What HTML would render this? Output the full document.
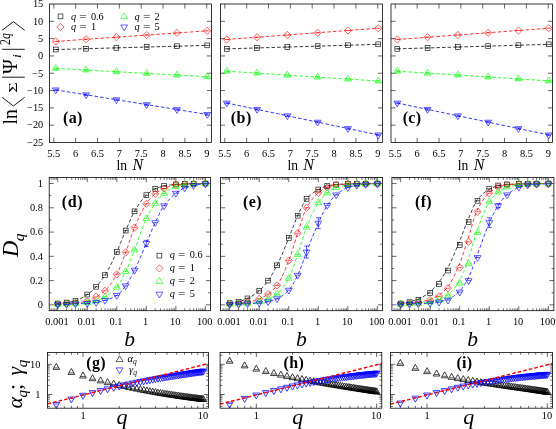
<!DOCTYPE html>
<html><head><meta charset="utf-8"><title>figure</title>
<style>html,body{margin:0;padding:0;background:#fff;}svg{display:block;}text{font-family:"Liberation Serif",serif;}</style></head>
<body>
<svg width="556" height="429" viewBox="0 0 556 429" font-family='"Liberation Serif", serif' fill="#000">
<rect width="556" height="429" fill="#fff"/>
<path d="M53.8 142.5L53.8 137.9M53.8 4L53.8 8.6M75.65 142.5L75.65 137.9M75.65 4L75.65 8.6M97.5 142.5L97.5 137.9M97.5 4L97.5 8.6M119.35 142.5L119.35 137.9M119.35 4L119.35 8.6M141.2 142.5L141.2 137.9M141.2 4L141.2 8.6M163.05 142.5L163.05 137.9M163.05 4L163.05 8.6M184.9 142.5L184.9 137.9M184.9 4L184.9 8.6M206.75 142.5L206.75 137.9M206.75 4L206.75 8.6M49.5 125.19L54.1 125.19M211.45 125.19L206.85 125.19M49.5 107.88L54.1 107.88M211.45 107.88L206.85 107.88M49.5 90.56L54.1 90.56M211.45 90.56L206.85 90.56M49.5 73.25L54.1 73.25M211.45 73.25L206.85 73.25M49.5 55.94L54.1 55.94M211.45 55.94L206.85 55.94M49.5 38.62L54.1 38.62M211.45 38.62L206.85 38.62M49.5 21.31L54.1 21.31M211.45 21.31L206.85 21.31" stroke="#000" stroke-width="0.6" fill="none"/>
<path d="M55.77 49.53L207.23 45.38" stroke="#000000" stroke-width="0.78" stroke-dasharray="3.5 2.1" fill="none"/>
<path d="M53.47 49.53H58.07" stroke="#000000" stroke-width="0.62" fill="none"/>
<rect x="53.37" y="47.13" width="4.8" height="4.8" fill="none" stroke="#000000" stroke-width="0.62"/>
<path d="M83.76 48.7H88.36" stroke="#000000" stroke-width="0.62" fill="none"/>
<rect x="83.66" y="46.3" width="4.8" height="4.8" fill="none" stroke="#000000" stroke-width="0.62"/>
<path d="M114.06 47.87H118.66" stroke="#000000" stroke-width="0.62" fill="none"/>
<rect x="113.96" y="45.47" width="4.8" height="4.8" fill="none" stroke="#000000" stroke-width="0.62"/>
<path d="M144.35 47.04H148.95" stroke="#000000" stroke-width="0.62" fill="none"/>
<rect x="144.25" y="44.64" width="4.8" height="4.8" fill="none" stroke="#000000" stroke-width="0.62"/>
<path d="M174.64 46.21H179.24" stroke="#000000" stroke-width="0.62" fill="none"/>
<rect x="174.54" y="43.81" width="4.8" height="4.8" fill="none" stroke="#000000" stroke-width="0.62"/>
<path d="M204.93 45.38H209.53" stroke="#000000" stroke-width="0.62" fill="none"/>
<rect x="204.83" y="42.98" width="4.8" height="4.8" fill="none" stroke="#000000" stroke-width="0.62"/>
<path d="M55.77 41.4L207.23 30.83" stroke="#ff0000" stroke-width="0.78" stroke-dasharray="3.5 2.1" fill="none"/>
<path d="M53.47 41.4H58.07" stroke="#ff0000" stroke-width="0.62" fill="none"/>
<path d="M55.77 37.8L59.37 41.4L55.77 45L52.17 41.4Z" fill="none" stroke="#ff0000" stroke-width="0.62"/>
<path d="M83.76 39.28H88.36" stroke="#ff0000" stroke-width="0.62" fill="none"/>
<path d="M86.06 35.68L89.66 39.28L86.06 42.88L82.46 39.28Z" fill="none" stroke="#ff0000" stroke-width="0.62"/>
<path d="M114.06 37.17H118.66" stroke="#ff0000" stroke-width="0.62" fill="none"/>
<path d="M116.36 33.57L119.96 37.17L116.36 40.77L112.76 37.17Z" fill="none" stroke="#ff0000" stroke-width="0.62"/>
<path d="M144.35 35.06H148.95" stroke="#ff0000" stroke-width="0.62" fill="none"/>
<path d="M146.65 31.46L150.25 35.06L146.65 38.66L143.05 35.06Z" fill="none" stroke="#ff0000" stroke-width="0.62"/>
<path d="M174.64 32.95H179.24" stroke="#ff0000" stroke-width="0.62" fill="none"/>
<path d="M176.94 29.35L180.54 32.95L176.94 36.55L173.34 32.95Z" fill="none" stroke="#ff0000" stroke-width="0.62"/>
<path d="M204.93 30.83H209.53" stroke="#ff0000" stroke-width="0.62" fill="none"/>
<path d="M207.23 27.23L210.83 30.83L207.23 34.43L203.63 30.83Z" fill="none" stroke="#ff0000" stroke-width="0.62"/>
<path d="M55.77 68.4L207.23 76.71" stroke="#00ff00" stroke-width="0.78" stroke-dasharray="3.5 2.1" fill="none"/>
<path d="M55.77 67.95V69.45" stroke="#00ff00" stroke-width="0.62" fill="none"/><path d="M53.47 67.95H58.07 M53.47 69.45H58.07" stroke="#00ff00" stroke-width="0.62" fill="none"/>
<path d="M55.77 64.53L59.22 70.33L52.32 70.33Z" fill="none" stroke="#00ff00" stroke-width="0.62"/>
<path d="M86.06 69.61V71.11" stroke="#00ff00" stroke-width="0.62" fill="none"/><path d="M83.76 69.61H88.36 M83.76 71.11H88.36" stroke="#00ff00" stroke-width="0.62" fill="none"/>
<path d="M86.06 66.2L89.51 72L82.61 72Z" fill="none" stroke="#00ff00" stroke-width="0.62"/>
<path d="M116.36 71.28V72.78" stroke="#00ff00" stroke-width="0.62" fill="none"/><path d="M114.06 71.28H118.66 M114.06 72.78H118.66" stroke="#00ff00" stroke-width="0.62" fill="none"/>
<path d="M116.36 67.86L119.81 73.66L112.91 73.66Z" fill="none" stroke="#00ff00" stroke-width="0.62"/>
<path d="M146.65 72.94V74.44" stroke="#00ff00" stroke-width="0.62" fill="none"/><path d="M144.35 72.94H148.95 M144.35 74.44H148.95" stroke="#00ff00" stroke-width="0.62" fill="none"/>
<path d="M146.65 69.52L150.1 75.32L143.2 75.32Z" fill="none" stroke="#00ff00" stroke-width="0.62"/>
<path d="M176.94 74.6V76.1" stroke="#00ff00" stroke-width="0.62" fill="none"/><path d="M174.64 74.6H179.24 M174.64 76.1H179.24" stroke="#00ff00" stroke-width="0.62" fill="none"/>
<path d="M176.94 71.18L180.39 76.98L173.49 76.98Z" fill="none" stroke="#00ff00" stroke-width="0.62"/>
<path d="M207.23 76.26V77.76" stroke="#00ff00" stroke-width="0.62" fill="none"/><path d="M204.93 76.26H209.53 M204.93 77.76H209.53" stroke="#00ff00" stroke-width="0.62" fill="none"/>
<path d="M207.23 72.84L210.68 78.64L203.78 78.64Z" fill="none" stroke="#00ff00" stroke-width="0.62"/>
<path d="M55.77 89.87L207.23 114.45" stroke="#0000ff" stroke-width="0.78" stroke-dasharray="3.5 2.1" fill="none"/>
<path d="M55.77 89.12V90.62" stroke="#0000ff" stroke-width="0.62" fill="none"/><path d="M53.47 89.12H58.07 M53.47 90.62H58.07" stroke="#0000ff" stroke-width="0.62" fill="none"/>
<path d="M55.77 93.74L59.22 87.94L52.32 87.94Z" fill="none" stroke="#0000ff" stroke-width="0.62"/>
<path d="M86.06 94.04V95.54" stroke="#0000ff" stroke-width="0.62" fill="none"/><path d="M83.76 94.04H88.36 M83.76 95.54H88.36" stroke="#0000ff" stroke-width="0.62" fill="none"/>
<path d="M86.06 98.66L89.51 92.86L82.61 92.86Z" fill="none" stroke="#0000ff" stroke-width="0.62"/>
<path d="M116.36 98.95V100.45" stroke="#0000ff" stroke-width="0.62" fill="none"/><path d="M114.06 98.95H118.66 M114.06 100.45H118.66" stroke="#0000ff" stroke-width="0.62" fill="none"/>
<path d="M116.36 103.57L119.81 97.77L112.91 97.77Z" fill="none" stroke="#0000ff" stroke-width="0.62"/>
<path d="M146.65 103.87V105.37" stroke="#0000ff" stroke-width="0.62" fill="none"/><path d="M144.35 103.87H148.95 M144.35 105.37H148.95" stroke="#0000ff" stroke-width="0.62" fill="none"/>
<path d="M146.65 108.49L150.1 102.69L143.2 102.69Z" fill="none" stroke="#0000ff" stroke-width="0.62"/>
<path d="M176.94 108.79V110.29" stroke="#0000ff" stroke-width="0.62" fill="none"/><path d="M174.64 108.79H179.24 M174.64 110.29H179.24" stroke="#0000ff" stroke-width="0.62" fill="none"/>
<path d="M176.94 113.41L180.39 107.61L173.49 107.61Z" fill="none" stroke="#0000ff" stroke-width="0.62"/>
<path d="M207.23 113.7V115.2" stroke="#0000ff" stroke-width="0.62" fill="none"/><path d="M204.93 113.7H209.53 M204.93 115.2H209.53" stroke="#0000ff" stroke-width="0.62" fill="none"/>
<path d="M207.23 118.32L210.68 112.52L203.78 112.52Z" fill="none" stroke="#0000ff" stroke-width="0.62"/>
<rect x="49.5" y="4" width="161.95" height="138.5" fill="none" stroke="#000" stroke-width="0.78"/>
<path d="M224.8 142.5L224.8 137.9M224.8 4L224.8 8.6M246.65 142.5L246.65 137.9M246.65 4L246.65 8.6M268.5 142.5L268.5 137.9M268.5 4L268.5 8.6M290.35 142.5L290.35 137.9M290.35 4L290.35 8.6M312.2 142.5L312.2 137.9M312.2 4L312.2 8.6M334.05 142.5L334.05 137.9M334.05 4L334.05 8.6M355.9 142.5L355.9 137.9M355.9 4L355.9 8.6M377.75 142.5L377.75 137.9M377.75 4L377.75 8.6M220.5 125.19L225.1 125.19M382.4 125.19L377.8 125.19M220.5 107.88L225.1 107.88M382.4 107.88L377.8 107.88M220.5 90.56L225.1 90.56M382.4 90.56L377.8 90.56M220.5 73.25L225.1 73.25M382.4 73.25L377.8 73.25M220.5 55.94L225.1 55.94M382.4 55.94L377.8 55.94M220.5 38.62L225.1 38.62M382.4 38.62L377.8 38.62M220.5 21.31L225.1 21.31M382.4 21.31L377.8 21.31" stroke="#000" stroke-width="0.6" fill="none"/>
<path d="M226.77 48.84L378.23 44.34" stroke="#000000" stroke-width="0.78" stroke-dasharray="3.5 2.1" fill="none"/>
<path d="M224.47 48.84H229.07" stroke="#000000" stroke-width="0.62" fill="none"/>
<rect x="224.37" y="46.44" width="4.8" height="4.8" fill="none" stroke="#000000" stroke-width="0.62"/>
<path d="M254.76 47.94H259.36" stroke="#000000" stroke-width="0.62" fill="none"/>
<rect x="254.66" y="45.54" width="4.8" height="4.8" fill="none" stroke="#000000" stroke-width="0.62"/>
<path d="M285.06 47.04H289.66" stroke="#000000" stroke-width="0.62" fill="none"/>
<rect x="284.96" y="44.64" width="4.8" height="4.8" fill="none" stroke="#000000" stroke-width="0.62"/>
<path d="M315.35 46.14H319.95" stroke="#000000" stroke-width="0.62" fill="none"/>
<rect x="315.25" y="43.74" width="4.8" height="4.8" fill="none" stroke="#000000" stroke-width="0.62"/>
<path d="M345.64 45.24H350.24" stroke="#000000" stroke-width="0.62" fill="none"/>
<rect x="345.54" y="42.84" width="4.8" height="4.8" fill="none" stroke="#000000" stroke-width="0.62"/>
<path d="M375.93 44.34H380.53" stroke="#000000" stroke-width="0.62" fill="none"/>
<rect x="375.83" y="41.94" width="4.8" height="4.8" fill="none" stroke="#000000" stroke-width="0.62"/>
<path d="M226.77 39.49L378.23 28.24" stroke="#ff0000" stroke-width="0.78" stroke-dasharray="3.5 2.1" fill="none"/>
<path d="M224.47 39.49H229.07" stroke="#ff0000" stroke-width="0.62" fill="none"/>
<path d="M226.77 35.89L230.37 39.49L226.77 43.09L223.17 39.49Z" fill="none" stroke="#ff0000" stroke-width="0.62"/>
<path d="M254.76 37.24H259.36" stroke="#ff0000" stroke-width="0.62" fill="none"/>
<path d="M257.06 33.64L260.66 37.24L257.06 40.84L253.46 37.24Z" fill="none" stroke="#ff0000" stroke-width="0.62"/>
<path d="M285.06 34.99H289.66" stroke="#ff0000" stroke-width="0.62" fill="none"/>
<path d="M287.36 31.39L290.96 34.99L287.36 38.59L283.76 34.99Z" fill="none" stroke="#ff0000" stroke-width="0.62"/>
<path d="M315.35 32.74H319.95" stroke="#ff0000" stroke-width="0.62" fill="none"/>
<path d="M317.65 29.14L321.25 32.74L317.65 36.34L314.05 32.74Z" fill="none" stroke="#ff0000" stroke-width="0.62"/>
<path d="M345.64 30.49H350.24" stroke="#ff0000" stroke-width="0.62" fill="none"/>
<path d="M347.94 26.89L351.54 30.49L347.94 34.09L344.34 30.49Z" fill="none" stroke="#ff0000" stroke-width="0.62"/>
<path d="M375.93 28.24H380.53" stroke="#ff0000" stroke-width="0.62" fill="none"/>
<path d="M378.23 24.64L381.83 28.24L378.23 31.84L374.63 28.24Z" fill="none" stroke="#ff0000" stroke-width="0.62"/>
<path d="M226.77 71.17L378.23 81.04" stroke="#00ff00" stroke-width="0.78" stroke-dasharray="3.5 2.1" fill="none"/>
<path d="M226.77 70.72V72.22" stroke="#00ff00" stroke-width="0.62" fill="none"/><path d="M224.47 70.72H229.07 M224.47 72.22H229.07" stroke="#00ff00" stroke-width="0.62" fill="none"/>
<path d="M226.77 67.3L230.22 73.1L223.32 73.1Z" fill="none" stroke="#00ff00" stroke-width="0.62"/>
<path d="M257.06 72.7V74.2" stroke="#00ff00" stroke-width="0.62" fill="none"/><path d="M254.76 72.7H259.36 M254.76 74.2H259.36" stroke="#00ff00" stroke-width="0.62" fill="none"/>
<path d="M257.06 69.28L260.51 75.08L253.61 75.08Z" fill="none" stroke="#00ff00" stroke-width="0.62"/>
<path d="M287.36 74.67V76.17" stroke="#00ff00" stroke-width="0.62" fill="none"/><path d="M285.06 74.67H289.66 M285.06 76.17H289.66" stroke="#00ff00" stroke-width="0.62" fill="none"/>
<path d="M287.36 71.25L290.81 77.05L283.91 77.05Z" fill="none" stroke="#00ff00" stroke-width="0.62"/>
<path d="M317.65 76.64V78.14" stroke="#00ff00" stroke-width="0.62" fill="none"/><path d="M315.35 76.64H319.95 M315.35 78.14H319.95" stroke="#00ff00" stroke-width="0.62" fill="none"/>
<path d="M317.65 73.22L321.1 79.02L314.2 79.02Z" fill="none" stroke="#00ff00" stroke-width="0.62"/>
<path d="M347.94 78.62V80.12" stroke="#00ff00" stroke-width="0.62" fill="none"/><path d="M345.64 78.62H350.24 M345.64 80.12H350.24" stroke="#00ff00" stroke-width="0.62" fill="none"/>
<path d="M347.94 75.2L351.39 81L344.49 81Z" fill="none" stroke="#00ff00" stroke-width="0.62"/>
<path d="M378.23 80.59V82.09" stroke="#00ff00" stroke-width="0.62" fill="none"/><path d="M375.93 80.59H380.53 M375.93 82.09H380.53" stroke="#00ff00" stroke-width="0.62" fill="none"/>
<path d="M378.23 77.17L381.68 82.97L374.78 82.97Z" fill="none" stroke="#00ff00" stroke-width="0.62"/>
<path d="M226.77 103.03L378.23 134.88" stroke="#0000ff" stroke-width="0.78" stroke-dasharray="3.5 2.1" fill="none"/>
<path d="M226.77 102.28V103.78" stroke="#0000ff" stroke-width="0.62" fill="none"/><path d="M224.47 102.28H229.07 M224.47 103.78H229.07" stroke="#0000ff" stroke-width="0.62" fill="none"/>
<path d="M226.77 106.9L230.22 101.1L223.32 101.1Z" fill="none" stroke="#0000ff" stroke-width="0.62"/>
<path d="M257.06 108.65V110.15" stroke="#0000ff" stroke-width="0.62" fill="none"/><path d="M254.76 108.65H259.36 M254.76 110.15H259.36" stroke="#0000ff" stroke-width="0.62" fill="none"/>
<path d="M257.06 113.27L260.51 107.47L253.61 107.47Z" fill="none" stroke="#0000ff" stroke-width="0.62"/>
<path d="M287.36 115.02V116.52" stroke="#0000ff" stroke-width="0.62" fill="none"/><path d="M285.06 115.02H289.66 M285.06 116.52H289.66" stroke="#0000ff" stroke-width="0.62" fill="none"/>
<path d="M287.36 119.64L290.81 113.84L283.91 113.84Z" fill="none" stroke="#0000ff" stroke-width="0.62"/>
<path d="M317.65 121.39V122.89" stroke="#0000ff" stroke-width="0.62" fill="none"/><path d="M315.35 121.39H319.95 M315.35 122.89H319.95" stroke="#0000ff" stroke-width="0.62" fill="none"/>
<path d="M317.65 126.01L321.1 120.21L314.2 120.21Z" fill="none" stroke="#0000ff" stroke-width="0.62"/>
<path d="M347.94 127.76V129.26" stroke="#0000ff" stroke-width="0.62" fill="none"/><path d="M345.64 127.76H350.24 M345.64 129.26H350.24" stroke="#0000ff" stroke-width="0.62" fill="none"/>
<path d="M347.94 132.38L351.39 126.58L344.49 126.58Z" fill="none" stroke="#0000ff" stroke-width="0.62"/>
<path d="M378.23 134.13V135.63" stroke="#0000ff" stroke-width="0.62" fill="none"/><path d="M375.93 134.13H380.53 M375.93 135.63H380.53" stroke="#0000ff" stroke-width="0.62" fill="none"/>
<path d="M378.23 138.75L381.68 132.95L374.78 132.95Z" fill="none" stroke="#0000ff" stroke-width="0.62"/>
<rect x="220.5" y="4" width="161.9" height="138.5" fill="none" stroke="#000" stroke-width="0.78"/>
<path d="M395.3 142.5L395.3 137.9M395.3 4L395.3 8.6M417.15 142.5L417.15 137.9M417.15 4L417.15 8.6M439 142.5L439 137.9M439 4L439 8.6M460.85 142.5L460.85 137.9M460.85 4L460.85 8.6M482.7 142.5L482.7 137.9M482.7 4L482.7 8.6M504.55 142.5L504.55 137.9M504.55 4L504.55 8.6M526.4 142.5L526.4 137.9M526.4 4L526.4 8.6M548.25 142.5L548.25 137.9M548.25 4L548.25 8.6M391 125.19L395.6 125.19M552.55 125.19L547.95 125.19M391 107.88L395.6 107.88M552.55 107.88L547.95 107.88M391 90.56L395.6 90.56M552.55 90.56L547.95 90.56M391 73.25L395.6 73.25M552.55 73.25L547.95 73.25M391 55.94L395.6 55.94M552.55 55.94L547.95 55.94M391 38.62L395.6 38.62M552.55 38.62L547.95 38.62M391 21.31L395.6 21.31M552.55 21.31L547.95 21.31" stroke="#000" stroke-width="0.6" fill="none"/>
<path d="M397.27 48.84L548.73 44.34" stroke="#000000" stroke-width="0.78" stroke-dasharray="3.5 2.1" fill="none"/>
<path d="M394.97 48.84H399.57" stroke="#000000" stroke-width="0.62" fill="none"/>
<rect x="394.87" y="46.44" width="4.8" height="4.8" fill="none" stroke="#000000" stroke-width="0.62"/>
<path d="M425.26 47.94H429.86" stroke="#000000" stroke-width="0.62" fill="none"/>
<rect x="425.16" y="45.54" width="4.8" height="4.8" fill="none" stroke="#000000" stroke-width="0.62"/>
<path d="M455.56 47.04H460.16" stroke="#000000" stroke-width="0.62" fill="none"/>
<rect x="455.46" y="44.64" width="4.8" height="4.8" fill="none" stroke="#000000" stroke-width="0.62"/>
<path d="M485.85 46.14H490.45" stroke="#000000" stroke-width="0.62" fill="none"/>
<rect x="485.75" y="43.74" width="4.8" height="4.8" fill="none" stroke="#000000" stroke-width="0.62"/>
<path d="M516.14 45.24H520.74" stroke="#000000" stroke-width="0.62" fill="none"/>
<rect x="516.04" y="42.84" width="4.8" height="4.8" fill="none" stroke="#000000" stroke-width="0.62"/>
<path d="M546.43 44.34H551.03" stroke="#000000" stroke-width="0.62" fill="none"/>
<rect x="546.33" y="41.94" width="4.8" height="4.8" fill="none" stroke="#000000" stroke-width="0.62"/>
<path d="M397.27 39.49L548.73 28.24" stroke="#ff0000" stroke-width="0.78" stroke-dasharray="3.5 2.1" fill="none"/>
<path d="M394.97 39.49H399.57" stroke="#ff0000" stroke-width="0.62" fill="none"/>
<path d="M397.27 35.89L400.87 39.49L397.27 43.09L393.67 39.49Z" fill="none" stroke="#ff0000" stroke-width="0.62"/>
<path d="M425.26 37.24H429.86" stroke="#ff0000" stroke-width="0.62" fill="none"/>
<path d="M427.56 33.64L431.16 37.24L427.56 40.84L423.96 37.24Z" fill="none" stroke="#ff0000" stroke-width="0.62"/>
<path d="M455.56 34.99H460.16" stroke="#ff0000" stroke-width="0.62" fill="none"/>
<path d="M457.86 31.39L461.46 34.99L457.86 38.59L454.26 34.99Z" fill="none" stroke="#ff0000" stroke-width="0.62"/>
<path d="M485.85 32.74H490.45" stroke="#ff0000" stroke-width="0.62" fill="none"/>
<path d="M488.15 29.14L491.75 32.74L488.15 36.34L484.55 32.74Z" fill="none" stroke="#ff0000" stroke-width="0.62"/>
<path d="M516.14 30.49H520.74" stroke="#ff0000" stroke-width="0.62" fill="none"/>
<path d="M518.44 26.89L522.04 30.49L518.44 34.09L514.84 30.49Z" fill="none" stroke="#ff0000" stroke-width="0.62"/>
<path d="M546.43 28.24H551.03" stroke="#ff0000" stroke-width="0.62" fill="none"/>
<path d="M548.73 24.64L552.33 28.24L548.73 31.84L545.13 28.24Z" fill="none" stroke="#ff0000" stroke-width="0.62"/>
<path d="M397.27 71.17L548.73 80.87" stroke="#00ff00" stroke-width="0.78" stroke-dasharray="3.5 2.1" fill="none"/>
<path d="M397.27 70.72V72.22" stroke="#00ff00" stroke-width="0.62" fill="none"/><path d="M394.97 70.72H399.57 M394.97 72.22H399.57" stroke="#00ff00" stroke-width="0.62" fill="none"/>
<path d="M397.27 67.3L400.72 73.1L393.82 73.1Z" fill="none" stroke="#00ff00" stroke-width="0.62"/>
<path d="M427.56 72.66V74.16" stroke="#00ff00" stroke-width="0.62" fill="none"/><path d="M425.26 72.66H429.86 M425.26 74.16H429.86" stroke="#00ff00" stroke-width="0.62" fill="none"/>
<path d="M427.56 69.24L431.01 75.04L424.11 75.04Z" fill="none" stroke="#00ff00" stroke-width="0.62"/>
<path d="M457.86 74.6V76.1" stroke="#00ff00" stroke-width="0.62" fill="none"/><path d="M455.56 74.6H460.16 M455.56 76.1H460.16" stroke="#00ff00" stroke-width="0.62" fill="none"/>
<path d="M457.86 71.18L461.31 76.98L454.41 76.98Z" fill="none" stroke="#00ff00" stroke-width="0.62"/>
<path d="M488.15 76.54V78.04" stroke="#00ff00" stroke-width="0.62" fill="none"/><path d="M485.85 76.54H490.45 M485.85 78.04H490.45" stroke="#00ff00" stroke-width="0.62" fill="none"/>
<path d="M488.15 73.12L491.6 78.92L484.7 78.92Z" fill="none" stroke="#00ff00" stroke-width="0.62"/>
<path d="M518.44 78.48V79.98" stroke="#00ff00" stroke-width="0.62" fill="none"/><path d="M516.14 78.48H520.74 M516.14 79.98H520.74" stroke="#00ff00" stroke-width="0.62" fill="none"/>
<path d="M518.44 75.06L521.89 80.86L514.99 80.86Z" fill="none" stroke="#00ff00" stroke-width="0.62"/>
<path d="M548.73 80.42V81.92" stroke="#00ff00" stroke-width="0.62" fill="none"/><path d="M546.43 80.42H551.03 M546.43 81.92H551.03" stroke="#00ff00" stroke-width="0.62" fill="none"/>
<path d="M548.73 77L552.18 82.8L545.28 82.8Z" fill="none" stroke="#00ff00" stroke-width="0.62"/>
<path d="M397.27 103.03L548.73 134.88" stroke="#0000ff" stroke-width="0.78" stroke-dasharray="3.5 2.1" fill="none"/>
<path d="M397.27 102.28V103.78" stroke="#0000ff" stroke-width="0.62" fill="none"/><path d="M394.97 102.28H399.57 M394.97 103.78H399.57" stroke="#0000ff" stroke-width="0.62" fill="none"/>
<path d="M397.27 106.9L400.72 101.1L393.82 101.1Z" fill="none" stroke="#0000ff" stroke-width="0.62"/>
<path d="M427.56 108.65V110.15" stroke="#0000ff" stroke-width="0.62" fill="none"/><path d="M425.26 108.65H429.86 M425.26 110.15H429.86" stroke="#0000ff" stroke-width="0.62" fill="none"/>
<path d="M427.56 113.27L431.01 107.47L424.11 107.47Z" fill="none" stroke="#0000ff" stroke-width="0.62"/>
<path d="M457.86 115.02V116.52" stroke="#0000ff" stroke-width="0.62" fill="none"/><path d="M455.56 115.02H460.16 M455.56 116.52H460.16" stroke="#0000ff" stroke-width="0.62" fill="none"/>
<path d="M457.86 119.64L461.31 113.84L454.41 113.84Z" fill="none" stroke="#0000ff" stroke-width="0.62"/>
<path d="M488.15 121.39V122.89" stroke="#0000ff" stroke-width="0.62" fill="none"/><path d="M485.85 121.39H490.45 M485.85 122.89H490.45" stroke="#0000ff" stroke-width="0.62" fill="none"/>
<path d="M488.15 126.01L491.6 120.21L484.7 120.21Z" fill="none" stroke="#0000ff" stroke-width="0.62"/>
<path d="M518.44 127.76V129.26" stroke="#0000ff" stroke-width="0.62" fill="none"/><path d="M516.14 127.76H520.74 M516.14 129.26H520.74" stroke="#0000ff" stroke-width="0.62" fill="none"/>
<path d="M518.44 132.38L521.89 126.58L514.99 126.58Z" fill="none" stroke="#0000ff" stroke-width="0.62"/>
<path d="M548.73 134.13V135.63" stroke="#0000ff" stroke-width="0.62" fill="none"/><path d="M546.43 134.13H551.03 M546.43 135.63H551.03" stroke="#0000ff" stroke-width="0.62" fill="none"/>
<path d="M548.73 138.75L552.18 132.95L545.28 132.95Z" fill="none" stroke="#0000ff" stroke-width="0.62"/>
<rect x="391" y="4" width="161.55" height="138.5" fill="none" stroke="#000" stroke-width="0.78"/>
<rect x="58.1" y="14" width="4.8" height="4.8" fill="none" stroke="#000000" stroke-width="0.62"/>
<path d="M60.4 23.4L64 27L60.4 30.6L56.8 27Z" fill="none" stroke="#ff0000" stroke-width="0.62"/>
<path d="M124.2 12.83L127.65 18.63L120.75 18.63Z" fill="none" stroke="#00ff00" stroke-width="0.62"/>
<path d="M124.2 30.77L127.65 24.97L120.75 24.97Z" fill="none" stroke="#0000ff" stroke-width="0.62"/>
<path d="M51.15 310.7L51.15 308.4M51.15 177.5L51.15 179.8M53.12 310.7L53.12 308.4M53.12 177.5L53.12 179.8M54.84 310.7L54.84 308.4M54.84 177.5L54.84 179.8M56.35 310.7L56.35 308.4M56.35 177.5L56.35 179.8M57.7 310.7L57.7 306.1M57.7 177.5L57.7 182.1M66.59 310.7L66.59 308.4M66.59 177.5L66.59 179.8M71.79 310.7L71.79 308.4M71.79 177.5L71.79 179.8M75.48 310.7L75.48 308.4M75.48 177.5L75.48 179.8M78.35 310.7L78.35 308.4M78.35 177.5L78.35 179.8M80.69 310.7L80.69 308.4M80.69 177.5L80.69 179.8M82.66 310.7L82.66 308.4M82.66 177.5L82.66 179.8M84.38 310.7L84.38 308.4M84.38 177.5L84.38 179.8M85.89 310.7L85.89 308.4M85.89 177.5L85.89 179.8M87.24 310.7L87.24 306.1M87.24 177.5L87.24 182.1M96.13 310.7L96.13 308.4M96.13 177.5L96.13 179.8M101.33 310.7L101.33 308.4M101.33 177.5L101.33 179.8M105.02 310.7L105.02 308.4M105.02 177.5L105.02 179.8M107.89 310.7L107.89 308.4M107.89 177.5L107.89 179.8M110.23 310.7L110.23 308.4M110.23 177.5L110.23 179.8M112.2 310.7L112.2 308.4M112.2 177.5L112.2 179.8M113.92 310.7L113.92 308.4M113.92 177.5L113.92 179.8M115.43 310.7L115.43 308.4M115.43 177.5L115.43 179.8M116.78 310.7L116.78 306.1M116.78 177.5L116.78 182.1M125.67 310.7L125.67 308.4M125.67 177.5L125.67 179.8M130.87 310.7L130.87 308.4M130.87 177.5L130.87 179.8M134.56 310.7L134.56 308.4M134.56 177.5L134.56 179.8M137.43 310.7L137.43 308.4M137.43 177.5L137.43 179.8M139.77 310.7L139.77 308.4M139.77 177.5L139.77 179.8M141.74 310.7L141.74 308.4M141.74 177.5L141.74 179.8M143.46 310.7L143.46 308.4M143.46 177.5L143.46 179.8M144.97 310.7L144.97 308.4M144.97 177.5L144.97 179.8M146.32 310.7L146.32 306.1M146.32 177.5L146.32 182.1M155.21 310.7L155.21 308.4M155.21 177.5L155.21 179.8M160.41 310.7L160.41 308.4M160.41 177.5L160.41 179.8M164.1 310.7L164.1 308.4M164.1 177.5L164.1 179.8M166.97 310.7L166.97 308.4M166.97 177.5L166.97 179.8M169.31 310.7L169.31 308.4M169.31 177.5L169.31 179.8M171.28 310.7L171.28 308.4M171.28 177.5L171.28 179.8M173 310.7L173 308.4M173 177.5L173 179.8M174.51 310.7L174.51 308.4M174.51 177.5L174.51 179.8M175.86 310.7L175.86 306.1M175.86 177.5L175.86 182.1M184.75 310.7L184.75 308.4M184.75 177.5L184.75 179.8M189.95 310.7L189.95 308.4M189.95 177.5L189.95 179.8M193.64 310.7L193.64 308.4M193.64 177.5L193.64 179.8M196.51 310.7L196.51 308.4M196.51 177.5L196.51 179.8M198.85 310.7L198.85 308.4M198.85 177.5L198.85 179.8M200.82 310.7L200.82 308.4M200.82 177.5L200.82 179.8M202.54 310.7L202.54 308.4M202.54 177.5L202.54 179.8M204.05 310.7L204.05 308.4M204.05 177.5L204.05 179.8M205.4 310.7L205.4 306.1M205.4 177.5L205.4 182.1M49.2 304.85L53.8 304.85M210.5 304.85L205.9 304.85M49.2 292.72L51.5 292.72M210.5 292.72L208.2 292.72M49.2 280.59L53.8 280.59M210.5 280.59L205.9 280.59M49.2 268.46L51.5 268.46M210.5 268.46L208.2 268.46M49.2 256.33L53.8 256.33M210.5 256.33L205.9 256.33M49.2 244.2L51.5 244.2M210.5 244.2L208.2 244.2M49.2 232.07L53.8 232.07M210.5 232.07L205.9 232.07M49.2 219.94L51.5 219.94M210.5 219.94L208.2 219.94M49.2 207.81L53.8 207.81M210.5 207.81L205.9 207.81M49.2 195.68L51.5 195.68M210.5 195.68L208.2 195.68M49.2 183.55L53.8 183.55M210.5 183.55L205.9 183.55" stroke="#000" stroke-width="0.6" fill="none"/>
<path d="M57.7 303.52L58.93 303.43L60.16 303.32L61.39 303.2L62.62 303.07L63.85 302.92L65.09 302.75L66.32 302.58L67.55 302.41L68.78 302.21L70.01 302L71.24 301.76L72.47 301.5L73.7 301.2L74.93 300.88L76.16 300.52L77.39 300.08L78.62 299.56L79.86 298.98L81.09 298.34L82.32 297.64L83.55 296.91L84.78 296.14L86.01 295.35L87.24 294.54L88.47 293.68L89.7 292.75L90.93 291.74L92.16 290.66L93.39 289.52L94.63 288.32L95.86 287.06L97.09 285.75L98.32 284.34L99.55 282.84L100.78 281.26L102.01 279.59L103.24 277.83L104.47 275.99L105.7 274.05L106.93 271.97L108.16 269.76L109.4 267.44L110.63 265.01L111.86 262.5L113.09 259.92L114.32 257.3L115.55 254.64L116.78 251.96L118.01 249.2L119.24 246.28L120.47 243.27L121.7 240.22L122.93 237.16L124.17 234.15L125.4 231.25L126.63 228.42L127.86 225.55L129.09 222.68L130.32 219.87L131.55 217.17L132.78 214.63L134.01 212.3L135.24 210.18L136.47 208.15L137.7 206.19L138.94 204.31L140.17 202.51L141.4 200.81L142.63 199.22L143.86 197.75L145.09 196.4L146.32 195.19L147.55 194.09L148.78 193.05L150.01 192.07L151.24 191.18L152.47 190.36L153.71 189.64L154.94 189.01L156.17 188.47L157.4 187.97L158.63 187.5L159.86 187.08L161.09 186.71L162.32 186.37L163.55 186.09L164.78 185.85L166.01 185.62L167.24 185.42L168.48 185.23L169.71 185.05L170.94 184.89L172.17 184.75L173.4 184.62L174.63 184.5L175.86 184.4L177.09 184.31L178.32 184.23L179.55 184.15L180.78 184.09L182.01 184.03L183.25 183.97L184.48 183.92L185.71 183.88L186.94 183.84L188.17 183.8L189.4 183.76L190.63 183.73L191.86 183.7L193.09 183.68L194.32 183.66L195.55 183.64L196.78 183.62L198.02 183.61L199.25 183.59L200.48 183.58L201.71 183.57L202.94 183.56L204.17 183.55L205.4 183.55" stroke="#000000" stroke-width="0.78" stroke-dasharray="3.5 2.3" fill="none"/>
<path d="M57.7 304.12L58.93 304.07L60.16 304.01L61.39 303.95L62.62 303.88L63.85 303.81L65.09 303.73L66.32 303.66L67.55 303.57L68.78 303.49L70.01 303.4L71.24 303.3L72.47 303.2L73.7 303.08L74.93 302.97L76.16 302.84L77.39 302.71L78.62 302.58L79.86 302.44L81.09 302.28L82.32 302.11L83.55 301.92L84.78 301.71L86.01 301.48L87.24 301.21L88.47 300.86L89.7 300.38L90.93 299.8L92.16 299.15L93.39 298.45L94.63 297.72L95.86 297L97.09 296.3L98.32 295.58L99.55 294.84L100.78 294.05L102.01 293.2L103.24 292.28L104.47 291.27L105.7 290.14L106.93 288.88L108.16 287.47L109.4 285.93L110.63 284.26L111.86 282.47L113.09 280.57L114.32 278.57L115.55 276.47L116.78 274.28L118.01 271.86L119.24 269.12L120.47 266.13L121.7 262.95L122.93 259.66L124.17 256.34L125.4 253.05L126.63 249.76L127.86 246.28L129.09 242.7L130.32 239.08L131.55 235.53L132.78 232.11L134.01 228.92L135.24 225.99L136.47 223.11L137.7 220.29L138.94 217.55L140.17 214.9L141.4 212.36L142.63 209.96L143.86 207.72L145.09 205.66L146.32 203.81L147.55 202.1L148.78 200.5L150.01 198.99L151.24 197.59L152.47 196.3L153.71 195.13L154.94 194.08L156.17 193.13L157.4 192.25L158.63 191.43L159.86 190.66L161.09 189.97L162.32 189.33L163.55 188.76L164.78 188.24L166.01 187.74L167.24 187.26L168.48 186.8L169.71 186.37L170.94 185.98L172.17 185.63L173.4 185.32L174.63 185.07L175.86 184.88L177.09 184.74L178.32 184.61L179.55 184.5L180.78 184.4L182.01 184.32L183.25 184.24L184.48 184.17L185.71 184.11L186.94 184.04L188.17 183.99L189.4 183.94L190.63 183.89L191.86 183.85L193.09 183.81L194.32 183.77L195.55 183.74L196.78 183.71L198.02 183.68L199.25 183.65L200.48 183.62L201.71 183.6L202.94 183.58L204.17 183.56L205.4 183.55" stroke="#ff0000" stroke-width="0.78" stroke-dasharray="3.5 2.3" fill="none"/>
<path d="M57.7 304.36L58.93 304.32L60.16 304.28L61.39 304.23L62.62 304.18L63.85 304.12L65.09 304.07L66.32 304.01L67.55 303.96L68.78 303.89L70.01 303.83L71.24 303.76L72.47 303.69L73.7 303.62L74.93 303.55L76.16 303.47L77.39 303.4L78.62 303.33L79.86 303.25L81.09 303.17L82.32 303.09L83.55 303L84.78 302.9L86.01 302.79L87.24 302.67L88.47 302.53L89.7 302.36L90.93 302.18L92.16 301.96L93.39 301.72L94.63 301.46L95.86 301.16L97.09 300.81L98.32 300.37L99.55 299.84L100.78 299.24L102.01 298.59L103.24 297.89L104.47 297.17L105.7 296.44L106.93 295.67L108.16 294.85L109.4 293.99L110.63 293.06L111.86 292.07L113.09 291L114.32 289.85L115.55 288.6L116.78 287.26L118.01 285.71L119.24 283.87L120.47 281.81L121.7 279.55L122.93 277.17L124.17 274.69L125.4 272.18L126.63 269.6L127.86 266.83L129.09 263.91L130.32 260.87L131.55 257.75L132.78 254.59L134.01 251.43L135.24 248.27L136.47 244.94L137.7 241.49L138.94 237.96L140.17 234.42L141.4 230.92L142.63 227.54L143.86 224.31L145.09 221.32L146.32 218.61L147.55 216.11L148.78 213.74L150.01 211.48L151.24 209.34L152.47 207.33L153.71 205.45L154.94 203.7L156.17 202.06L157.4 200.48L158.63 198.98L159.86 197.56L161.09 196.25L162.32 195.04L163.55 193.95L164.78 192.97L166.01 192.02L167.24 191.1L168.48 190.22L169.71 189.39L170.94 188.63L172.17 187.94L173.4 187.35L174.63 186.85L175.86 186.46L177.09 186.15L178.32 185.88L179.55 185.63L180.78 185.42L182.01 185.23L183.25 185.06L184.48 184.92L185.71 184.78L186.94 184.66L188.17 184.54L189.4 184.44L190.63 184.35L191.86 184.26L193.09 184.19L194.32 184.12L195.55 184.05L196.78 183.99L198.02 183.93L199.25 183.87L200.48 183.82L201.71 183.77L202.94 183.73L204.17 183.7L205.4 183.67" stroke="#00ff00" stroke-width="0.78" stroke-dasharray="3.5 2.3" fill="none"/>
<path d="M57.7 304.49L58.93 304.46L60.16 304.43L61.39 304.4L62.62 304.37L63.85 304.33L65.09 304.29L66.32 304.25L67.55 304.21L68.78 304.16L70.01 304.11L71.24 304.06L72.47 304.01L73.7 303.96L74.93 303.9L76.16 303.85L77.39 303.81L78.62 303.76L79.86 303.72L81.09 303.68L82.32 303.63L83.55 303.58L84.78 303.53L86.01 303.46L87.24 303.39L88.47 303.31L89.7 303.21L90.93 303.09L92.16 302.95L93.39 302.8L94.63 302.64L95.86 302.46L97.09 302.27L98.32 302.05L99.55 301.79L100.78 301.51L102.01 301.2L103.24 300.87L104.47 300.52L105.7 300.16L106.93 299.78L108.16 299.37L109.4 298.93L110.63 298.46L111.86 297.95L113.09 297.39L114.32 296.79L115.55 296.12L116.78 295.39L118.01 294.52L119.24 293.45L120.47 292.22L121.7 290.85L122.93 289.36L124.17 287.8L125.4 286.18L126.63 284.47L127.86 282.57L129.09 280.52L130.32 278.33L131.55 276.03L132.78 273.66L134.01 271.25L135.24 268.8L136.47 266.22L137.7 263.53L138.94 260.75L140.17 257.89L141.4 254.99L142.63 252.06L143.86 249.13L145.09 246.22L146.32 243.35L147.55 240.47L148.78 237.52L150.01 234.55L151.24 231.6L152.47 228.69L153.71 225.88L154.94 223.19L156.17 220.6L157.4 218.01L158.63 215.46L159.86 212.99L161.09 210.65L162.32 208.49L163.55 206.54L164.78 204.83L166.01 203.22L167.24 201.69L168.48 200.24L169.71 198.88L170.94 197.6L172.17 196.4L173.4 195.27L174.63 194.22L175.86 193.25L177.09 192.34L178.32 191.46L179.55 190.64L180.78 189.87L182.01 189.17L183.25 188.55L184.48 188.02L185.71 187.57L186.94 187.16L188.17 186.78L189.4 186.44L190.63 186.13L191.86 185.85L193.09 185.59L194.32 185.37L195.55 185.15L196.78 184.94L198.02 184.74L199.25 184.55L200.48 184.38L201.71 184.23L202.94 184.1L204.17 184L205.4 183.91" stroke="#0000ff" stroke-width="0.78" stroke-dasharray="3.5 2.3" fill="none"/>
<path d="M55.2 303.52H60.2" stroke="#000000" stroke-width="0.62" fill="none"/>
<rect x="55.3" y="301.12" width="4.8" height="4.8" fill="none" stroke="#000000" stroke-width="0.62"/>
<path d="M64.09 302.55H69.09" stroke="#000000" stroke-width="0.62" fill="none"/>
<rect x="64.19" y="300.15" width="4.8" height="4.8" fill="none" stroke="#000000" stroke-width="0.62"/>
<path d="M72.98 300.73H77.98" stroke="#000000" stroke-width="0.62" fill="none"/>
<rect x="73.08" y="298.33" width="4.8" height="4.8" fill="none" stroke="#000000" stroke-width="0.62"/>
<path d="M84.74 294.54H89.74" stroke="#000000" stroke-width="0.62" fill="none"/>
<rect x="84.84" y="292.14" width="4.8" height="4.8" fill="none" stroke="#000000" stroke-width="0.62"/>
<path d="M93.63 286.78H98.63" stroke="#000000" stroke-width="0.62" fill="none"/>
<rect x="93.73" y="284.38" width="4.8" height="4.8" fill="none" stroke="#000000" stroke-width="0.62"/>
<path d="M102.52 275.13H107.52" stroke="#000000" stroke-width="0.62" fill="none"/>
<rect x="102.62" y="272.73" width="4.8" height="4.8" fill="none" stroke="#000000" stroke-width="0.62"/>
<path d="M114.28 251.96H119.28" stroke="#000000" stroke-width="0.62" fill="none"/>
<rect x="114.38" y="249.56" width="4.8" height="4.8" fill="none" stroke="#000000" stroke-width="0.62"/>
<path d="M123.17 230.61H128.17" stroke="#000000" stroke-width="0.62" fill="none"/>
<rect x="123.27" y="228.21" width="4.8" height="4.8" fill="none" stroke="#000000" stroke-width="0.62"/>
<path d="M132.06 211.33H137.06" stroke="#000000" stroke-width="0.62" fill="none"/>
<rect x="132.16" y="208.93" width="4.8" height="4.8" fill="none" stroke="#000000" stroke-width="0.62"/>
<path d="M143.82 195.19H148.82" stroke="#000000" stroke-width="0.62" fill="none"/>
<rect x="143.92" y="192.79" width="4.8" height="4.8" fill="none" stroke="#000000" stroke-width="0.62"/>
<path d="M152.71 188.89H157.71" stroke="#000000" stroke-width="0.62" fill="none"/>
<rect x="152.81" y="186.49" width="4.8" height="4.8" fill="none" stroke="#000000" stroke-width="0.62"/>
<path d="M161.6 185.98H166.6" stroke="#000000" stroke-width="0.62" fill="none"/>
<rect x="161.7" y="183.58" width="4.8" height="4.8" fill="none" stroke="#000000" stroke-width="0.62"/>
<path d="M173.36 184.4H178.36" stroke="#000000" stroke-width="0.62" fill="none"/>
<rect x="173.46" y="182" width="4.8" height="4.8" fill="none" stroke="#000000" stroke-width="0.62"/>
<path d="M182.25 183.91H187.25" stroke="#000000" stroke-width="0.62" fill="none"/>
<rect x="182.35" y="181.51" width="4.8" height="4.8" fill="none" stroke="#000000" stroke-width="0.62"/>
<path d="M191.14 183.67H196.14" stroke="#000000" stroke-width="0.62" fill="none"/>
<rect x="191.24" y="181.27" width="4.8" height="4.8" fill="none" stroke="#000000" stroke-width="0.62"/>
<path d="M202.9 183.55H207.9" stroke="#000000" stroke-width="0.62" fill="none"/>
<rect x="203" y="181.15" width="4.8" height="4.8" fill="none" stroke="#000000" stroke-width="0.62"/>
<path d="M55.2 304.12H60.2" stroke="#ff0000" stroke-width="0.62" fill="none"/>
<path d="M57.7 300.52L61.3 304.12L57.7 307.72L54.1 304.12Z" fill="none" stroke="#ff0000" stroke-width="0.62"/>
<path d="M64.09 303.64H69.09" stroke="#ff0000" stroke-width="0.62" fill="none"/>
<path d="M66.59 300.04L70.19 303.64L66.59 307.24L62.99 303.64Z" fill="none" stroke="#ff0000" stroke-width="0.62"/>
<path d="M72.98 302.91H77.98" stroke="#ff0000" stroke-width="0.62" fill="none"/>
<path d="M75.48 299.31L79.08 302.91L75.48 306.51L71.88 302.91Z" fill="none" stroke="#ff0000" stroke-width="0.62"/>
<path d="M84.74 301.21H89.74" stroke="#ff0000" stroke-width="0.62" fill="none"/>
<path d="M87.24 297.61L90.84 301.21L87.24 304.81L83.64 301.21Z" fill="none" stroke="#ff0000" stroke-width="0.62"/>
<path d="M93.63 296.84H98.63" stroke="#ff0000" stroke-width="0.62" fill="none"/>
<path d="M96.13 293.24L99.73 296.84L96.13 300.44L92.53 296.84Z" fill="none" stroke="#ff0000" stroke-width="0.62"/>
<path d="M102.52 290.78H107.52" stroke="#ff0000" stroke-width="0.62" fill="none"/>
<path d="M105.02 287.18L108.62 290.78L105.02 294.38L101.42 290.78Z" fill="none" stroke="#ff0000" stroke-width="0.62"/>
<path d="M114.28 274.28H119.28" stroke="#ff0000" stroke-width="0.62" fill="none"/>
<path d="M116.78 270.68L120.38 274.28L116.78 277.88L113.18 274.28Z" fill="none" stroke="#ff0000" stroke-width="0.62"/>
<path d="M123.17 252.33H128.17" stroke="#ff0000" stroke-width="0.62" fill="none"/>
<path d="M125.67 248.73L129.27 252.33L125.67 255.93L122.07 252.33Z" fill="none" stroke="#ff0000" stroke-width="0.62"/>
<path d="M132.06 227.58H137.06" stroke="#ff0000" stroke-width="0.62" fill="none"/>
<path d="M134.56 223.98L138.16 227.58L134.56 231.18L130.96 227.58Z" fill="none" stroke="#ff0000" stroke-width="0.62"/>
<path d="M143.82 203.81H148.82" stroke="#ff0000" stroke-width="0.62" fill="none"/>
<path d="M146.32 200.21L149.92 203.81L146.32 207.41L142.72 203.81Z" fill="none" stroke="#ff0000" stroke-width="0.62"/>
<path d="M152.71 193.86H157.71" stroke="#ff0000" stroke-width="0.62" fill="none"/>
<path d="M155.21 190.26L158.81 193.86L155.21 197.46L151.61 193.86Z" fill="none" stroke="#ff0000" stroke-width="0.62"/>
<path d="M161.6 188.52H166.6" stroke="#ff0000" stroke-width="0.62" fill="none"/>
<path d="M164.1 184.92L167.7 188.52L164.1 192.12L160.5 188.52Z" fill="none" stroke="#ff0000" stroke-width="0.62"/>
<path d="M173.36 184.88H178.36" stroke="#ff0000" stroke-width="0.62" fill="none"/>
<path d="M175.86 181.28L179.46 184.88L175.86 188.48L172.26 184.88Z" fill="none" stroke="#ff0000" stroke-width="0.62"/>
<path d="M182.25 184.16H187.25" stroke="#ff0000" stroke-width="0.62" fill="none"/>
<path d="M184.75 180.56L188.35 184.16L184.75 187.76L181.15 184.16Z" fill="none" stroke="#ff0000" stroke-width="0.62"/>
<path d="M191.14 183.79H196.14" stroke="#ff0000" stroke-width="0.62" fill="none"/>
<path d="M193.64 180.19L197.24 183.79L193.64 187.39L190.04 183.79Z" fill="none" stroke="#ff0000" stroke-width="0.62"/>
<path d="M202.9 183.55H207.9" stroke="#ff0000" stroke-width="0.62" fill="none"/>
<path d="M205.4 179.95L209 183.55L205.4 187.15L201.8 183.55Z" fill="none" stroke="#ff0000" stroke-width="0.62"/>
<path d="M55.2 304.36H60.2" stroke="#00ff00" stroke-width="0.62" fill="none"/>
<path d="M57.7 300.5L61.15 306.3L54.25 306.3Z" fill="none" stroke="#00ff00" stroke-width="0.62"/>
<path d="M64.09 304H69.09" stroke="#00ff00" stroke-width="0.62" fill="none"/>
<path d="M66.59 300.13L70.04 305.93L63.14 305.93Z" fill="none" stroke="#00ff00" stroke-width="0.62"/>
<path d="M72.98 303.52H77.98" stroke="#00ff00" stroke-width="0.62" fill="none"/>
<path d="M75.48 299.65L78.93 305.45L72.03 305.45Z" fill="none" stroke="#00ff00" stroke-width="0.62"/>
<path d="M84.74 302.67H89.74" stroke="#00ff00" stroke-width="0.62" fill="none"/>
<path d="M87.24 298.8L90.69 304.6L83.79 304.6Z" fill="none" stroke="#00ff00" stroke-width="0.62"/>
<path d="M93.63 301.09H98.63" stroke="#00ff00" stroke-width="0.62" fill="none"/>
<path d="M96.13 297.22L99.58 303.02L92.68 303.02Z" fill="none" stroke="#00ff00" stroke-width="0.62"/>
<path d="M102.52 296.84H107.52" stroke="#00ff00" stroke-width="0.62" fill="none"/>
<path d="M105.02 292.98L108.47 298.78L101.57 298.78Z" fill="none" stroke="#00ff00" stroke-width="0.62"/>
<path d="M114.28 287.26H119.28" stroke="#00ff00" stroke-width="0.62" fill="none"/>
<path d="M116.78 283.39L120.23 289.19L113.33 289.19Z" fill="none" stroke="#00ff00" stroke-width="0.62"/>
<path d="M123.17 271.61H128.17" stroke="#00ff00" stroke-width="0.62" fill="none"/>
<path d="M125.67 267.75L129.12 273.55L122.22 273.55Z" fill="none" stroke="#00ff00" stroke-width="0.62"/>
<path d="M132.06 250.02H137.06" stroke="#00ff00" stroke-width="0.62" fill="none"/>
<path d="M134.56 246.15L138.01 251.95L131.11 251.95Z" fill="none" stroke="#00ff00" stroke-width="0.62"/>
<path d="M143.82 218.61H148.82" stroke="#00ff00" stroke-width="0.62" fill="none"/>
<path d="M146.32 214.74L149.77 220.54L142.87 220.54Z" fill="none" stroke="#00ff00" stroke-width="0.62"/>
<path d="M152.71 203.32H157.71" stroke="#00ff00" stroke-width="0.62" fill="none"/>
<path d="M155.21 199.45L158.66 205.25L151.76 205.25Z" fill="none" stroke="#00ff00" stroke-width="0.62"/>
<path d="M161.6 193.5H166.6" stroke="#00ff00" stroke-width="0.62" fill="none"/>
<path d="M164.1 189.63L167.55 195.43L160.65 195.43Z" fill="none" stroke="#00ff00" stroke-width="0.62"/>
<path d="M173.36 186.46H178.36" stroke="#00ff00" stroke-width="0.62" fill="none"/>
<path d="M175.86 182.59L179.31 188.39L172.41 188.39Z" fill="none" stroke="#00ff00" stroke-width="0.62"/>
<path d="M182.25 184.88H187.25" stroke="#00ff00" stroke-width="0.62" fill="none"/>
<path d="M184.75 181.02L188.2 186.82L181.3 186.82Z" fill="none" stroke="#00ff00" stroke-width="0.62"/>
<path d="M191.14 184.16H196.14" stroke="#00ff00" stroke-width="0.62" fill="none"/>
<path d="M193.64 180.29L197.09 186.09L190.19 186.09Z" fill="none" stroke="#00ff00" stroke-width="0.62"/>
<path d="M202.9 183.67H207.9" stroke="#00ff00" stroke-width="0.62" fill="none"/>
<path d="M205.4 179.8L208.85 185.6L201.95 185.6Z" fill="none" stroke="#00ff00" stroke-width="0.62"/>
<path d="M55.2 304.49H60.2" stroke="#0000ff" stroke-width="0.62" fill="none"/>
<path d="M57.7 308.35L61.15 302.55L54.25 302.55Z" fill="none" stroke="#0000ff" stroke-width="0.62"/>
<path d="M64.09 304.24H69.09" stroke="#0000ff" stroke-width="0.62" fill="none"/>
<path d="M66.59 308.11L70.04 302.31L63.14 302.31Z" fill="none" stroke="#0000ff" stroke-width="0.62"/>
<path d="M72.98 303.88H77.98" stroke="#0000ff" stroke-width="0.62" fill="none"/>
<path d="M75.48 307.75L78.93 301.95L72.03 301.95Z" fill="none" stroke="#0000ff" stroke-width="0.62"/>
<path d="M84.74 303.39H89.74" stroke="#0000ff" stroke-width="0.62" fill="none"/>
<path d="M87.24 307.26L90.69 301.46L83.79 301.46Z" fill="none" stroke="#0000ff" stroke-width="0.62"/>
<path d="M93.63 302.42H98.63" stroke="#0000ff" stroke-width="0.62" fill="none"/>
<path d="M96.13 306.29L99.58 300.49L92.68 300.49Z" fill="none" stroke="#0000ff" stroke-width="0.62"/>
<path d="M102.52 300.36H107.52" stroke="#0000ff" stroke-width="0.62" fill="none"/>
<path d="M105.02 304.23L108.47 298.43L101.57 298.43Z" fill="none" stroke="#0000ff" stroke-width="0.62"/>
<path d="M114.28 295.39H119.28" stroke="#0000ff" stroke-width="0.62" fill="none"/>
<path d="M116.78 299.26L120.23 293.46L113.33 293.46Z" fill="none" stroke="#0000ff" stroke-width="0.62"/>
<path d="M123.17 285.81H128.17" stroke="#0000ff" stroke-width="0.62" fill="none"/>
<path d="M125.67 289.67L129.12 283.87L122.22 283.87Z" fill="none" stroke="#0000ff" stroke-width="0.62"/>
<path d="M132.06 270.16H137.06" stroke="#0000ff" stroke-width="0.62" fill="none"/>
<path d="M134.56 274.03L138.01 268.23L131.11 268.23Z" fill="none" stroke="#0000ff" stroke-width="0.62"/>
<path d="M146.32 240.32V246.38" stroke="#0000ff" stroke-width="0.62" fill="none"/><path d="M143.82 240.32H148.82 M143.82 246.38H148.82" stroke="#0000ff" stroke-width="0.62" fill="none"/>
<path d="M146.32 247.22L149.77 241.42L142.87 241.42Z" fill="none" stroke="#0000ff" stroke-width="0.62"/>
<path d="M152.71 222.61H157.71" stroke="#0000ff" stroke-width="0.62" fill="none"/>
<path d="M155.21 226.48L158.66 220.68L151.76 220.68Z" fill="none" stroke="#0000ff" stroke-width="0.62"/>
<path d="M161.6 205.75H166.6" stroke="#0000ff" stroke-width="0.62" fill="none"/>
<path d="M164.1 209.62L167.55 203.82L160.65 203.82Z" fill="none" stroke="#0000ff" stroke-width="0.62"/>
<path d="M173.36 193.25H178.36" stroke="#0000ff" stroke-width="0.62" fill="none"/>
<path d="M175.86 197.12L179.31 191.32L172.41 191.32Z" fill="none" stroke="#0000ff" stroke-width="0.62"/>
<path d="M182.25 187.92H187.25" stroke="#0000ff" stroke-width="0.62" fill="none"/>
<path d="M184.75 191.79L188.2 185.99L181.3 185.99Z" fill="none" stroke="#0000ff" stroke-width="0.62"/>
<path d="M191.14 185.49H196.14" stroke="#0000ff" stroke-width="0.62" fill="none"/>
<path d="M193.64 189.36L197.09 183.56L190.19 183.56Z" fill="none" stroke="#0000ff" stroke-width="0.62"/>
<path d="M202.9 183.91H207.9" stroke="#0000ff" stroke-width="0.62" fill="none"/>
<path d="M205.4 187.78L208.85 181.98L201.95 181.98Z" fill="none" stroke="#0000ff" stroke-width="0.62"/>
<rect x="49.2" y="177.5" width="161.3" height="133.2" fill="none" stroke="#000" stroke-width="0.78"/>
<path d="M223.15 310.7L223.15 308.4M223.15 177.5L223.15 179.8M225.12 310.7L225.12 308.4M225.12 177.5L225.12 179.8M226.84 310.7L226.84 308.4M226.84 177.5L226.84 179.8M228.35 310.7L228.35 308.4M228.35 177.5L228.35 179.8M229.7 310.7L229.7 306.1M229.7 177.5L229.7 182.1M238.59 310.7L238.59 308.4M238.59 177.5L238.59 179.8M243.79 310.7L243.79 308.4M243.79 177.5L243.79 179.8M247.48 310.7L247.48 308.4M247.48 177.5L247.48 179.8M250.35 310.7L250.35 308.4M250.35 177.5L250.35 179.8M252.69 310.7L252.69 308.4M252.69 177.5L252.69 179.8M254.66 310.7L254.66 308.4M254.66 177.5L254.66 179.8M256.38 310.7L256.38 308.4M256.38 177.5L256.38 179.8M257.89 310.7L257.89 308.4M257.89 177.5L257.89 179.8M259.24 310.7L259.24 306.1M259.24 177.5L259.24 182.1M268.13 310.7L268.13 308.4M268.13 177.5L268.13 179.8M273.33 310.7L273.33 308.4M273.33 177.5L273.33 179.8M277.02 310.7L277.02 308.4M277.02 177.5L277.02 179.8M279.89 310.7L279.89 308.4M279.89 177.5L279.89 179.8M282.23 310.7L282.23 308.4M282.23 177.5L282.23 179.8M284.2 310.7L284.2 308.4M284.2 177.5L284.2 179.8M285.92 310.7L285.92 308.4M285.92 177.5L285.92 179.8M287.43 310.7L287.43 308.4M287.43 177.5L287.43 179.8M288.78 310.7L288.78 306.1M288.78 177.5L288.78 182.1M297.67 310.7L297.67 308.4M297.67 177.5L297.67 179.8M302.87 310.7L302.87 308.4M302.87 177.5L302.87 179.8M306.56 310.7L306.56 308.4M306.56 177.5L306.56 179.8M309.43 310.7L309.43 308.4M309.43 177.5L309.43 179.8M311.77 310.7L311.77 308.4M311.77 177.5L311.77 179.8M313.74 310.7L313.74 308.4M313.74 177.5L313.74 179.8M315.46 310.7L315.46 308.4M315.46 177.5L315.46 179.8M316.97 310.7L316.97 308.4M316.97 177.5L316.97 179.8M318.32 310.7L318.32 306.1M318.32 177.5L318.32 182.1M327.21 310.7L327.21 308.4M327.21 177.5L327.21 179.8M332.41 310.7L332.41 308.4M332.41 177.5L332.41 179.8M336.1 310.7L336.1 308.4M336.1 177.5L336.1 179.8M338.97 310.7L338.97 308.4M338.97 177.5L338.97 179.8M341.31 310.7L341.31 308.4M341.31 177.5L341.31 179.8M343.28 310.7L343.28 308.4M343.28 177.5L343.28 179.8M345 310.7L345 308.4M345 177.5L345 179.8M346.51 310.7L346.51 308.4M346.51 177.5L346.51 179.8M347.86 310.7L347.86 306.1M347.86 177.5L347.86 182.1M356.75 310.7L356.75 308.4M356.75 177.5L356.75 179.8M361.95 310.7L361.95 308.4M361.95 177.5L361.95 179.8M365.64 310.7L365.64 308.4M365.64 177.5L365.64 179.8M368.51 310.7L368.51 308.4M368.51 177.5L368.51 179.8M370.85 310.7L370.85 308.4M370.85 177.5L370.85 179.8M372.82 310.7L372.82 308.4M372.82 177.5L372.82 179.8M374.54 310.7L374.54 308.4M374.54 177.5L374.54 179.8M376.05 310.7L376.05 308.4M376.05 177.5L376.05 179.8M377.4 310.7L377.4 306.1M377.4 177.5L377.4 182.1M220.6 304.85L225.2 304.85M382.5 304.85L377.9 304.85M220.6 292.72L222.9 292.72M382.5 292.72L380.2 292.72M220.6 280.59L225.2 280.59M382.5 280.59L377.9 280.59M220.6 268.46L222.9 268.46M382.5 268.46L380.2 268.46M220.6 256.33L225.2 256.33M382.5 256.33L377.9 256.33M220.6 244.2L222.9 244.2M382.5 244.2L380.2 244.2M220.6 232.07L225.2 232.07M382.5 232.07L377.9 232.07M220.6 219.94L222.9 219.94M382.5 219.94L380.2 219.94M220.6 207.81L225.2 207.81M382.5 207.81L377.9 207.81M220.6 195.68L222.9 195.68M382.5 195.68L380.2 195.68M220.6 183.55L225.2 183.55M382.5 183.55L377.9 183.55" stroke="#000" stroke-width="0.6" fill="none"/>
<path d="M229.7 303.15L230.93 303.05L232.16 302.91L233.39 302.73L234.62 302.52L235.85 302.29L237.08 302.03L238.32 301.76L239.55 301.46L240.78 301.11L242.01 300.7L243.24 300.25L244.47 299.75L245.7 299.23L246.93 298.68L248.16 298.1L249.39 297.48L250.62 296.81L251.85 296.09L253.09 295.33L254.32 294.52L255.55 293.66L256.78 292.75L258.01 291.79L259.24 290.78L260.47 289.68L261.7 288.46L262.93 287.14L264.16 285.72L265.39 284.21L266.62 282.62L267.86 280.97L269.09 279.23L270.32 277.36L271.55 275.36L272.78 273.25L274.01 271.04L275.24 268.75L276.47 266.39L277.7 263.95L278.93 261.38L280.16 258.68L281.39 255.88L282.63 252.99L283.86 250.03L285.09 247.04L286.32 244.02L287.55 241.01L288.78 238.01L290.01 234.96L291.24 231.78L292.47 228.55L293.7 225.32L294.93 222.16L296.16 219.13L297.4 216.3L298.63 213.62L299.86 210.92L301.09 208.27L302.32 205.73L303.55 203.38L304.78 201.28L306.01 199.51L307.24 198.08L308.47 196.78L309.7 195.59L310.94 194.48L312.17 193.47L313.4 192.53L314.63 191.67L315.86 190.89L317.09 190.16L318.32 189.49L319.55 188.87L320.78 188.28L322.01 187.73L323.24 187.22L324.47 186.77L325.7 186.38L326.94 186.04L328.17 185.76L329.4 185.5L330.63 185.26L331.86 185.05L333.09 184.86L334.32 184.7L335.55 184.57L336.78 184.47L338.01 184.38L339.24 184.29L340.47 184.21L341.71 184.14L342.94 184.08L344.17 184.03L345.4 183.98L346.63 183.94L347.86 183.91L349.09 183.89L350.32 183.87L351.55 183.85L352.78 183.84L354.01 183.83L355.25 183.81L356.48 183.8L357.71 183.78L358.94 183.76L360.17 183.74L361.4 183.73L362.63 183.71L363.86 183.69L365.09 183.68L366.32 183.66L367.55 183.65L368.78 183.64L370.01 183.62L371.25 183.61L372.48 183.6L373.71 183.58L374.94 183.57L376.17 183.56L377.4 183.55" stroke="#000000" stroke-width="0.78" stroke-dasharray="3.5 2.3" fill="none"/>
<path d="M229.7 303.88L230.93 303.82L232.16 303.76L233.39 303.68L234.62 303.59L235.85 303.5L237.08 303.4L238.32 303.3L239.55 303.19L240.78 303.07L242.01 302.94L243.24 302.79L244.47 302.64L245.7 302.46L246.93 302.27L248.16 302.06L249.39 301.81L250.62 301.53L251.85 301.22L253.09 300.87L254.32 300.5L255.55 300.1L256.78 299.68L258.01 299.24L259.24 298.79L260.47 298.29L261.7 297.75L262.93 297.15L264.16 296.5L265.39 295.8L266.62 295.05L267.86 294.24L269.09 293.38L270.32 292.43L271.55 291.38L272.78 290.24L274.01 289L275.24 287.64L276.47 286.15L277.7 284.51L278.93 282.59L280.16 280.42L281.39 278.01L282.63 275.41L283.86 272.64L285.09 269.74L286.32 266.74L287.55 263.68L288.78 260.58L290.01 257.28L291.24 253.67L292.47 249.83L293.7 245.87L294.93 241.87L296.16 237.91L297.4 234.11L298.63 230.38L299.86 226.47L301.09 222.5L302.32 218.62L303.55 214.97L304.78 211.67L306.01 208.87L307.24 206.62L308.47 204.57L309.7 202.66L310.94 200.89L312.17 199.25L313.4 197.74L314.63 196.35L315.86 195.08L317.09 193.93L318.32 192.89L319.55 191.94L320.78 191.05L322.01 190.24L323.24 189.49L324.47 188.82L325.7 188.21L326.94 187.67L328.17 187.17L329.4 186.69L330.63 186.24L331.86 185.83L333.09 185.47L334.32 185.17L335.55 184.95L336.78 184.81L338.01 184.7L339.24 184.6L340.47 184.51L341.71 184.44L342.94 184.37L344.17 184.31L345.4 184.25L346.63 184.2L347.86 184.16L349.09 184.11L350.32 184.08L351.55 184.04L352.78 184.01L354.01 183.98L355.25 183.95L356.48 183.92L357.71 183.89L358.94 183.85L360.17 183.81L361.4 183.77L362.63 183.74L363.86 183.71L365.09 183.68L366.32 183.66L367.55 183.64L368.78 183.62L370.01 183.61L371.25 183.59L372.48 183.58L373.71 183.57L374.94 183.56L376.17 183.55L377.4 183.55" stroke="#ff0000" stroke-width="0.78" stroke-dasharray="3.5 2.3" fill="none"/>
<path d="M229.7 304.24L230.93 304.21L232.16 304.17L233.39 304.12L234.62 304.07L235.85 304.01L237.08 303.95L238.32 303.89L239.55 303.83L240.78 303.76L242.01 303.69L243.24 303.6L244.47 303.52L245.7 303.42L246.93 303.32L248.16 303.21L249.39 303.09L250.62 302.96L251.85 302.83L253.09 302.67L254.32 302.51L255.55 302.33L256.78 302.14L258.01 301.93L259.24 301.7L260.47 301.43L261.7 301.1L262.93 300.73L264.16 300.31L265.39 299.86L266.62 299.39L267.86 298.9L269.09 298.39L270.32 297.87L271.55 297.31L272.78 296.7L274.01 296.03L275.24 295.28L276.47 294.46L277.7 293.52L278.93 292.41L280.16 291.13L281.39 289.7L282.63 288.11L283.86 286.38L285.09 284.53L286.32 282.55L287.55 280.47L288.78 278.29L290.01 275.82L291.24 272.93L292.47 269.71L293.7 266.26L294.93 262.67L296.16 259.03L297.4 255.43L298.63 251.81L299.86 247.95L301.09 243.93L302.32 239.88L303.55 235.91L304.78 232.13L306.01 228.65L307.24 225.53L308.47 222.5L309.7 219.55L310.94 216.7L312.17 213.97L313.4 211.37L314.63 208.93L315.86 206.66L317.09 204.58L318.32 202.72L319.55 201.02L320.78 199.42L322.01 197.94L323.24 196.56L324.47 195.3L325.7 194.15L326.94 193.11L328.17 192.16L329.4 191.25L330.63 190.4L331.86 189.61L333.09 188.89L334.32 188.27L335.55 187.75L336.78 187.33L338.01 186.94L339.24 186.59L340.47 186.26L341.71 185.96L342.94 185.69L344.17 185.45L345.4 185.23L346.63 185.04L347.86 184.88L349.09 184.75L350.32 184.62L351.55 184.51L352.78 184.41L354.01 184.32L355.25 184.24L356.48 184.17L357.71 184.11L358.94 184.04L360.17 183.99L361.4 183.94L362.63 183.89L363.86 183.85L365.09 183.81L366.32 183.77L367.55 183.74L368.78 183.71L370.01 183.68L371.25 183.65L372.48 183.62L373.71 183.6L374.94 183.58L376.17 183.56L377.4 183.55" stroke="#00ff00" stroke-width="0.78" stroke-dasharray="3.5 2.3" fill="none"/>
<path d="M229.7 304.36L230.93 304.34L232.16 304.31L233.39 304.28L234.62 304.24L235.85 304.21L237.08 304.17L238.32 304.13L239.55 304.09L240.78 304.05L242.01 304L243.24 303.95L244.47 303.9L245.7 303.84L246.93 303.79L248.16 303.73L249.39 303.66L250.62 303.6L251.85 303.54L253.09 303.47L254.32 303.4L255.55 303.32L256.78 303.23L258.01 303.14L259.24 303.03L260.47 302.91L261.7 302.77L262.93 302.6L264.16 302.42L265.39 302.22L266.62 301.99L267.86 301.75L269.09 301.49L270.32 301.18L271.55 300.83L272.78 300.44L274.01 300.01L275.24 299.54L276.47 299.03L277.7 298.47L278.93 297.85L280.16 297.16L281.39 296.39L282.63 295.55L283.86 294.63L285.09 293.64L286.32 292.56L287.55 291.41L288.78 290.17L290.01 288.74L291.24 287.04L292.47 285.11L293.7 282.98L294.93 280.7L296.16 278.3L297.4 275.82L298.63 273.19L299.86 270.23L301.09 267.02L302.32 263.66L303.55 260.22L304.78 256.81L306.01 253.51L307.24 250.37L308.47 247.23L309.7 244.09L310.94 240.96L312.17 237.85L313.4 234.79L314.63 231.77L315.86 228.83L317.09 225.97L318.32 223.22L319.55 220.5L320.78 217.78L322.01 215.11L323.24 212.53L324.47 210.09L325.7 207.83L326.94 205.8L328.17 203.99L329.4 202.27L330.63 200.64L331.86 199.13L333.09 197.73L334.32 196.45L335.55 195.3L336.78 194.28L338.01 193.3L339.24 192.37L340.47 191.49L341.71 190.66L342.94 189.9L344.17 189.2L345.4 188.57L346.63 188.02L347.86 187.55L349.09 187.15L350.32 186.77L351.55 186.44L352.78 186.13L354.01 185.86L355.25 185.62L356.48 185.41L357.71 185.23L358.94 185.06L360.17 184.9L361.4 184.76L362.63 184.64L363.86 184.53L365.09 184.43L366.32 184.36L367.55 184.28L368.78 184.21L370.01 184.14L371.25 184.08L372.48 184.03L373.71 183.98L374.94 183.95L376.17 183.92L377.4 183.91" stroke="#0000ff" stroke-width="0.78" stroke-dasharray="3.5 2.3" fill="none"/>
<path d="M227.2 303.15H232.2" stroke="#000000" stroke-width="0.62" fill="none"/>
<rect x="227.3" y="300.75" width="4.8" height="4.8" fill="none" stroke="#000000" stroke-width="0.62"/>
<path d="M236.09 301.7H241.09" stroke="#000000" stroke-width="0.62" fill="none"/>
<rect x="236.19" y="299.3" width="4.8" height="4.8" fill="none" stroke="#000000" stroke-width="0.62"/>
<path d="M244.98 298.42H249.98" stroke="#000000" stroke-width="0.62" fill="none"/>
<rect x="245.08" y="296.02" width="4.8" height="4.8" fill="none" stroke="#000000" stroke-width="0.62"/>
<path d="M256.74 290.78H261.74" stroke="#000000" stroke-width="0.62" fill="none"/>
<rect x="256.84" y="288.38" width="4.8" height="4.8" fill="none" stroke="#000000" stroke-width="0.62"/>
<path d="M265.63 280.59H270.63" stroke="#000000" stroke-width="0.62" fill="none"/>
<rect x="265.73" y="278.19" width="4.8" height="4.8" fill="none" stroke="#000000" stroke-width="0.62"/>
<path d="M274.52 265.31H279.52" stroke="#000000" stroke-width="0.62" fill="none"/>
<rect x="274.62" y="262.91" width="4.8" height="4.8" fill="none" stroke="#000000" stroke-width="0.62"/>
<path d="M286.28 238.01H291.28" stroke="#000000" stroke-width="0.62" fill="none"/>
<rect x="286.38" y="235.61" width="4.8" height="4.8" fill="none" stroke="#000000" stroke-width="0.62"/>
<path d="M295.17 215.69H300.17" stroke="#000000" stroke-width="0.62" fill="none"/>
<rect x="295.27" y="213.29" width="4.8" height="4.8" fill="none" stroke="#000000" stroke-width="0.62"/>
<path d="M304.06 198.83H309.06" stroke="#000000" stroke-width="0.62" fill="none"/>
<rect x="304.16" y="196.43" width="4.8" height="4.8" fill="none" stroke="#000000" stroke-width="0.62"/>
<path d="M315.82 189.49H320.82" stroke="#000000" stroke-width="0.62" fill="none"/>
<rect x="315.92" y="187.09" width="4.8" height="4.8" fill="none" stroke="#000000" stroke-width="0.62"/>
<path d="M324.71 185.98H329.71" stroke="#000000" stroke-width="0.62" fill="none"/>
<rect x="324.81" y="183.58" width="4.8" height="4.8" fill="none" stroke="#000000" stroke-width="0.62"/>
<path d="M333.6 184.52H338.6" stroke="#000000" stroke-width="0.62" fill="none"/>
<rect x="333.7" y="182.12" width="4.8" height="4.8" fill="none" stroke="#000000" stroke-width="0.62"/>
<path d="M345.36 183.91H350.36" stroke="#000000" stroke-width="0.62" fill="none"/>
<rect x="345.46" y="181.51" width="4.8" height="4.8" fill="none" stroke="#000000" stroke-width="0.62"/>
<path d="M354.25 183.79H359.25" stroke="#000000" stroke-width="0.62" fill="none"/>
<rect x="354.35" y="181.39" width="4.8" height="4.8" fill="none" stroke="#000000" stroke-width="0.62"/>
<path d="M363.14 183.67H368.14" stroke="#000000" stroke-width="0.62" fill="none"/>
<rect x="363.24" y="181.27" width="4.8" height="4.8" fill="none" stroke="#000000" stroke-width="0.62"/>
<path d="M374.9 183.55H379.9" stroke="#000000" stroke-width="0.62" fill="none"/>
<rect x="375" y="181.15" width="4.8" height="4.8" fill="none" stroke="#000000" stroke-width="0.62"/>
<path d="M227.2 303.88H232.2" stroke="#ff0000" stroke-width="0.62" fill="none"/>
<path d="M229.7 300.28L233.3 303.88L229.7 307.48L226.1 303.88Z" fill="none" stroke="#ff0000" stroke-width="0.62"/>
<path d="M236.09 303.27H241.09" stroke="#ff0000" stroke-width="0.62" fill="none"/>
<path d="M238.59 299.67L242.19 303.27L238.59 306.87L234.99 303.27Z" fill="none" stroke="#ff0000" stroke-width="0.62"/>
<path d="M244.98 302.18H249.98" stroke="#ff0000" stroke-width="0.62" fill="none"/>
<path d="M247.48 298.58L251.08 302.18L247.48 305.78L243.88 302.18Z" fill="none" stroke="#ff0000" stroke-width="0.62"/>
<path d="M256.74 298.79H261.74" stroke="#ff0000" stroke-width="0.62" fill="none"/>
<path d="M259.24 295.19L262.84 298.79L259.24 302.39L255.64 298.79Z" fill="none" stroke="#ff0000" stroke-width="0.62"/>
<path d="M265.63 294.05H270.63" stroke="#ff0000" stroke-width="0.62" fill="none"/>
<path d="M268.13 290.45L271.73 294.05L268.13 297.65L264.53 294.05Z" fill="none" stroke="#ff0000" stroke-width="0.62"/>
<path d="M274.52 285.44H279.52" stroke="#ff0000" stroke-width="0.62" fill="none"/>
<path d="M277.02 281.84L280.62 285.44L277.02 289.04L273.42 285.44Z" fill="none" stroke="#ff0000" stroke-width="0.62"/>
<path d="M286.28 260.58H291.28" stroke="#ff0000" stroke-width="0.62" fill="none"/>
<path d="M288.78 256.98L292.38 260.58L288.78 264.18L285.18 260.58Z" fill="none" stroke="#ff0000" stroke-width="0.62"/>
<path d="M295.17 233.28H300.17" stroke="#ff0000" stroke-width="0.62" fill="none"/>
<path d="M297.67 229.68L301.27 233.28L297.67 236.88L294.07 233.28Z" fill="none" stroke="#ff0000" stroke-width="0.62"/>
<path d="M304.06 207.81H309.06" stroke="#ff0000" stroke-width="0.62" fill="none"/>
<path d="M306.56 204.21L310.16 207.81L306.56 211.41L302.96 207.81Z" fill="none" stroke="#ff0000" stroke-width="0.62"/>
<path d="M315.82 192.89H320.82" stroke="#ff0000" stroke-width="0.62" fill="none"/>
<path d="M318.32 189.29L321.92 192.89L318.32 196.49L314.72 192.89Z" fill="none" stroke="#ff0000" stroke-width="0.62"/>
<path d="M324.71 187.55H329.71" stroke="#ff0000" stroke-width="0.62" fill="none"/>
<path d="M327.21 183.95L330.81 187.55L327.21 191.15L323.61 187.55Z" fill="none" stroke="#ff0000" stroke-width="0.62"/>
<path d="M333.6 184.88H338.6" stroke="#ff0000" stroke-width="0.62" fill="none"/>
<path d="M336.1 181.28L339.7 184.88L336.1 188.48L332.5 184.88Z" fill="none" stroke="#ff0000" stroke-width="0.62"/>
<path d="M345.36 184.16H350.36" stroke="#ff0000" stroke-width="0.62" fill="none"/>
<path d="M347.86 180.56L351.46 184.16L347.86 187.76L344.26 184.16Z" fill="none" stroke="#ff0000" stroke-width="0.62"/>
<path d="M354.25 183.91H359.25" stroke="#ff0000" stroke-width="0.62" fill="none"/>
<path d="M356.75 180.31L360.35 183.91L356.75 187.51L353.15 183.91Z" fill="none" stroke="#ff0000" stroke-width="0.62"/>
<path d="M363.14 183.67H368.14" stroke="#ff0000" stroke-width="0.62" fill="none"/>
<path d="M365.64 180.07L369.24 183.67L365.64 187.27L362.04 183.67Z" fill="none" stroke="#ff0000" stroke-width="0.62"/>
<path d="M374.9 183.55H379.9" stroke="#ff0000" stroke-width="0.62" fill="none"/>
<path d="M377.4 179.95L381 183.55L377.4 187.15L373.8 183.55Z" fill="none" stroke="#ff0000" stroke-width="0.62"/>
<path d="M227.2 304.24H232.2" stroke="#00ff00" stroke-width="0.62" fill="none"/>
<path d="M229.7 300.37L233.15 306.17L226.25 306.17Z" fill="none" stroke="#00ff00" stroke-width="0.62"/>
<path d="M236.09 303.88H241.09" stroke="#00ff00" stroke-width="0.62" fill="none"/>
<path d="M238.59 300.01L242.04 305.81L235.14 305.81Z" fill="none" stroke="#00ff00" stroke-width="0.62"/>
<path d="M244.98 303.27H249.98" stroke="#00ff00" stroke-width="0.62" fill="none"/>
<path d="M247.48 299.4L250.93 305.2L244.03 305.2Z" fill="none" stroke="#00ff00" stroke-width="0.62"/>
<path d="M256.74 301.7H261.74" stroke="#00ff00" stroke-width="0.62" fill="none"/>
<path d="M259.24 297.83L262.69 303.63L255.79 303.63Z" fill="none" stroke="#00ff00" stroke-width="0.62"/>
<path d="M265.63 298.79H270.63" stroke="#00ff00" stroke-width="0.62" fill="none"/>
<path d="M268.13 294.92L271.58 300.72L264.68 300.72Z" fill="none" stroke="#00ff00" stroke-width="0.62"/>
<path d="M274.52 294.05H279.52" stroke="#00ff00" stroke-width="0.62" fill="none"/>
<path d="M277.02 290.19L280.47 295.99L273.57 295.99Z" fill="none" stroke="#00ff00" stroke-width="0.62"/>
<path d="M286.28 278.29H291.28" stroke="#00ff00" stroke-width="0.62" fill="none"/>
<path d="M288.78 274.42L292.23 280.22L285.33 280.22Z" fill="none" stroke="#00ff00" stroke-width="0.62"/>
<path d="M295.17 254.63H300.17" stroke="#00ff00" stroke-width="0.62" fill="none"/>
<path d="M297.67 250.76L301.12 256.56L294.22 256.56Z" fill="none" stroke="#00ff00" stroke-width="0.62"/>
<path d="M304.06 227.22H309.06" stroke="#00ff00" stroke-width="0.62" fill="none"/>
<path d="M306.56 223.35L310.01 229.15L303.11 229.15Z" fill="none" stroke="#00ff00" stroke-width="0.62"/>
<path d="M315.82 202.72H320.82" stroke="#00ff00" stroke-width="0.62" fill="none"/>
<path d="M318.32 198.85L321.77 204.65L314.87 204.65Z" fill="none" stroke="#00ff00" stroke-width="0.62"/>
<path d="M324.71 192.89H329.71" stroke="#00ff00" stroke-width="0.62" fill="none"/>
<path d="M327.21 189.02L330.66 194.82L323.76 194.82Z" fill="none" stroke="#00ff00" stroke-width="0.62"/>
<path d="M333.6 187.55H338.6" stroke="#00ff00" stroke-width="0.62" fill="none"/>
<path d="M336.1 183.68L339.55 189.48L332.65 189.48Z" fill="none" stroke="#00ff00" stroke-width="0.62"/>
<path d="M345.36 184.88H350.36" stroke="#00ff00" stroke-width="0.62" fill="none"/>
<path d="M347.86 181.02L351.31 186.82L344.41 186.82Z" fill="none" stroke="#00ff00" stroke-width="0.62"/>
<path d="M354.25 184.16H359.25" stroke="#00ff00" stroke-width="0.62" fill="none"/>
<path d="M356.75 180.29L360.2 186.09L353.3 186.09Z" fill="none" stroke="#00ff00" stroke-width="0.62"/>
<path d="M363.14 183.79H368.14" stroke="#00ff00" stroke-width="0.62" fill="none"/>
<path d="M365.64 179.92L369.09 185.72L362.19 185.72Z" fill="none" stroke="#00ff00" stroke-width="0.62"/>
<path d="M374.9 183.55H379.9" stroke="#00ff00" stroke-width="0.62" fill="none"/>
<path d="M377.4 179.68L380.85 185.48L373.95 185.48Z" fill="none" stroke="#00ff00" stroke-width="0.62"/>
<path d="M227.2 304.36H232.2" stroke="#0000ff" stroke-width="0.62" fill="none"/>
<path d="M229.7 308.23L233.15 302.43L226.25 302.43Z" fill="none" stroke="#0000ff" stroke-width="0.62"/>
<path d="M236.09 304.12H241.09" stroke="#0000ff" stroke-width="0.62" fill="none"/>
<path d="M238.59 307.99L242.04 302.19L235.14 302.19Z" fill="none" stroke="#0000ff" stroke-width="0.62"/>
<path d="M244.98 303.76H249.98" stroke="#0000ff" stroke-width="0.62" fill="none"/>
<path d="M247.48 307.63L250.93 301.83L244.03 301.83Z" fill="none" stroke="#0000ff" stroke-width="0.62"/>
<path d="M256.74 303.03H261.74" stroke="#0000ff" stroke-width="0.62" fill="none"/>
<path d="M259.24 306.9L262.69 301.1L255.79 301.1Z" fill="none" stroke="#0000ff" stroke-width="0.62"/>
<path d="M265.63 301.7H270.63" stroke="#0000ff" stroke-width="0.62" fill="none"/>
<path d="M268.13 305.56L271.58 299.76L264.68 299.76Z" fill="none" stroke="#0000ff" stroke-width="0.62"/>
<path d="M274.52 298.79H279.52" stroke="#0000ff" stroke-width="0.62" fill="none"/>
<path d="M277.02 302.65L280.47 296.85L273.57 296.85Z" fill="none" stroke="#0000ff" stroke-width="0.62"/>
<path d="M286.28 290.17H291.28" stroke="#0000ff" stroke-width="0.62" fill="none"/>
<path d="M288.78 294.04L292.23 288.24L285.33 288.24Z" fill="none" stroke="#0000ff" stroke-width="0.62"/>
<path d="M295.17 275.25H300.17" stroke="#0000ff" stroke-width="0.62" fill="none"/>
<path d="M297.67 279.12L301.12 273.32L294.22 273.32Z" fill="none" stroke="#0000ff" stroke-width="0.62"/>
<path d="M306.56 246.02V258.15" stroke="#0000ff" stroke-width="0.62" fill="none"/><path d="M304.06 246.02H309.06 M304.06 258.15H309.06" stroke="#0000ff" stroke-width="0.62" fill="none"/>
<path d="M306.56 255.95L310.01 250.15L303.11 250.15Z" fill="none" stroke="#0000ff" stroke-width="0.62"/>
<path d="M318.32 217.76V228.67" stroke="#0000ff" stroke-width="0.62" fill="none"/><path d="M315.82 217.76H320.82 M315.82 228.67H320.82" stroke="#0000ff" stroke-width="0.62" fill="none"/>
<path d="M318.32 227.08L321.77 221.28L314.87 221.28Z" fill="none" stroke="#0000ff" stroke-width="0.62"/>
<path d="M324.71 205.38H329.71" stroke="#0000ff" stroke-width="0.62" fill="none"/>
<path d="M327.21 209.25L330.66 203.45L323.76 203.45Z" fill="none" stroke="#0000ff" stroke-width="0.62"/>
<path d="M333.6 194.83H338.6" stroke="#0000ff" stroke-width="0.62" fill="none"/>
<path d="M336.1 198.7L339.55 192.9L332.65 192.9Z" fill="none" stroke="#0000ff" stroke-width="0.62"/>
<path d="M345.36 187.55H350.36" stroke="#0000ff" stroke-width="0.62" fill="none"/>
<path d="M347.86 191.42L351.31 185.62L344.41 185.62Z" fill="none" stroke="#0000ff" stroke-width="0.62"/>
<path d="M354.25 185.37H359.25" stroke="#0000ff" stroke-width="0.62" fill="none"/>
<path d="M356.75 189.24L360.2 183.44L353.3 183.44Z" fill="none" stroke="#0000ff" stroke-width="0.62"/>
<path d="M363.14 184.4H368.14" stroke="#0000ff" stroke-width="0.62" fill="none"/>
<path d="M365.64 188.27L369.09 182.47L362.19 182.47Z" fill="none" stroke="#0000ff" stroke-width="0.62"/>
<path d="M374.9 183.91H379.9" stroke="#0000ff" stroke-width="0.62" fill="none"/>
<path d="M377.4 187.78L380.85 181.98L373.95 181.98Z" fill="none" stroke="#0000ff" stroke-width="0.62"/>
<rect x="220.6" y="177.5" width="161.9" height="133.2" fill="none" stroke="#000" stroke-width="0.78"/>
<path d="M394.1 310.7L394.1 308.4M394.1 177.5L394.1 179.8M396.07 310.7L396.07 308.4M396.07 177.5L396.07 179.8M397.79 310.7L397.79 308.4M397.79 177.5L397.79 179.8M399.3 310.7L399.3 308.4M399.3 177.5L399.3 179.8M400.65 310.7L400.65 306.1M400.65 177.5L400.65 182.1M409.54 310.7L409.54 308.4M409.54 177.5L409.54 179.8M414.74 310.7L414.74 308.4M414.74 177.5L414.74 179.8M418.43 310.7L418.43 308.4M418.43 177.5L418.43 179.8M421.3 310.7L421.3 308.4M421.3 177.5L421.3 179.8M423.64 310.7L423.64 308.4M423.64 177.5L423.64 179.8M425.61 310.7L425.61 308.4M425.61 177.5L425.61 179.8M427.33 310.7L427.33 308.4M427.33 177.5L427.33 179.8M428.84 310.7L428.84 308.4M428.84 177.5L428.84 179.8M430.19 310.7L430.19 306.1M430.19 177.5L430.19 182.1M439.08 310.7L439.08 308.4M439.08 177.5L439.08 179.8M444.28 310.7L444.28 308.4M444.28 177.5L444.28 179.8M447.97 310.7L447.97 308.4M447.97 177.5L447.97 179.8M450.84 310.7L450.84 308.4M450.84 177.5L450.84 179.8M453.18 310.7L453.18 308.4M453.18 177.5L453.18 179.8M455.15 310.7L455.15 308.4M455.15 177.5L455.15 179.8M456.87 310.7L456.87 308.4M456.87 177.5L456.87 179.8M458.38 310.7L458.38 308.4M458.38 177.5L458.38 179.8M459.73 310.7L459.73 306.1M459.73 177.5L459.73 182.1M468.62 310.7L468.62 308.4M468.62 177.5L468.62 179.8M473.82 310.7L473.82 308.4M473.82 177.5L473.82 179.8M477.51 310.7L477.51 308.4M477.51 177.5L477.51 179.8M480.38 310.7L480.38 308.4M480.38 177.5L480.38 179.8M482.72 310.7L482.72 308.4M482.72 177.5L482.72 179.8M484.69 310.7L484.69 308.4M484.69 177.5L484.69 179.8M486.41 310.7L486.41 308.4M486.41 177.5L486.41 179.8M487.92 310.7L487.92 308.4M487.92 177.5L487.92 179.8M489.27 310.7L489.27 306.1M489.27 177.5L489.27 182.1M498.16 310.7L498.16 308.4M498.16 177.5L498.16 179.8M503.36 310.7L503.36 308.4M503.36 177.5L503.36 179.8M507.05 310.7L507.05 308.4M507.05 177.5L507.05 179.8M509.92 310.7L509.92 308.4M509.92 177.5L509.92 179.8M512.26 310.7L512.26 308.4M512.26 177.5L512.26 179.8M514.23 310.7L514.23 308.4M514.23 177.5L514.23 179.8M515.95 310.7L515.95 308.4M515.95 177.5L515.95 179.8M517.46 310.7L517.46 308.4M517.46 177.5L517.46 179.8M518.81 310.7L518.81 306.1M518.81 177.5L518.81 182.1M527.7 310.7L527.7 308.4M527.7 177.5L527.7 179.8M532.9 310.7L532.9 308.4M532.9 177.5L532.9 179.8M536.59 310.7L536.59 308.4M536.59 177.5L536.59 179.8M539.46 310.7L539.46 308.4M539.46 177.5L539.46 179.8M541.8 310.7L541.8 308.4M541.8 177.5L541.8 179.8M543.77 310.7L543.77 308.4M543.77 177.5L543.77 179.8M545.49 310.7L545.49 308.4M545.49 177.5L545.49 179.8M547 310.7L547 308.4M547 177.5L547 179.8M548.35 310.7L548.35 306.1M548.35 177.5L548.35 182.1M391.9 304.85L396.5 304.85M553.9 304.85L549.3 304.85M391.9 292.72L394.2 292.72M553.9 292.72L551.6 292.72M391.9 280.59L396.5 280.59M553.9 280.59L549.3 280.59M391.9 268.46L394.2 268.46M553.9 268.46L551.6 268.46M391.9 256.33L396.5 256.33M553.9 256.33L549.3 256.33M391.9 244.2L394.2 244.2M553.9 244.2L551.6 244.2M391.9 232.07L396.5 232.07M553.9 232.07L549.3 232.07M391.9 219.94L394.2 219.94M553.9 219.94L551.6 219.94M391.9 207.81L396.5 207.81M553.9 207.81L549.3 207.81M391.9 195.68L394.2 195.68M553.9 195.68L551.6 195.68M391.9 183.55L396.5 183.55M553.9 183.55L549.3 183.55" stroke="#000" stroke-width="0.6" fill="none"/>
<path d="M400.65 303.3L401.88 303.19L403.11 303.05L404.34 302.87L405.57 302.67L406.8 302.45L408.04 302.2L409.27 301.95L410.5 301.67L411.73 301.35L412.96 300.99L414.19 300.59L415.42 300.15L416.65 299.68L417.88 299.19L419.11 298.66L420.34 298.08L421.57 297.45L422.81 296.78L424.04 296.05L425.27 295.27L426.5 294.45L427.73 293.58L428.96 292.66L430.19 291.7L431.42 290.66L432.65 289.5L433.88 288.24L435.11 286.88L436.34 285.44L437.58 283.93L438.81 282.36L440.04 280.7L441.27 278.92L442.5 277.02L443.73 275L444.96 272.89L446.19 270.7L447.42 268.43L448.65 266.09L449.88 263.61L451.11 261L452.35 258.28L453.58 255.48L454.81 252.6L456.04 249.67L457.27 246.71L458.5 243.74L459.73 240.78L460.96 237.75L462.19 234.59L463.42 231.37L464.65 228.13L465.88 224.93L467.12 221.82L468.35 218.86L469.58 215.99L470.81 213.06L472.04 210.14L473.27 207.32L474.5 204.69L475.73 202.34L476.96 200.36L478.19 198.77L479.42 197.32L480.65 195.98L481.89 194.74L483.12 193.6L484.35 192.55L485.58 191.59L486.81 190.73L488.04 189.95L489.27 189.25L490.5 188.62L491.73 188.02L492.96 187.47L494.19 186.98L495.42 186.54L496.66 186.16L497.89 185.84L499.12 185.58L500.35 185.35L501.58 185.13L502.81 184.94L504.04 184.77L505.27 184.63L506.5 184.52L507.73 184.42L508.96 184.34L510.19 184.26L511.43 184.19L512.66 184.13L513.89 184.07L515.12 184.02L516.35 183.98L517.58 183.94L518.81 183.91L520.04 183.89L521.27 183.87L522.5 183.85L523.73 183.84L524.96 183.83L526.2 183.81L527.43 183.8L528.66 183.78L529.89 183.76L531.12 183.74L532.35 183.73L533.58 183.71L534.81 183.69L536.04 183.68L537.27 183.66L538.5 183.65L539.73 183.64L540.97 183.62L542.2 183.61L543.43 183.6L544.66 183.58L545.89 183.57L547.12 183.56L548.35 183.55" stroke="#000000" stroke-width="0.78" stroke-dasharray="3.5 2.3" fill="none"/>
<path d="M400.65 303.93L401.88 303.88L403.11 303.81L404.34 303.74L405.57 303.66L406.8 303.58L408.04 303.49L409.27 303.39L410.5 303.29L411.73 303.18L412.96 303.06L414.19 302.93L415.42 302.79L416.65 302.63L417.88 302.46L419.11 302.27L420.34 302.04L421.57 301.79L422.81 301.51L424.04 301.2L425.27 300.87L426.5 300.51L427.73 300.13L428.96 299.74L430.19 299.32L431.42 298.87L432.65 298.37L433.88 297.82L435.11 297.22L436.34 296.57L437.58 295.86L438.81 295.11L440.04 294.28L441.27 293.36L442.5 292.35L443.73 291.23L444.96 290.01L446.19 288.68L447.42 287.24L448.65 285.67L449.88 283.87L451.11 281.85L452.35 279.62L453.58 277.22L454.81 274.67L456.04 271.99L457.27 269.2L458.5 266.32L459.73 263.39L460.96 260.25L462.19 256.79L463.42 253.09L464.65 249.23L465.88 245.3L467.12 241.37L468.35 237.52L469.58 233.67L470.81 229.55L472.04 225.32L473.27 221.14L474.5 217.17L475.73 213.57L476.96 210.52L478.19 208.07L479.42 205.83L480.65 203.74L481.89 201.8L483.12 200L484.35 198.33L485.58 196.81L486.81 195.42L488.04 194.16L489.27 193.04L490.5 192L491.73 191.04L492.96 190.15L494.19 189.33L495.42 188.6L496.66 187.96L497.89 187.42L499.12 186.95L500.35 186.51L501.58 186.1L502.81 185.73L504.04 185.41L505.27 185.15L506.5 184.95L507.73 184.82L508.96 184.7L510.19 184.6L511.43 184.52L512.66 184.44L513.89 184.37L515.12 184.31L516.35 184.25L517.58 184.2L518.81 184.16L520.04 184.11L521.27 184.08L522.5 184.04L523.73 184.01L524.96 183.98L526.2 183.95L527.43 183.92L528.66 183.89L529.89 183.85L531.12 183.81L532.35 183.77L533.58 183.74L534.81 183.71L536.04 183.68L537.27 183.66L538.5 183.64L539.73 183.62L540.97 183.61L542.2 183.59L543.43 183.58L544.66 183.57L545.89 183.56L547.12 183.55L548.35 183.55" stroke="#ff0000" stroke-width="0.78" stroke-dasharray="3.5 2.3" fill="none"/>
<path d="M400.65 304.24L401.88 304.2L403.11 304.16L404.34 304.11L405.57 304.06L406.8 304.01L408.04 303.95L409.27 303.89L410.5 303.83L411.73 303.77L412.96 303.7L414.19 303.62L415.42 303.54L416.65 303.46L417.88 303.37L419.11 303.27L420.34 303.16L421.57 303.04L422.81 302.92L424.04 302.78L425.27 302.63L426.5 302.47L427.73 302.29L428.96 302.1L430.19 301.89L431.42 301.64L432.65 301.34L433.88 300.99L435.11 300.6L436.34 300.18L437.58 299.74L438.81 299.28L440.04 298.81L441.27 298.32L442.5 297.8L443.73 297.23L444.96 296.61L446.19 295.92L447.42 295.16L448.65 294.29L449.88 293.26L451.11 292.08L452.35 290.76L453.58 289.29L454.81 287.7L456.04 285.99L457.27 284.17L458.5 282.24L459.73 280.23L460.96 277.97L462.19 275.35L463.42 272.43L464.65 269.29L465.88 265.97L467.12 262.56L468.35 259.1L469.58 255.51L470.81 251.54L472.04 247.34L473.27 243.04L474.5 238.77L475.73 234.68L476.96 230.91L478.19 227.51L479.42 224.19L480.65 220.92L481.89 217.74L483.12 214.67L484.35 211.76L485.58 209.04L486.81 206.54L488.04 204.29L489.27 202.33L490.5 200.58L491.73 198.97L492.96 197.48L494.19 196.12L495.42 194.87L496.66 193.74L497.89 192.72L499.12 191.78L500.35 190.9L501.58 190.07L502.81 189.3L504.04 188.61L505.27 188.01L506.5 187.5L507.73 187.09L508.96 186.72L510.19 186.37L511.43 186.05L512.66 185.76L513.89 185.5L515.12 185.26L516.35 185.06L517.58 184.88L518.81 184.74L520.04 184.62L521.27 184.51L522.5 184.41L523.73 184.33L524.96 184.25L526.2 184.18L527.43 184.12L528.66 184.06L529.89 184.01L531.12 183.96L532.35 183.92L533.58 183.88L534.81 183.84L536.04 183.81L537.27 183.77L538.5 183.74L539.73 183.71L540.97 183.68L542.2 183.66L543.43 183.63L544.66 183.61L545.89 183.59L547.12 183.57L548.35 183.55" stroke="#00ff00" stroke-width="0.78" stroke-dasharray="3.5 2.3" fill="none"/>
<path d="M400.65 304.36L401.88 304.34L403.11 304.3L404.34 304.27L405.57 304.24L406.8 304.2L408.04 304.17L409.27 304.13L410.5 304.09L411.73 304.05L412.96 304.01L414.19 303.97L415.42 303.93L416.65 303.88L417.88 303.83L419.11 303.78L420.34 303.72L421.57 303.67L422.81 303.6L424.04 303.54L425.27 303.47L426.5 303.4L427.73 303.31L428.96 303.23L430.19 303.13L431.42 303.01L432.65 302.88L433.88 302.73L435.11 302.56L436.34 302.37L437.58 302.16L438.81 301.94L440.04 301.7L441.27 301.43L442.5 301.13L443.73 300.79L444.96 300.41L446.19 299.99L447.42 299.54L448.65 299.03L449.88 298.44L451.11 297.77L452.35 297.02L453.58 296.19L454.81 295.28L456.04 294.3L457.27 293.25L458.5 292.13L459.73 290.95L460.96 289.62L462.19 288.08L463.42 286.35L464.65 284.45L465.88 282.4L467.12 280.21L468.35 277.92L469.58 275.42L470.81 272.56L472.04 269.41L473.27 266.06L474.5 262.6L475.73 259.13L476.96 255.74L478.19 252.47L479.42 249.12L480.65 245.71L481.89 242.26L483.12 238.82L484.35 235.42L485.58 232.1L486.81 228.89L488.04 225.84L489.27 222.97L490.5 220.23L491.73 217.55L492.96 214.95L494.19 212.47L495.42 210.12L496.66 207.94L497.89 205.95L499.12 204.13L500.35 202.39L501.58 200.75L502.81 199.21L504.04 197.78L505.27 196.48L506.5 195.31L507.73 194.27L508.96 193.28L510.19 192.34L511.43 191.45L512.66 190.62L513.89 189.84L515.12 189.14L516.35 188.5L517.58 187.94L518.81 187.46L520.04 187.03L521.27 186.64L522.5 186.28L523.73 185.96L524.96 185.67L526.2 185.42L527.43 185.22L528.66 185.04L529.89 184.89L531.12 184.74L532.35 184.62L533.58 184.51L534.81 184.41L536.04 184.33L537.27 184.27L538.5 184.21L539.73 184.15L540.97 184.09L542.2 184.04L543.43 184L544.66 183.96L545.89 183.94L547.12 183.92L548.35 183.91" stroke="#0000ff" stroke-width="0.78" stroke-dasharray="3.5 2.3" fill="none"/>
<path d="M398.15 303.52H403.15" stroke="#000000" stroke-width="0.62" fill="none"/>
<rect x="398.25" y="301.12" width="4.8" height="4.8" fill="none" stroke="#000000" stroke-width="0.62"/>
<path d="M407.04 302.18H412.04" stroke="#000000" stroke-width="0.62" fill="none"/>
<rect x="407.14" y="299.78" width="4.8" height="4.8" fill="none" stroke="#000000" stroke-width="0.62"/>
<path d="M415.93 299.76H420.93" stroke="#000000" stroke-width="0.62" fill="none"/>
<rect x="416.03" y="297.36" width="4.8" height="4.8" fill="none" stroke="#000000" stroke-width="0.62"/>
<path d="M427.69 293.08H432.69" stroke="#000000" stroke-width="0.62" fill="none"/>
<rect x="427.79" y="290.68" width="4.8" height="4.8" fill="none" stroke="#000000" stroke-width="0.62"/>
<path d="M436.58 284.11H441.58" stroke="#000000" stroke-width="0.62" fill="none"/>
<rect x="436.68" y="281.71" width="4.8" height="4.8" fill="none" stroke="#000000" stroke-width="0.62"/>
<path d="M445.47 270.52H450.47" stroke="#000000" stroke-width="0.62" fill="none"/>
<rect x="445.57" y="268.12" width="4.8" height="4.8" fill="none" stroke="#000000" stroke-width="0.62"/>
<path d="M457.23 244.93H462.23" stroke="#000000" stroke-width="0.62" fill="none"/>
<rect x="457.33" y="242.53" width="4.8" height="4.8" fill="none" stroke="#000000" stroke-width="0.62"/>
<path d="M466.12 222H471.12" stroke="#000000" stroke-width="0.62" fill="none"/>
<rect x="466.22" y="219.6" width="4.8" height="4.8" fill="none" stroke="#000000" stroke-width="0.62"/>
<path d="M475.01 200.77H480.01" stroke="#000000" stroke-width="0.62" fill="none"/>
<rect x="475.11" y="198.37" width="4.8" height="4.8" fill="none" stroke="#000000" stroke-width="0.62"/>
<path d="M486.77 188.89H491.77" stroke="#000000" stroke-width="0.62" fill="none"/>
<rect x="486.87" y="186.49" width="4.8" height="4.8" fill="none" stroke="#000000" stroke-width="0.62"/>
<path d="M495.66 185.49H500.66" stroke="#000000" stroke-width="0.62" fill="none"/>
<rect x="495.76" y="183.09" width="4.8" height="4.8" fill="none" stroke="#000000" stroke-width="0.62"/>
<path d="M504.55 184.4H509.55" stroke="#000000" stroke-width="0.62" fill="none"/>
<rect x="504.65" y="182" width="4.8" height="4.8" fill="none" stroke="#000000" stroke-width="0.62"/>
<path d="M516.31 183.91H521.31" stroke="#000000" stroke-width="0.62" fill="none"/>
<rect x="516.41" y="181.51" width="4.8" height="4.8" fill="none" stroke="#000000" stroke-width="0.62"/>
<path d="M525.2 183.79H530.2" stroke="#000000" stroke-width="0.62" fill="none"/>
<rect x="525.3" y="181.39" width="4.8" height="4.8" fill="none" stroke="#000000" stroke-width="0.62"/>
<path d="M534.09 183.67H539.09" stroke="#000000" stroke-width="0.62" fill="none"/>
<rect x="534.19" y="181.27" width="4.8" height="4.8" fill="none" stroke="#000000" stroke-width="0.62"/>
<path d="M545.85 183.55H550.85" stroke="#000000" stroke-width="0.62" fill="none"/>
<rect x="545.95" y="181.15" width="4.8" height="4.8" fill="none" stroke="#000000" stroke-width="0.62"/>
<path d="M398.15 304H403.15" stroke="#ff0000" stroke-width="0.62" fill="none"/>
<path d="M400.65 300.4L404.25 304L400.65 307.6L397.05 304Z" fill="none" stroke="#ff0000" stroke-width="0.62"/>
<path d="M407.04 303.52H412.04" stroke="#ff0000" stroke-width="0.62" fill="none"/>
<path d="M409.54 299.92L413.14 303.52L409.54 307.12L405.94 303.52Z" fill="none" stroke="#ff0000" stroke-width="0.62"/>
<path d="M415.93 302.67H420.93" stroke="#ff0000" stroke-width="0.62" fill="none"/>
<path d="M418.43 299.07L422.03 302.67L418.43 306.27L414.83 302.67Z" fill="none" stroke="#ff0000" stroke-width="0.62"/>
<path d="M427.69 300.12H432.69" stroke="#ff0000" stroke-width="0.62" fill="none"/>
<path d="M430.19 296.52L433.79 300.12L430.19 303.72L426.59 300.12Z" fill="none" stroke="#ff0000" stroke-width="0.62"/>
<path d="M436.58 296.24H441.58" stroke="#ff0000" stroke-width="0.62" fill="none"/>
<path d="M439.08 292.64L442.68 296.24L439.08 299.84L435.48 296.24Z" fill="none" stroke="#ff0000" stroke-width="0.62"/>
<path d="M445.47 288.23H450.47" stroke="#ff0000" stroke-width="0.62" fill="none"/>
<path d="M447.97 284.63L451.57 288.23L447.97 291.83L444.37 288.23Z" fill="none" stroke="#ff0000" stroke-width="0.62"/>
<path d="M457.23 267.61H462.23" stroke="#ff0000" stroke-width="0.62" fill="none"/>
<path d="M459.73 264.01L463.33 267.61L459.73 271.21L456.13 267.61Z" fill="none" stroke="#ff0000" stroke-width="0.62"/>
<path d="M466.12 241.77H471.12" stroke="#ff0000" stroke-width="0.62" fill="none"/>
<path d="M468.62 238.17L472.22 241.77L468.62 245.37L465.02 241.77Z" fill="none" stroke="#ff0000" stroke-width="0.62"/>
<path d="M475.01 211.69H480.01" stroke="#ff0000" stroke-width="0.62" fill="none"/>
<path d="M477.51 208.09L481.11 211.69L477.51 215.29L473.91 211.69Z" fill="none" stroke="#ff0000" stroke-width="0.62"/>
<path d="M486.77 193.25H491.77" stroke="#ff0000" stroke-width="0.62" fill="none"/>
<path d="M489.27 189.65L492.87 193.25L489.27 196.85L485.67 193.25Z" fill="none" stroke="#ff0000" stroke-width="0.62"/>
<path d="M495.66 186.95H500.66" stroke="#ff0000" stroke-width="0.62" fill="none"/>
<path d="M498.16 183.35L501.76 186.95L498.16 190.55L494.56 186.95Z" fill="none" stroke="#ff0000" stroke-width="0.62"/>
<path d="M504.55 184.88H509.55" stroke="#ff0000" stroke-width="0.62" fill="none"/>
<path d="M507.05 181.28L510.65 184.88L507.05 188.48L503.45 184.88Z" fill="none" stroke="#ff0000" stroke-width="0.62"/>
<path d="M516.31 184.16H521.31" stroke="#ff0000" stroke-width="0.62" fill="none"/>
<path d="M518.81 180.56L522.41 184.16L518.81 187.76L515.21 184.16Z" fill="none" stroke="#ff0000" stroke-width="0.62"/>
<path d="M525.2 183.91H530.2" stroke="#ff0000" stroke-width="0.62" fill="none"/>
<path d="M527.7 180.31L531.3 183.91L527.7 187.51L524.1 183.91Z" fill="none" stroke="#ff0000" stroke-width="0.62"/>
<path d="M534.09 183.67H539.09" stroke="#ff0000" stroke-width="0.62" fill="none"/>
<path d="M536.59 180.07L540.19 183.67L536.59 187.27L532.99 183.67Z" fill="none" stroke="#ff0000" stroke-width="0.62"/>
<path d="M545.85 183.55H550.85" stroke="#ff0000" stroke-width="0.62" fill="none"/>
<path d="M548.35 179.95L551.95 183.55L548.35 187.15L544.75 183.55Z" fill="none" stroke="#ff0000" stroke-width="0.62"/>
<path d="M398.15 304.24H403.15" stroke="#00ff00" stroke-width="0.62" fill="none"/>
<path d="M400.65 300.37L404.1 306.17L397.2 306.17Z" fill="none" stroke="#00ff00" stroke-width="0.62"/>
<path d="M407.04 303.88H412.04" stroke="#00ff00" stroke-width="0.62" fill="none"/>
<path d="M409.54 300.01L412.99 305.81L406.09 305.81Z" fill="none" stroke="#00ff00" stroke-width="0.62"/>
<path d="M415.93 303.39H420.93" stroke="#00ff00" stroke-width="0.62" fill="none"/>
<path d="M418.43 299.53L421.88 305.33L414.98 305.33Z" fill="none" stroke="#00ff00" stroke-width="0.62"/>
<path d="M427.69 302.18H432.69" stroke="#00ff00" stroke-width="0.62" fill="none"/>
<path d="M430.19 298.31L433.64 304.11L426.74 304.11Z" fill="none" stroke="#00ff00" stroke-width="0.62"/>
<path d="M436.58 299.76H441.58" stroke="#00ff00" stroke-width="0.62" fill="none"/>
<path d="M439.08 295.89L442.53 301.69L435.63 301.69Z" fill="none" stroke="#00ff00" stroke-width="0.62"/>
<path d="M445.47 295.87H450.47" stroke="#00ff00" stroke-width="0.62" fill="none"/>
<path d="M447.97 292.01L451.42 297.81L444.52 297.81Z" fill="none" stroke="#00ff00" stroke-width="0.62"/>
<path d="M457.23 283.14H462.23" stroke="#00ff00" stroke-width="0.62" fill="none"/>
<path d="M459.73 279.27L463.18 285.07L456.28 285.07Z" fill="none" stroke="#00ff00" stroke-width="0.62"/>
<path d="M466.12 263.85H471.12" stroke="#00ff00" stroke-width="0.62" fill="none"/>
<path d="M468.62 259.98L472.07 265.78L465.17 265.78Z" fill="none" stroke="#00ff00" stroke-width="0.62"/>
<path d="M475.01 232.56H480.01" stroke="#00ff00" stroke-width="0.62" fill="none"/>
<path d="M477.51 228.69L480.96 234.49L474.06 234.49Z" fill="none" stroke="#00ff00" stroke-width="0.62"/>
<path d="M486.77 201.75H491.77" stroke="#00ff00" stroke-width="0.62" fill="none"/>
<path d="M489.27 197.88L492.72 203.68L485.82 203.68Z" fill="none" stroke="#00ff00" stroke-width="0.62"/>
<path d="M495.66 191.92H500.66" stroke="#00ff00" stroke-width="0.62" fill="none"/>
<path d="M498.16 188.05L501.61 193.85L494.71 193.85Z" fill="none" stroke="#00ff00" stroke-width="0.62"/>
<path d="M504.55 186.95H509.55" stroke="#00ff00" stroke-width="0.62" fill="none"/>
<path d="M507.05 183.08L510.5 188.88L503.6 188.88Z" fill="none" stroke="#00ff00" stroke-width="0.62"/>
<path d="M516.31 184.52H521.31" stroke="#00ff00" stroke-width="0.62" fill="none"/>
<path d="M518.81 180.65L522.26 186.45L515.36 186.45Z" fill="none" stroke="#00ff00" stroke-width="0.62"/>
<path d="M525.2 184.04H530.2" stroke="#00ff00" stroke-width="0.62" fill="none"/>
<path d="M527.7 180.17L531.15 185.97L524.25 185.97Z" fill="none" stroke="#00ff00" stroke-width="0.62"/>
<path d="M534.09 183.79H539.09" stroke="#00ff00" stroke-width="0.62" fill="none"/>
<path d="M536.59 179.92L540.04 185.72L533.14 185.72Z" fill="none" stroke="#00ff00" stroke-width="0.62"/>
<path d="M545.85 183.55H550.85" stroke="#00ff00" stroke-width="0.62" fill="none"/>
<path d="M548.35 179.68L551.8 185.48L544.9 185.48Z" fill="none" stroke="#00ff00" stroke-width="0.62"/>
<path d="M398.15 304.36H403.15" stroke="#0000ff" stroke-width="0.62" fill="none"/>
<path d="M400.65 308.23L404.1 302.43L397.2 302.43Z" fill="none" stroke="#0000ff" stroke-width="0.62"/>
<path d="M407.04 304.12H412.04" stroke="#0000ff" stroke-width="0.62" fill="none"/>
<path d="M409.54 307.99L412.99 302.19L406.09 302.19Z" fill="none" stroke="#0000ff" stroke-width="0.62"/>
<path d="M415.93 303.88H420.93" stroke="#0000ff" stroke-width="0.62" fill="none"/>
<path d="M418.43 307.75L421.88 301.95L414.98 301.95Z" fill="none" stroke="#0000ff" stroke-width="0.62"/>
<path d="M427.69 303.27H432.69" stroke="#0000ff" stroke-width="0.62" fill="none"/>
<path d="M430.19 307.14L433.64 301.34L426.74 301.34Z" fill="none" stroke="#0000ff" stroke-width="0.62"/>
<path d="M436.58 302.18H441.58" stroke="#0000ff" stroke-width="0.62" fill="none"/>
<path d="M439.08 306.05L442.53 300.25L435.63 300.25Z" fill="none" stroke="#0000ff" stroke-width="0.62"/>
<path d="M445.47 300.12H450.47" stroke="#0000ff" stroke-width="0.62" fill="none"/>
<path d="M447.97 303.99L451.42 298.19L444.52 298.19Z" fill="none" stroke="#0000ff" stroke-width="0.62"/>
<path d="M457.23 292.11H462.23" stroke="#0000ff" stroke-width="0.62" fill="none"/>
<path d="M459.73 295.98L463.18 290.18L456.28 290.18Z" fill="none" stroke="#0000ff" stroke-width="0.62"/>
<path d="M466.12 280.59H471.12" stroke="#0000ff" stroke-width="0.62" fill="none"/>
<path d="M468.62 284.46L472.07 278.66L465.17 278.66Z" fill="none" stroke="#0000ff" stroke-width="0.62"/>
<path d="M475.01 257.54H480.01" stroke="#0000ff" stroke-width="0.62" fill="none"/>
<path d="M477.51 261.41L480.96 255.61L474.06 255.61Z" fill="none" stroke="#0000ff" stroke-width="0.62"/>
<path d="M489.27 217.76V227.46" stroke="#0000ff" stroke-width="0.62" fill="none"/><path d="M486.77 217.76H491.77 M486.77 227.46H491.77" stroke="#0000ff" stroke-width="0.62" fill="none"/>
<path d="M489.27 226.48L492.72 220.68L485.82 220.68Z" fill="none" stroke="#0000ff" stroke-width="0.62"/>
<path d="M498.16 203.93V207.57" stroke="#0000ff" stroke-width="0.62" fill="none"/><path d="M495.66 203.93H500.66 M495.66 207.57H500.66" stroke="#0000ff" stroke-width="0.62" fill="none"/>
<path d="M498.16 209.62L501.61 203.82L494.71 203.82Z" fill="none" stroke="#0000ff" stroke-width="0.62"/>
<path d="M504.55 194.83H509.55" stroke="#0000ff" stroke-width="0.62" fill="none"/>
<path d="M507.05 198.7L510.5 192.9L503.6 192.9Z" fill="none" stroke="#0000ff" stroke-width="0.62"/>
<path d="M516.31 187.31H521.31" stroke="#0000ff" stroke-width="0.62" fill="none"/>
<path d="M518.81 191.18L522.26 185.38L515.36 185.38Z" fill="none" stroke="#0000ff" stroke-width="0.62"/>
<path d="M525.2 184.88H530.2" stroke="#0000ff" stroke-width="0.62" fill="none"/>
<path d="M527.7 188.75L531.15 182.95L524.25 182.95Z" fill="none" stroke="#0000ff" stroke-width="0.62"/>
<path d="M534.09 184.16H539.09" stroke="#0000ff" stroke-width="0.62" fill="none"/>
<path d="M536.59 188.03L540.04 182.23L533.14 182.23Z" fill="none" stroke="#0000ff" stroke-width="0.62"/>
<path d="M545.85 183.91H550.85" stroke="#0000ff" stroke-width="0.62" fill="none"/>
<path d="M548.35 187.78L551.8 181.98L544.9 181.98Z" fill="none" stroke="#0000ff" stroke-width="0.62"/>
<rect x="391.9" y="177.5" width="162" height="133.2" fill="none" stroke="#000" stroke-width="0.78"/>
<rect x="157" y="253.2" width="4.8" height="4.8" fill="none" stroke="#000000" stroke-width="0.62"/>
<path d="M159.4 264.8L163 268.4L159.4 272L155.8 268.4Z" fill="none" stroke="#ff0000" stroke-width="0.62"/>
<path d="M159.4 277.63L162.85 283.43L155.95 283.43Z" fill="none" stroke="#00ff00" stroke-width="0.62"/>
<path d="M159.4 297.97L162.85 292.17L155.95 292.17Z" fill="none" stroke="#0000ff" stroke-width="0.62"/>
<path d="M56.31 408.2L56.31 405.9M56.31 352.4L56.31 354.7M64.37 408.2L64.37 405.9M64.37 352.4L64.37 354.7M71.34 408.2L71.34 405.9M71.34 352.4L71.34 354.7M77.5 408.2L77.5 405.9M77.5 352.4L77.5 354.7M83 408.2L83 403.6M83 352.4L83 357M119.21 408.2L119.21 405.9M119.21 352.4L119.21 354.7M140.4 408.2L140.4 405.9M140.4 352.4L140.4 354.7M155.43 408.2L155.43 405.9M155.43 352.4L155.43 354.7M167.09 408.2L167.09 405.9M167.09 352.4L167.09 354.7M176.61 408.2L176.61 405.9M176.61 352.4L176.61 354.7M184.67 408.2L184.67 405.9M184.67 352.4L184.67 354.7M191.64 408.2L191.64 405.9M191.64 352.4L191.64 354.7M197.8 408.2L197.8 405.9M197.8 352.4L197.8 354.7M203.3 408.2L203.3 403.6M203.3 352.4L203.3 357M47.6 406.52L49.9 406.52M208.5 406.52L206.2 406.52M47.6 403.59L49.9 403.59M208.5 403.59L206.2 403.59M47.6 401.2L49.9 401.2M208.5 401.2L206.2 401.2M47.6 399.18L49.9 399.18M208.5 399.18L206.2 399.18M47.6 397.43L49.9 397.43M208.5 397.43L206.2 397.43M47.6 395.88L49.9 395.88M208.5 395.88L206.2 395.88M47.6 394.5L52.2 394.5M208.5 394.5L203.9 394.5M47.6 385.41L49.9 385.41M208.5 385.41L206.2 385.41M47.6 380.09L49.9 380.09M208.5 380.09L206.2 380.09M47.6 376.32L49.9 376.32M208.5 376.32L206.2 376.32M47.6 373.39L49.9 373.39M208.5 373.39L206.2 373.39M47.6 371L49.9 371M208.5 371L206.2 371M47.6 368.98L49.9 368.98M208.5 368.98L206.2 368.98M47.6 367.23L49.9 367.23M208.5 367.23L206.2 367.23M47.6 365.68L49.9 365.68M208.5 365.68L206.2 365.68M47.6 364.3L52.2 364.3M208.5 364.3L203.9 364.3M47.6 355.21L49.9 355.21M208.5 355.21L206.2 355.21" stroke="#000" stroke-width="0.6" fill="none"/>
<path d="M54.01 367.9H58.61" stroke="#000000" stroke-width="0.62" fill="none"/>
<path d="M56.31 363.4L59.71 369.4L52.91 369.4Z" fill="none" stroke="#000000" stroke-width="0.75"/>
<path d="M69.04 372.94H73.64" stroke="#000000" stroke-width="0.62" fill="none"/>
<path d="M71.34 368.44L74.74 374.44L67.94 374.44Z" fill="none" stroke="#000000" stroke-width="0.75"/>
<path d="M80.7 376.51H85.3" stroke="#000000" stroke-width="0.62" fill="none"/>
<path d="M83 372.01L86.4 378.01L79.6 378.01Z" fill="none" stroke="#000000" stroke-width="0.75"/>
<path d="M90.23 379.22H94.83" stroke="#000000" stroke-width="0.62" fill="none"/>
<path d="M92.53 374.71L95.93 380.71L89.13 380.71Z" fill="none" stroke="#000000" stroke-width="0.75"/>
<path d="M98.28 381.37H102.88" stroke="#000000" stroke-width="0.62" fill="none"/>
<path d="M100.58 376.87L103.98 382.87L97.18 382.87Z" fill="none" stroke="#000000" stroke-width="0.75"/>
<path d="M105.26 383.13H109.86" stroke="#000000" stroke-width="0.62" fill="none"/>
<path d="M107.56 378.63L110.96 384.63L104.16 384.63Z" fill="none" stroke="#000000" stroke-width="0.75"/>
<path d="M111.41 384.62H116.01" stroke="#000000" stroke-width="0.62" fill="none"/>
<path d="M113.71 380.12L117.11 386.12L110.31 386.12Z" fill="none" stroke="#000000" stroke-width="0.75"/>
<path d="M116.91 385.89H121.51" stroke="#000000" stroke-width="0.62" fill="none"/>
<path d="M119.21 381.39L122.61 387.39L115.81 387.39Z" fill="none" stroke="#000000" stroke-width="0.75"/>
<path d="M121.89 387H126.49" stroke="#000000" stroke-width="0.62" fill="none"/>
<path d="M124.19 382.5L127.59 388.5L120.79 388.5Z" fill="none" stroke="#000000" stroke-width="0.75"/>
<path d="M126.44 387.98H131.04" stroke="#000000" stroke-width="0.62" fill="none"/>
<path d="M128.74 383.47L132.14 389.47L125.34 389.47Z" fill="none" stroke="#000000" stroke-width="0.75"/>
<path d="M130.62 388.85H135.22" stroke="#000000" stroke-width="0.62" fill="none"/>
<path d="M132.92 384.34L136.32 390.34L129.52 390.34Z" fill="none" stroke="#000000" stroke-width="0.75"/>
<path d="M134.49 389.63H139.09" stroke="#000000" stroke-width="0.62" fill="none"/>
<path d="M136.79 385.12L140.19 391.12L133.39 391.12Z" fill="none" stroke="#000000" stroke-width="0.75"/>
<path d="M138.1 390.33H142.7" stroke="#000000" stroke-width="0.62" fill="none"/>
<path d="M140.4 385.83L143.8 391.83L137 391.83Z" fill="none" stroke="#000000" stroke-width="0.75"/>
<path d="M141.47 390.98H146.07" stroke="#000000" stroke-width="0.62" fill="none"/>
<path d="M143.77 386.48L147.17 392.48L140.37 392.48Z" fill="none" stroke="#000000" stroke-width="0.75"/>
<path d="M144.64 391.57H149.24" stroke="#000000" stroke-width="0.62" fill="none"/>
<path d="M146.94 387.07L150.34 393.07L143.54 393.07Z" fill="none" stroke="#000000" stroke-width="0.75"/>
<path d="M147.62 392.11H152.22" stroke="#000000" stroke-width="0.62" fill="none"/>
<path d="M149.92 387.61L153.32 393.61L146.52 393.61Z" fill="none" stroke="#000000" stroke-width="0.75"/>
<path d="M150.45 392.61H155.05" stroke="#000000" stroke-width="0.62" fill="none"/>
<path d="M152.75 388.11L156.15 394.11L149.35 394.11Z" fill="none" stroke="#000000" stroke-width="0.75"/>
<path d="M153.13 393.08H157.73" stroke="#000000" stroke-width="0.62" fill="none"/>
<path d="M155.43 388.58L158.83 394.58L152.03 394.58Z" fill="none" stroke="#000000" stroke-width="0.75"/>
<path d="M155.68 393.52H160.28" stroke="#000000" stroke-width="0.62" fill="none"/>
<path d="M157.98 389.01L161.38 395.01L154.58 395.01Z" fill="none" stroke="#000000" stroke-width="0.75"/>
<path d="M158.11 393.92H162.71" stroke="#000000" stroke-width="0.62" fill="none"/>
<path d="M160.41 389.42L163.81 395.42L157.01 395.42Z" fill="none" stroke="#000000" stroke-width="0.75"/>
<path d="M160.43 394.31H165.03" stroke="#000000" stroke-width="0.62" fill="none"/>
<path d="M162.73 389.8L166.13 395.8L159.33 395.8Z" fill="none" stroke="#000000" stroke-width="0.75"/>
<path d="M162.65 394.67H167.25" stroke="#000000" stroke-width="0.62" fill="none"/>
<path d="M164.95 390.16L168.35 396.16L161.55 396.16Z" fill="none" stroke="#000000" stroke-width="0.75"/>
<path d="M164.79 395.01H169.39" stroke="#000000" stroke-width="0.62" fill="none"/>
<path d="M167.09 390.5L170.49 396.5L163.69 396.5Z" fill="none" stroke="#000000" stroke-width="0.75"/>
<path d="M166.84 395.33H171.44" stroke="#000000" stroke-width="0.62" fill="none"/>
<path d="M169.14 390.83L172.54 396.83L165.74 396.83Z" fill="none" stroke="#000000" stroke-width="0.75"/>
<path d="M168.81 395.63H173.41" stroke="#000000" stroke-width="0.62" fill="none"/>
<path d="M171.11 391.13L174.51 397.13L167.71 397.13Z" fill="none" stroke="#000000" stroke-width="0.75"/>
<path d="M170.71 395.92H175.31" stroke="#000000" stroke-width="0.62" fill="none"/>
<path d="M173.01 391.42L176.41 397.42L169.61 397.42Z" fill="none" stroke="#000000" stroke-width="0.75"/>
<path d="M172.54 396.2H177.14" stroke="#000000" stroke-width="0.62" fill="none"/>
<path d="M174.84 391.7L178.24 397.7L171.44 397.7Z" fill="none" stroke="#000000" stroke-width="0.75"/>
<path d="M174.31 396.46H178.91" stroke="#000000" stroke-width="0.62" fill="none"/>
<path d="M176.61 391.96L180.01 397.96L173.21 397.96Z" fill="none" stroke="#000000" stroke-width="0.75"/>
<path d="M176.02 396.71H180.62" stroke="#000000" stroke-width="0.62" fill="none"/>
<path d="M178.32 392.21L181.72 398.21L174.92 398.21Z" fill="none" stroke="#000000" stroke-width="0.75"/>
<path d="M177.68 396.95H182.28" stroke="#000000" stroke-width="0.62" fill="none"/>
<path d="M179.98 392.45L183.38 398.45L176.58 398.45Z" fill="none" stroke="#000000" stroke-width="0.75"/>
<path d="M179.29 397.18H183.89" stroke="#000000" stroke-width="0.62" fill="none"/>
<path d="M181.59 392.68L184.99 398.68L178.19 398.68Z" fill="none" stroke="#000000" stroke-width="0.75"/>
<path d="M180.85 397.4H185.45" stroke="#000000" stroke-width="0.62" fill="none"/>
<path d="M183.15 392.9L186.55 398.9L179.75 398.9Z" fill="none" stroke="#000000" stroke-width="0.75"/>
<path d="M182.37 397.61H186.97" stroke="#000000" stroke-width="0.62" fill="none"/>
<path d="M184.67 393.11L188.07 399.11L181.27 399.11Z" fill="none" stroke="#000000" stroke-width="0.75"/>
<path d="M183.84 397.81H188.44" stroke="#000000" stroke-width="0.62" fill="none"/>
<path d="M186.14 393.31L189.54 399.31L182.74 399.31Z" fill="none" stroke="#000000" stroke-width="0.75"/>
<path d="M185.27 398.01H189.87" stroke="#000000" stroke-width="0.62" fill="none"/>
<path d="M187.57 393.51L190.97 399.51L184.17 399.51Z" fill="none" stroke="#000000" stroke-width="0.75"/>
<path d="M186.66 398.2H191.26" stroke="#000000" stroke-width="0.62" fill="none"/>
<path d="M188.96 393.69L192.36 399.69L185.56 399.69Z" fill="none" stroke="#000000" stroke-width="0.75"/>
<path d="M188.02 398.38H192.62" stroke="#000000" stroke-width="0.62" fill="none"/>
<path d="M190.32 393.88L193.72 399.88L186.92 399.88Z" fill="none" stroke="#000000" stroke-width="0.75"/>
<path d="M189.34 398.55H193.94" stroke="#000000" stroke-width="0.62" fill="none"/>
<path d="M191.64 394.05L195.04 400.05L188.24 400.05Z" fill="none" stroke="#000000" stroke-width="0.75"/>
<path d="M190.63 398.72H195.23" stroke="#000000" stroke-width="0.62" fill="none"/>
<path d="M192.93 394.22L196.33 400.22L189.53 400.22Z" fill="none" stroke="#000000" stroke-width="0.75"/>
<path d="M191.89 398.89H196.49" stroke="#000000" stroke-width="0.62" fill="none"/>
<path d="M194.19 394.38L197.59 400.38L190.79 400.38Z" fill="none" stroke="#000000" stroke-width="0.75"/>
<path d="M193.12 399.04H197.72" stroke="#000000" stroke-width="0.62" fill="none"/>
<path d="M195.42 394.54L198.82 400.54L192.02 400.54Z" fill="none" stroke="#000000" stroke-width="0.75"/>
<path d="M194.32 399.2H198.92" stroke="#000000" stroke-width="0.62" fill="none"/>
<path d="M196.62 394.7L200.02 400.7L193.22 400.7Z" fill="none" stroke="#000000" stroke-width="0.75"/>
<path d="M195.5 399.35H200.1" stroke="#000000" stroke-width="0.62" fill="none"/>
<path d="M197.8 394.84L201.2 400.84L194.4 400.84Z" fill="none" stroke="#000000" stroke-width="0.75"/>
<path d="M196.64 399.49H201.24" stroke="#000000" stroke-width="0.62" fill="none"/>
<path d="M198.94 394.99L202.34 400.99L195.54 400.99Z" fill="none" stroke="#000000" stroke-width="0.75"/>
<path d="M197.77 399.63H202.37" stroke="#000000" stroke-width="0.62" fill="none"/>
<path d="M200.07 395.13L203.47 401.13L196.67 401.13Z" fill="none" stroke="#000000" stroke-width="0.75"/>
<path d="M198.87 399.77H203.47" stroke="#000000" stroke-width="0.62" fill="none"/>
<path d="M201.17 395.27L204.57 401.27L197.77 401.27Z" fill="none" stroke="#000000" stroke-width="0.75"/>
<path d="M199.94 399.9H204.54" stroke="#000000" stroke-width="0.62" fill="none"/>
<path d="M202.24 395.4L205.64 401.4L198.84 401.4Z" fill="none" stroke="#000000" stroke-width="0.75"/>
<path d="M201 400.03H205.6" stroke="#000000" stroke-width="0.62" fill="none"/>
<path d="M203.3 395.53L206.7 401.53L199.9 401.53Z" fill="none" stroke="#000000" stroke-width="0.75"/>
<path d="M54.01 404.03H58.61" stroke="#0000ff" stroke-width="0.62" fill="none"/>
<path d="M56.31 408.53L59.71 402.53L52.91 402.53Z" fill="none" stroke="#0000ff" stroke-width="0.75"/>
<path d="M69.04 398.49H73.64" stroke="#0000ff" stroke-width="0.62" fill="none"/>
<path d="M71.34 403L74.74 397L67.94 397Z" fill="none" stroke="#0000ff" stroke-width="0.75"/>
<path d="M80.7 394.79H85.3" stroke="#0000ff" stroke-width="0.62" fill="none"/>
<path d="M83 399.29L86.4 393.29L79.6 393.29Z" fill="none" stroke="#0000ff" stroke-width="0.75"/>
<path d="M90.23 392.13H94.83" stroke="#0000ff" stroke-width="0.62" fill="none"/>
<path d="M92.53 396.64L95.93 390.64L89.13 390.64Z" fill="none" stroke="#0000ff" stroke-width="0.75"/>
<path d="M98.28 390.1H102.88" stroke="#0000ff" stroke-width="0.62" fill="none"/>
<path d="M100.58 394.6L103.98 388.6L97.18 388.6Z" fill="none" stroke="#0000ff" stroke-width="0.75"/>
<path d="M105.26 388.35H109.86" stroke="#0000ff" stroke-width="0.62" fill="none"/>
<path d="M107.56 392.85L110.96 386.85L104.16 386.85Z" fill="none" stroke="#0000ff" stroke-width="0.75"/>
<path d="M111.41 386.81H116.01" stroke="#0000ff" stroke-width="0.62" fill="none"/>
<path d="M113.71 391.31L117.11 385.31L110.31 385.31Z" fill="none" stroke="#0000ff" stroke-width="0.75"/>
<path d="M116.91 385.51H121.51" stroke="#0000ff" stroke-width="0.62" fill="none"/>
<path d="M119.21 390.01L122.61 384.01L115.81 384.01Z" fill="none" stroke="#0000ff" stroke-width="0.75"/>
<path d="M121.89 384.39H126.49" stroke="#0000ff" stroke-width="0.62" fill="none"/>
<path d="M124.19 388.89L127.59 382.89L120.79 382.89Z" fill="none" stroke="#0000ff" stroke-width="0.75"/>
<path d="M126.44 383.41H131.04" stroke="#0000ff" stroke-width="0.62" fill="none"/>
<path d="M128.74 387.91L132.14 381.91L125.34 381.91Z" fill="none" stroke="#0000ff" stroke-width="0.75"/>
<path d="M130.62 382.54H135.22" stroke="#0000ff" stroke-width="0.62" fill="none"/>
<path d="M132.92 387.04L136.32 381.04L129.52 381.04Z" fill="none" stroke="#0000ff" stroke-width="0.75"/>
<path d="M134.49 381.75H139.09" stroke="#0000ff" stroke-width="0.62" fill="none"/>
<path d="M136.79 386.25L140.19 380.25L133.39 380.25Z" fill="none" stroke="#0000ff" stroke-width="0.75"/>
<path d="M138.1 381.03H142.7" stroke="#0000ff" stroke-width="0.62" fill="none"/>
<path d="M140.4 385.54L143.8 379.54L137 379.54Z" fill="none" stroke="#0000ff" stroke-width="0.75"/>
<path d="M141.47 380.38H146.07" stroke="#0000ff" stroke-width="0.62" fill="none"/>
<path d="M143.77 384.88L147.17 378.88L140.37 378.88Z" fill="none" stroke="#0000ff" stroke-width="0.75"/>
<path d="M144.64 379.77H149.24" stroke="#0000ff" stroke-width="0.62" fill="none"/>
<path d="M146.94 384.28L150.34 378.28L143.54 378.28Z" fill="none" stroke="#0000ff" stroke-width="0.75"/>
<path d="M147.62 379.21H152.22" stroke="#0000ff" stroke-width="0.62" fill="none"/>
<path d="M149.92 383.72L153.32 377.72L146.52 377.72Z" fill="none" stroke="#0000ff" stroke-width="0.75"/>
<path d="M150.45 378.69H155.05" stroke="#0000ff" stroke-width="0.62" fill="none"/>
<path d="M152.75 383.2L156.15 377.2L149.35 377.2Z" fill="none" stroke="#0000ff" stroke-width="0.75"/>
<path d="M153.13 378.21H157.73" stroke="#0000ff" stroke-width="0.62" fill="none"/>
<path d="M155.43 382.71L158.83 376.71L152.03 376.71Z" fill="none" stroke="#0000ff" stroke-width="0.75"/>
<path d="M155.68 377.75H160.28" stroke="#0000ff" stroke-width="0.62" fill="none"/>
<path d="M157.98 382.25L161.38 376.25L154.58 376.25Z" fill="none" stroke="#0000ff" stroke-width="0.75"/>
<path d="M158.11 377.32H162.71" stroke="#0000ff" stroke-width="0.62" fill="none"/>
<path d="M160.41 381.82L163.81 375.82L157.01 375.82Z" fill="none" stroke="#0000ff" stroke-width="0.75"/>
<path d="M160.43 376.92H165.03" stroke="#0000ff" stroke-width="0.62" fill="none"/>
<path d="M162.73 381.42L166.13 375.42L159.33 375.42Z" fill="none" stroke="#0000ff" stroke-width="0.75"/>
<path d="M162.65 376.53H167.25" stroke="#0000ff" stroke-width="0.62" fill="none"/>
<path d="M164.95 381.04L168.35 375.04L161.55 375.04Z" fill="none" stroke="#0000ff" stroke-width="0.75"/>
<path d="M164.79 376.17H169.39" stroke="#0000ff" stroke-width="0.62" fill="none"/>
<path d="M167.09 380.67L170.49 374.67L163.69 374.67Z" fill="none" stroke="#0000ff" stroke-width="0.75"/>
<path d="M166.84 375.83H171.44" stroke="#0000ff" stroke-width="0.62" fill="none"/>
<path d="M169.14 380.33L172.54 374.33L165.74 374.33Z" fill="none" stroke="#0000ff" stroke-width="0.75"/>
<path d="M168.81 375.5H173.41" stroke="#0000ff" stroke-width="0.62" fill="none"/>
<path d="M171.11 380L174.51 374L167.71 374Z" fill="none" stroke="#0000ff" stroke-width="0.75"/>
<path d="M170.71 375.19H175.31" stroke="#0000ff" stroke-width="0.62" fill="none"/>
<path d="M173.01 379.69L176.41 373.69L169.61 373.69Z" fill="none" stroke="#0000ff" stroke-width="0.75"/>
<path d="M172.54 374.89H177.14" stroke="#0000ff" stroke-width="0.62" fill="none"/>
<path d="M174.84 379.39L178.24 373.39L171.44 373.39Z" fill="none" stroke="#0000ff" stroke-width="0.75"/>
<path d="M174.31 374.6H178.91" stroke="#0000ff" stroke-width="0.62" fill="none"/>
<path d="M176.61 379.1L180.01 373.1L173.21 373.1Z" fill="none" stroke="#0000ff" stroke-width="0.75"/>
<path d="M176.02 374.33H180.62" stroke="#0000ff" stroke-width="0.62" fill="none"/>
<path d="M178.32 378.83L181.72 372.83L174.92 372.83Z" fill="none" stroke="#0000ff" stroke-width="0.75"/>
<path d="M177.68 374.06H182.28" stroke="#0000ff" stroke-width="0.62" fill="none"/>
<path d="M179.98 378.57L183.38 372.57L176.58 372.57Z" fill="none" stroke="#0000ff" stroke-width="0.75"/>
<path d="M179.29 373.81H183.89" stroke="#0000ff" stroke-width="0.62" fill="none"/>
<path d="M181.59 378.31L184.99 372.31L178.19 372.31Z" fill="none" stroke="#0000ff" stroke-width="0.75"/>
<path d="M180.85 373.57H185.45" stroke="#0000ff" stroke-width="0.62" fill="none"/>
<path d="M183.15 378.07L186.55 372.07L179.75 372.07Z" fill="none" stroke="#0000ff" stroke-width="0.75"/>
<path d="M182.37 373.34H186.97" stroke="#0000ff" stroke-width="0.62" fill="none"/>
<path d="M184.67 377.84L188.07 371.84L181.27 371.84Z" fill="none" stroke="#0000ff" stroke-width="0.75"/>
<path d="M183.84 373.11H188.44" stroke="#0000ff" stroke-width="0.62" fill="none"/>
<path d="M186.14 377.61L189.54 371.61L182.74 371.61Z" fill="none" stroke="#0000ff" stroke-width="0.75"/>
<path d="M185.27 372.89H189.87" stroke="#0000ff" stroke-width="0.62" fill="none"/>
<path d="M187.57 377.39L190.97 371.39L184.17 371.39Z" fill="none" stroke="#0000ff" stroke-width="0.75"/>
<path d="M186.66 372.68H191.26" stroke="#0000ff" stroke-width="0.62" fill="none"/>
<path d="M188.96 377.18L192.36 371.18L185.56 371.18Z" fill="none" stroke="#0000ff" stroke-width="0.75"/>
<path d="M188.02 372.48H192.62" stroke="#0000ff" stroke-width="0.62" fill="none"/>
<path d="M190.32 376.98L193.72 370.98L186.92 370.98Z" fill="none" stroke="#0000ff" stroke-width="0.75"/>
<path d="M189.34 372.28H193.94" stroke="#0000ff" stroke-width="0.62" fill="none"/>
<path d="M191.64 376.78L195.04 370.78L188.24 370.78Z" fill="none" stroke="#0000ff" stroke-width="0.75"/>
<path d="M190.63 372.09H195.23" stroke="#0000ff" stroke-width="0.62" fill="none"/>
<path d="M192.93 376.59L196.33 370.59L189.53 370.59Z" fill="none" stroke="#0000ff" stroke-width="0.75"/>
<path d="M191.89 371.9H196.49" stroke="#0000ff" stroke-width="0.62" fill="none"/>
<path d="M194.19 376.41L197.59 370.41L190.79 370.41Z" fill="none" stroke="#0000ff" stroke-width="0.75"/>
<path d="M193.12 371.73H197.72" stroke="#0000ff" stroke-width="0.62" fill="none"/>
<path d="M195.42 376.23L198.82 370.23L192.02 370.23Z" fill="none" stroke="#0000ff" stroke-width="0.75"/>
<path d="M194.32 371.55H198.92" stroke="#0000ff" stroke-width="0.62" fill="none"/>
<path d="M196.62 376.05L200.02 370.05L193.22 370.05Z" fill="none" stroke="#0000ff" stroke-width="0.75"/>
<path d="M195.5 371.38H200.1" stroke="#0000ff" stroke-width="0.62" fill="none"/>
<path d="M197.8 375.88L201.2 369.88L194.4 369.88Z" fill="none" stroke="#0000ff" stroke-width="0.75"/>
<path d="M196.64 371.22H201.24" stroke="#0000ff" stroke-width="0.62" fill="none"/>
<path d="M198.94 375.72L202.34 369.72L195.54 369.72Z" fill="none" stroke="#0000ff" stroke-width="0.75"/>
<path d="M197.77 371.06H202.37" stroke="#0000ff" stroke-width="0.62" fill="none"/>
<path d="M200.07 375.56L203.47 369.56L196.67 369.56Z" fill="none" stroke="#0000ff" stroke-width="0.75"/>
<path d="M198.87 370.9H203.47" stroke="#0000ff" stroke-width="0.62" fill="none"/>
<path d="M201.17 375.4L204.57 369.4L197.77 369.4Z" fill="none" stroke="#0000ff" stroke-width="0.75"/>
<path d="M199.94 370.75H204.54" stroke="#0000ff" stroke-width="0.62" fill="none"/>
<path d="M202.24 375.25L205.64 369.25L198.84 369.25Z" fill="none" stroke="#0000ff" stroke-width="0.75"/>
<path d="M201 370.6H205.6" stroke="#0000ff" stroke-width="0.62" fill="none"/>
<path d="M203.3 375.1L206.7 369.1L199.9 369.1Z" fill="none" stroke="#0000ff" stroke-width="0.75"/>
<path d="M47.6 403.9L208.5 363.51" stroke="#ff0000" stroke-width="1.45" stroke-dasharray="3.5 2.2" fill="none"/>
<rect x="47.6" y="352.4" width="160.9" height="55.8" fill="none" stroke="#000" stroke-width="0.78"/>
<path d="M229.61 408.2L229.61 405.9M229.61 352.4L229.61 354.7M237.67 408.2L237.67 405.9M237.67 352.4L237.67 354.7M244.64 408.2L244.64 405.9M244.64 352.4L244.64 354.7M250.8 408.2L250.8 405.9M250.8 352.4L250.8 354.7M256.3 408.2L256.3 403.6M256.3 352.4L256.3 357M292.51 408.2L292.51 405.9M292.51 352.4L292.51 354.7M313.7 408.2L313.7 405.9M313.7 352.4L313.7 354.7M328.73 408.2L328.73 405.9M328.73 352.4L328.73 354.7M340.39 408.2L340.39 405.9M340.39 352.4L340.39 354.7M349.91 408.2L349.91 405.9M349.91 352.4L349.91 354.7M357.97 408.2L357.97 405.9M357.97 352.4L357.97 354.7M364.94 408.2L364.94 405.9M364.94 352.4L364.94 354.7M371.1 408.2L371.1 405.9M371.1 352.4L371.1 354.7M376.6 408.2L376.6 403.6M376.6 352.4L376.6 357M220.1 406.52L222.4 406.52M381.8 406.52L379.5 406.52M220.1 403.59L222.4 403.59M381.8 403.59L379.5 403.59M220.1 401.2L222.4 401.2M381.8 401.2L379.5 401.2M220.1 399.18L222.4 399.18M381.8 399.18L379.5 399.18M220.1 397.43L222.4 397.43M381.8 397.43L379.5 397.43M220.1 395.88L222.4 395.88M381.8 395.88L379.5 395.88M220.1 394.5L224.7 394.5M381.8 394.5L377.2 394.5M220.1 385.41L222.4 385.41M381.8 385.41L379.5 385.41M220.1 380.09L222.4 380.09M381.8 380.09L379.5 380.09M220.1 376.32L222.4 376.32M381.8 376.32L379.5 376.32M220.1 373.39L222.4 373.39M381.8 373.39L379.5 373.39M220.1 371L222.4 371M381.8 371L379.5 371M220.1 368.98L222.4 368.98M381.8 368.98L379.5 368.98M220.1 367.23L222.4 367.23M381.8 367.23L379.5 367.23M220.1 365.68L222.4 365.68M381.8 365.68L379.5 365.68M220.1 364.3L224.7 364.3M381.8 364.3L377.2 364.3M220.1 355.21L222.4 355.21M381.8 355.21L379.5 355.21" stroke="#000" stroke-width="0.6" fill="none"/>
<path d="M227.31 361.7H231.91" stroke="#000000" stroke-width="0.62" fill="none"/>
<path d="M229.61 357.2L233.01 363.2L226.21 363.2Z" fill="none" stroke="#000000" stroke-width="0.75"/>
<path d="M242.34 366.36H246.94" stroke="#000000" stroke-width="0.62" fill="none"/>
<path d="M244.64 361.86L248.04 367.86L241.24 367.86Z" fill="none" stroke="#000000" stroke-width="0.75"/>
<path d="M254 369.63H258.6" stroke="#000000" stroke-width="0.62" fill="none"/>
<path d="M256.3 365.13L259.7 371.13L252.9 371.13Z" fill="none" stroke="#000000" stroke-width="0.75"/>
<path d="M263.53 372.09H268.13" stroke="#000000" stroke-width="0.62" fill="none"/>
<path d="M265.83 367.59L269.23 373.59L262.43 373.59Z" fill="none" stroke="#000000" stroke-width="0.75"/>
<path d="M271.58 374.04H276.18" stroke="#000000" stroke-width="0.62" fill="none"/>
<path d="M273.88 369.54L277.28 375.54L270.48 375.54Z" fill="none" stroke="#000000" stroke-width="0.75"/>
<path d="M278.56 375.64H283.16" stroke="#000000" stroke-width="0.62" fill="none"/>
<path d="M280.86 371.14L284.26 377.14L277.46 377.14Z" fill="none" stroke="#000000" stroke-width="0.75"/>
<path d="M284.71 376.99H289.31" stroke="#000000" stroke-width="0.62" fill="none"/>
<path d="M287.01 372.49L290.41 378.49L283.61 378.49Z" fill="none" stroke="#000000" stroke-width="0.75"/>
<path d="M290.21 378.15H294.81" stroke="#000000" stroke-width="0.62" fill="none"/>
<path d="M292.51 373.64L295.91 379.64L289.11 379.64Z" fill="none" stroke="#000000" stroke-width="0.75"/>
<path d="M295.19 379.16H299.79" stroke="#000000" stroke-width="0.62" fill="none"/>
<path d="M297.49 374.66L300.89 380.66L294.09 380.66Z" fill="none" stroke="#000000" stroke-width="0.75"/>
<path d="M299.74 380.05H304.34" stroke="#000000" stroke-width="0.62" fill="none"/>
<path d="M302.04 375.55L305.44 381.55L298.64 381.55Z" fill="none" stroke="#000000" stroke-width="0.75"/>
<path d="M303.92 380.85H308.52" stroke="#000000" stroke-width="0.62" fill="none"/>
<path d="M306.22 376.35L309.62 382.35L302.82 382.35Z" fill="none" stroke="#000000" stroke-width="0.75"/>
<path d="M307.79 381.58H312.39" stroke="#000000" stroke-width="0.62" fill="none"/>
<path d="M310.09 377.07L313.49 383.07L306.69 383.07Z" fill="none" stroke="#000000" stroke-width="0.75"/>
<path d="M311.4 382.24H316" stroke="#000000" stroke-width="0.62" fill="none"/>
<path d="M313.7 377.73L317.1 383.73L310.3 383.73Z" fill="none" stroke="#000000" stroke-width="0.75"/>
<path d="M314.77 382.84H319.37" stroke="#000000" stroke-width="0.62" fill="none"/>
<path d="M317.07 378.34L320.47 384.34L313.67 384.34Z" fill="none" stroke="#000000" stroke-width="0.75"/>
<path d="M317.94 383.4H322.54" stroke="#000000" stroke-width="0.62" fill="none"/>
<path d="M320.24 378.9L323.64 384.9L316.84 384.9Z" fill="none" stroke="#000000" stroke-width="0.75"/>
<path d="M320.92 383.92H325.52" stroke="#000000" stroke-width="0.62" fill="none"/>
<path d="M323.22 379.42L326.62 385.42L319.82 385.42Z" fill="none" stroke="#000000" stroke-width="0.75"/>
<path d="M323.75 384.4H328.35" stroke="#000000" stroke-width="0.62" fill="none"/>
<path d="M326.05 379.9L329.45 385.9L322.65 385.9Z" fill="none" stroke="#000000" stroke-width="0.75"/>
<path d="M326.43 384.86H331.03" stroke="#000000" stroke-width="0.62" fill="none"/>
<path d="M328.73 380.35L332.13 386.35L325.33 386.35Z" fill="none" stroke="#000000" stroke-width="0.75"/>
<path d="M328.98 385.28H333.58" stroke="#000000" stroke-width="0.62" fill="none"/>
<path d="M331.28 380.78L334.68 386.78L327.88 386.78Z" fill="none" stroke="#000000" stroke-width="0.75"/>
<path d="M331.41 385.68H336.01" stroke="#000000" stroke-width="0.62" fill="none"/>
<path d="M333.71 381.18L337.11 387.18L330.31 387.18Z" fill="none" stroke="#000000" stroke-width="0.75"/>
<path d="M333.73 386.06H338.33" stroke="#000000" stroke-width="0.62" fill="none"/>
<path d="M336.03 381.56L339.43 387.56L332.63 387.56Z" fill="none" stroke="#000000" stroke-width="0.75"/>
<path d="M335.95 386.43H340.55" stroke="#000000" stroke-width="0.62" fill="none"/>
<path d="M338.25 381.92L341.65 387.92L334.85 387.92Z" fill="none" stroke="#000000" stroke-width="0.75"/>
<path d="M338.09 386.77H342.69" stroke="#000000" stroke-width="0.62" fill="none"/>
<path d="M340.39 382.27L343.79 388.27L336.99 388.27Z" fill="none" stroke="#000000" stroke-width="0.75"/>
<path d="M340.14 387.1H344.74" stroke="#000000" stroke-width="0.62" fill="none"/>
<path d="M342.44 382.6L345.84 388.6L339.04 388.6Z" fill="none" stroke="#000000" stroke-width="0.75"/>
<path d="M342.11 387.41H346.71" stroke="#000000" stroke-width="0.62" fill="none"/>
<path d="M344.41 382.91L347.81 388.91L341.01 388.91Z" fill="none" stroke="#000000" stroke-width="0.75"/>
<path d="M344.01 387.71H348.61" stroke="#000000" stroke-width="0.62" fill="none"/>
<path d="M346.31 383.21L349.71 389.21L342.91 389.21Z" fill="none" stroke="#000000" stroke-width="0.75"/>
<path d="M345.84 388H350.44" stroke="#000000" stroke-width="0.62" fill="none"/>
<path d="M348.14 383.5L351.54 389.5L344.74 389.5Z" fill="none" stroke="#000000" stroke-width="0.75"/>
<path d="M347.61 388.28H352.21" stroke="#000000" stroke-width="0.62" fill="none"/>
<path d="M349.91 383.78L353.31 389.78L346.51 389.78Z" fill="none" stroke="#000000" stroke-width="0.75"/>
<path d="M349.32 388.55H353.92" stroke="#000000" stroke-width="0.62" fill="none"/>
<path d="M351.62 384.05L355.02 390.05L348.22 390.05Z" fill="none" stroke="#000000" stroke-width="0.75"/>
<path d="M350.98 388.81H355.58" stroke="#000000" stroke-width="0.62" fill="none"/>
<path d="M353.28 384.3L356.68 390.3L349.88 390.3Z" fill="none" stroke="#000000" stroke-width="0.75"/>
<path d="M352.59 389.06H357.19" stroke="#000000" stroke-width="0.62" fill="none"/>
<path d="M354.89 384.55L358.29 390.55L351.49 390.55Z" fill="none" stroke="#000000" stroke-width="0.75"/>
<path d="M354.15 389.3H358.75" stroke="#000000" stroke-width="0.62" fill="none"/>
<path d="M356.45 384.8L359.85 390.8L353.05 390.8Z" fill="none" stroke="#000000" stroke-width="0.75"/>
<path d="M355.67 389.53H360.27" stroke="#000000" stroke-width="0.62" fill="none"/>
<path d="M357.97 385.03L361.37 391.03L354.57 391.03Z" fill="none" stroke="#000000" stroke-width="0.75"/>
<path d="M357.14 389.76H361.74" stroke="#000000" stroke-width="0.62" fill="none"/>
<path d="M359.44 385.26L362.84 391.26L356.04 391.26Z" fill="none" stroke="#000000" stroke-width="0.75"/>
<path d="M358.57 389.98H363.17" stroke="#000000" stroke-width="0.62" fill="none"/>
<path d="M360.87 385.48L364.27 391.48L357.47 391.48Z" fill="none" stroke="#000000" stroke-width="0.75"/>
<path d="M359.96 390.19H364.56" stroke="#000000" stroke-width="0.62" fill="none"/>
<path d="M362.26 385.69L365.66 391.69L358.86 391.69Z" fill="none" stroke="#000000" stroke-width="0.75"/>
<path d="M361.32 390.4H365.92" stroke="#000000" stroke-width="0.62" fill="none"/>
<path d="M363.62 385.9L367.02 391.9L360.22 391.9Z" fill="none" stroke="#000000" stroke-width="0.75"/>
<path d="M362.64 390.6H367.24" stroke="#000000" stroke-width="0.62" fill="none"/>
<path d="M364.94 386.1L368.34 392.1L361.54 392.1Z" fill="none" stroke="#000000" stroke-width="0.75"/>
<path d="M363.93 390.8H368.53" stroke="#000000" stroke-width="0.62" fill="none"/>
<path d="M366.23 386.3L369.63 392.3L362.83 392.3Z" fill="none" stroke="#000000" stroke-width="0.75"/>
<path d="M365.19 391H369.79" stroke="#000000" stroke-width="0.62" fill="none"/>
<path d="M367.49 386.49L370.89 392.49L364.09 392.49Z" fill="none" stroke="#000000" stroke-width="0.75"/>
<path d="M366.42 391.18H371.02" stroke="#000000" stroke-width="0.62" fill="none"/>
<path d="M368.72 386.68L372.12 392.68L365.32 392.68Z" fill="none" stroke="#000000" stroke-width="0.75"/>
<path d="M367.62 391.37H372.22" stroke="#000000" stroke-width="0.62" fill="none"/>
<path d="M369.92 386.87L373.32 392.87L366.52 392.87Z" fill="none" stroke="#000000" stroke-width="0.75"/>
<path d="M368.8 391.55H373.4" stroke="#000000" stroke-width="0.62" fill="none"/>
<path d="M371.1 387.05L374.5 393.05L367.7 393.05Z" fill="none" stroke="#000000" stroke-width="0.75"/>
<path d="M369.94 391.72H374.54" stroke="#000000" stroke-width="0.62" fill="none"/>
<path d="M372.24 387.22L375.64 393.22L368.84 393.22Z" fill="none" stroke="#000000" stroke-width="0.75"/>
<path d="M371.07 391.9H375.67" stroke="#000000" stroke-width="0.62" fill="none"/>
<path d="M373.37 387.39L376.77 393.39L369.97 393.39Z" fill="none" stroke="#000000" stroke-width="0.75"/>
<path d="M372.17 392.06H376.77" stroke="#000000" stroke-width="0.62" fill="none"/>
<path d="M374.47 387.56L377.87 393.56L371.07 393.56Z" fill="none" stroke="#000000" stroke-width="0.75"/>
<path d="M373.24 392.23H377.84" stroke="#000000" stroke-width="0.62" fill="none"/>
<path d="M375.54 387.73L378.94 393.73L372.14 393.73Z" fill="none" stroke="#000000" stroke-width="0.75"/>
<path d="M374.3 392.39H378.9" stroke="#000000" stroke-width="0.62" fill="none"/>
<path d="M376.6 387.89L380 393.89L373.2 393.89Z" fill="none" stroke="#000000" stroke-width="0.75"/>
<path d="M227.31 403.59H231.91" stroke="#0000ff" stroke-width="0.62" fill="none"/>
<path d="M229.61 408.09L233.01 402.09L226.21 402.09Z" fill="none" stroke="#0000ff" stroke-width="0.75"/>
<path d="M242.34 397.89H246.94" stroke="#0000ff" stroke-width="0.62" fill="none"/>
<path d="M244.64 402.4L248.04 396.4L241.24 396.4Z" fill="none" stroke="#0000ff" stroke-width="0.75"/>
<path d="M254 394.51H258.6" stroke="#0000ff" stroke-width="0.62" fill="none"/>
<path d="M256.3 399.02L259.7 393.02L252.9 393.02Z" fill="none" stroke="#0000ff" stroke-width="0.75"/>
<path d="M263.53 392.12H268.13" stroke="#0000ff" stroke-width="0.62" fill="none"/>
<path d="M265.83 396.62L269.23 390.62L262.43 390.62Z" fill="none" stroke="#0000ff" stroke-width="0.75"/>
<path d="M271.58 390.1H276.18" stroke="#0000ff" stroke-width="0.62" fill="none"/>
<path d="M273.88 394.6L277.28 388.6L270.48 388.6Z" fill="none" stroke="#0000ff" stroke-width="0.75"/>
<path d="M278.56 388.35H283.16" stroke="#0000ff" stroke-width="0.62" fill="none"/>
<path d="M280.86 392.85L284.26 386.85L277.46 386.85Z" fill="none" stroke="#0000ff" stroke-width="0.75"/>
<path d="M284.71 386.81H289.31" stroke="#0000ff" stroke-width="0.62" fill="none"/>
<path d="M287.01 391.31L290.41 385.31L283.61 385.31Z" fill="none" stroke="#0000ff" stroke-width="0.75"/>
<path d="M290.21 385.51H294.81" stroke="#0000ff" stroke-width="0.62" fill="none"/>
<path d="M292.51 390.01L295.91 384.01L289.11 384.01Z" fill="none" stroke="#0000ff" stroke-width="0.75"/>
<path d="M295.19 384.41H299.79" stroke="#0000ff" stroke-width="0.62" fill="none"/>
<path d="M297.49 388.91L300.89 382.91L294.09 382.91Z" fill="none" stroke="#0000ff" stroke-width="0.75"/>
<path d="M299.74 383.46H304.34" stroke="#0000ff" stroke-width="0.62" fill="none"/>
<path d="M302.04 387.96L305.44 381.96L298.64 381.96Z" fill="none" stroke="#0000ff" stroke-width="0.75"/>
<path d="M303.92 382.62H308.52" stroke="#0000ff" stroke-width="0.62" fill="none"/>
<path d="M306.22 387.12L309.62 381.12L302.82 381.12Z" fill="none" stroke="#0000ff" stroke-width="0.75"/>
<path d="M307.79 381.87H312.39" stroke="#0000ff" stroke-width="0.62" fill="none"/>
<path d="M310.09 386.37L313.49 380.37L306.69 380.37Z" fill="none" stroke="#0000ff" stroke-width="0.75"/>
<path d="M311.4 381.2H316" stroke="#0000ff" stroke-width="0.62" fill="none"/>
<path d="M313.7 385.7L317.1 379.7L310.3 379.7Z" fill="none" stroke="#0000ff" stroke-width="0.75"/>
<path d="M314.77 380.59H319.37" stroke="#0000ff" stroke-width="0.62" fill="none"/>
<path d="M317.07 385.09L320.47 379.09L313.67 379.09Z" fill="none" stroke="#0000ff" stroke-width="0.75"/>
<path d="M317.94 380.04H322.54" stroke="#0000ff" stroke-width="0.62" fill="none"/>
<path d="M320.24 384.54L323.64 378.54L316.84 378.54Z" fill="none" stroke="#0000ff" stroke-width="0.75"/>
<path d="M320.92 379.53H325.52" stroke="#0000ff" stroke-width="0.62" fill="none"/>
<path d="M323.22 384.03L326.62 378.03L319.82 378.03Z" fill="none" stroke="#0000ff" stroke-width="0.75"/>
<path d="M323.75 379.07H328.35" stroke="#0000ff" stroke-width="0.62" fill="none"/>
<path d="M326.05 383.57L329.45 377.57L322.65 377.57Z" fill="none" stroke="#0000ff" stroke-width="0.75"/>
<path d="M326.43 378.64H331.03" stroke="#0000ff" stroke-width="0.62" fill="none"/>
<path d="M328.73 383.14L332.13 377.14L325.33 377.14Z" fill="none" stroke="#0000ff" stroke-width="0.75"/>
<path d="M328.98 378.24H333.58" stroke="#0000ff" stroke-width="0.62" fill="none"/>
<path d="M331.28 382.74L334.68 376.74L327.88 376.74Z" fill="none" stroke="#0000ff" stroke-width="0.75"/>
<path d="M331.41 377.86H336.01" stroke="#0000ff" stroke-width="0.62" fill="none"/>
<path d="M333.71 382.37L337.11 376.37L330.31 376.37Z" fill="none" stroke="#0000ff" stroke-width="0.75"/>
<path d="M333.73 377.52H338.33" stroke="#0000ff" stroke-width="0.62" fill="none"/>
<path d="M336.03 382.02L339.43 376.02L332.63 376.02Z" fill="none" stroke="#0000ff" stroke-width="0.75"/>
<path d="M335.95 377.19H340.55" stroke="#0000ff" stroke-width="0.62" fill="none"/>
<path d="M338.25 381.69L341.65 375.69L334.85 375.69Z" fill="none" stroke="#0000ff" stroke-width="0.75"/>
<path d="M338.09 376.89H342.69" stroke="#0000ff" stroke-width="0.62" fill="none"/>
<path d="M340.39 381.39L343.79 375.39L336.99 375.39Z" fill="none" stroke="#0000ff" stroke-width="0.75"/>
<path d="M340.14 376.6H344.74" stroke="#0000ff" stroke-width="0.62" fill="none"/>
<path d="M342.44 381.1L345.84 375.1L339.04 375.1Z" fill="none" stroke="#0000ff" stroke-width="0.75"/>
<path d="M342.11 376.33H346.71" stroke="#0000ff" stroke-width="0.62" fill="none"/>
<path d="M344.41 380.83L347.81 374.83L341.01 374.83Z" fill="none" stroke="#0000ff" stroke-width="0.75"/>
<path d="M344.01 376.08H348.61" stroke="#0000ff" stroke-width="0.62" fill="none"/>
<path d="M346.31 380.58L349.71 374.58L342.91 374.58Z" fill="none" stroke="#0000ff" stroke-width="0.75"/>
<path d="M345.84 375.83H350.44" stroke="#0000ff" stroke-width="0.62" fill="none"/>
<path d="M348.14 380.34L351.54 374.34L344.74 374.34Z" fill="none" stroke="#0000ff" stroke-width="0.75"/>
<path d="M347.61 375.6H352.21" stroke="#0000ff" stroke-width="0.62" fill="none"/>
<path d="M349.91 380.11L353.31 374.11L346.51 374.11Z" fill="none" stroke="#0000ff" stroke-width="0.75"/>
<path d="M349.32 375.39H353.92" stroke="#0000ff" stroke-width="0.62" fill="none"/>
<path d="M351.62 379.89L355.02 373.89L348.22 373.89Z" fill="none" stroke="#0000ff" stroke-width="0.75"/>
<path d="M350.98 375.18H355.58" stroke="#0000ff" stroke-width="0.62" fill="none"/>
<path d="M353.28 379.68L356.68 373.68L349.88 373.68Z" fill="none" stroke="#0000ff" stroke-width="0.75"/>
<path d="M352.59 374.98H357.19" stroke="#0000ff" stroke-width="0.62" fill="none"/>
<path d="M354.89 379.48L358.29 373.48L351.49 373.48Z" fill="none" stroke="#0000ff" stroke-width="0.75"/>
<path d="M354.15 374.79H358.75" stroke="#0000ff" stroke-width="0.62" fill="none"/>
<path d="M356.45 379.3L359.85 373.3L353.05 373.3Z" fill="none" stroke="#0000ff" stroke-width="0.75"/>
<path d="M355.67 374.62H360.27" stroke="#0000ff" stroke-width="0.62" fill="none"/>
<path d="M357.97 379.12L361.37 373.12L354.57 373.12Z" fill="none" stroke="#0000ff" stroke-width="0.75"/>
<path d="M357.14 374.44H361.74" stroke="#0000ff" stroke-width="0.62" fill="none"/>
<path d="M359.44 378.95L362.84 372.95L356.04 372.95Z" fill="none" stroke="#0000ff" stroke-width="0.75"/>
<path d="M358.57 374.28H363.17" stroke="#0000ff" stroke-width="0.62" fill="none"/>
<path d="M360.87 378.78L364.27 372.78L357.47 372.78Z" fill="none" stroke="#0000ff" stroke-width="0.75"/>
<path d="M359.96 374.12H364.56" stroke="#0000ff" stroke-width="0.62" fill="none"/>
<path d="M362.26 378.62L365.66 372.62L358.86 372.62Z" fill="none" stroke="#0000ff" stroke-width="0.75"/>
<path d="M361.32 373.97H365.92" stroke="#0000ff" stroke-width="0.62" fill="none"/>
<path d="M363.62 378.47L367.02 372.47L360.22 372.47Z" fill="none" stroke="#0000ff" stroke-width="0.75"/>
<path d="M362.64 373.83H367.24" stroke="#0000ff" stroke-width="0.62" fill="none"/>
<path d="M364.94 378.33L368.34 372.33L361.54 372.33Z" fill="none" stroke="#0000ff" stroke-width="0.75"/>
<path d="M363.93 373.69H368.53" stroke="#0000ff" stroke-width="0.62" fill="none"/>
<path d="M366.23 378.19L369.63 372.19L362.83 372.19Z" fill="none" stroke="#0000ff" stroke-width="0.75"/>
<path d="M365.19 373.55H369.79" stroke="#0000ff" stroke-width="0.62" fill="none"/>
<path d="M367.49 378.06L370.89 372.06L364.09 372.06Z" fill="none" stroke="#0000ff" stroke-width="0.75"/>
<path d="M366.42 373.43H371.02" stroke="#0000ff" stroke-width="0.62" fill="none"/>
<path d="M368.72 377.93L372.12 371.93L365.32 371.93Z" fill="none" stroke="#0000ff" stroke-width="0.75"/>
<path d="M367.62 373.3H372.22" stroke="#0000ff" stroke-width="0.62" fill="none"/>
<path d="M369.92 377.8L373.32 371.8L366.52 371.8Z" fill="none" stroke="#0000ff" stroke-width="0.75"/>
<path d="M368.8 373.18H373.4" stroke="#0000ff" stroke-width="0.62" fill="none"/>
<path d="M371.1 377.68L374.5 371.68L367.7 371.68Z" fill="none" stroke="#0000ff" stroke-width="0.75"/>
<path d="M369.94 373.07H374.54" stroke="#0000ff" stroke-width="0.62" fill="none"/>
<path d="M372.24 377.57L375.64 371.57L368.84 371.57Z" fill="none" stroke="#0000ff" stroke-width="0.75"/>
<path d="M371.07 372.96H375.67" stroke="#0000ff" stroke-width="0.62" fill="none"/>
<path d="M373.37 377.46L376.77 371.46L369.97 371.46Z" fill="none" stroke="#0000ff" stroke-width="0.75"/>
<path d="M372.17 372.85H376.77" stroke="#0000ff" stroke-width="0.62" fill="none"/>
<path d="M374.47 377.35L377.87 371.35L371.07 371.35Z" fill="none" stroke="#0000ff" stroke-width="0.75"/>
<path d="M373.24 372.75H377.84" stroke="#0000ff" stroke-width="0.62" fill="none"/>
<path d="M375.54 377.25L378.94 371.25L372.14 371.25Z" fill="none" stroke="#0000ff" stroke-width="0.75"/>
<path d="M374.3 372.65H378.9" stroke="#0000ff" stroke-width="0.62" fill="none"/>
<path d="M376.6 377.15L380 371.15L373.2 371.15Z" fill="none" stroke="#0000ff" stroke-width="0.75"/>
<path d="M220.1 404.1L381.8 363.51" stroke="#ff0000" stroke-width="1.45" stroke-dasharray="3.5 2.2" fill="none"/>
<rect x="220.1" y="352.4" width="161.7" height="55.8" fill="none" stroke="#000" stroke-width="0.78"/>
<path d="M400.36 408.2L400.36 405.9M400.36 352.4L400.36 354.7M408.42 408.2L408.42 405.9M408.42 352.4L408.42 354.7M415.39 408.2L415.39 405.9M415.39 352.4L415.39 354.7M421.55 408.2L421.55 405.9M421.55 352.4L421.55 354.7M427.05 408.2L427.05 403.6M427.05 352.4L427.05 357M463.26 408.2L463.26 405.9M463.26 352.4L463.26 354.7M484.45 408.2L484.45 405.9M484.45 352.4L484.45 354.7M499.48 408.2L499.48 405.9M499.48 352.4L499.48 354.7M511.14 408.2L511.14 405.9M511.14 352.4L511.14 354.7M520.66 408.2L520.66 405.9M520.66 352.4L520.66 354.7M528.72 408.2L528.72 405.9M528.72 352.4L528.72 354.7M535.69 408.2L535.69 405.9M535.69 352.4L535.69 354.7M541.85 408.2L541.85 405.9M541.85 352.4L541.85 354.7M547.35 408.2L547.35 403.6M547.35 352.4L547.35 357M390.6 406.52L392.9 406.52M552.55 406.52L550.25 406.52M390.6 403.59L392.9 403.59M552.55 403.59L550.25 403.59M390.6 401.2L392.9 401.2M552.55 401.2L550.25 401.2M390.6 399.18L392.9 399.18M552.55 399.18L550.25 399.18M390.6 397.43L392.9 397.43M552.55 397.43L550.25 397.43M390.6 395.88L392.9 395.88M552.55 395.88L550.25 395.88M390.6 394.5L395.2 394.5M552.55 394.5L547.95 394.5M390.6 385.41L392.9 385.41M552.55 385.41L550.25 385.41M390.6 380.09L392.9 380.09M552.55 380.09L550.25 380.09M390.6 376.32L392.9 376.32M552.55 376.32L550.25 376.32M390.6 373.39L392.9 373.39M552.55 373.39L550.25 373.39M390.6 371L392.9 371M552.55 371L550.25 371M390.6 368.98L392.9 368.98M552.55 368.98L550.25 368.98M390.6 367.23L392.9 367.23M552.55 367.23L550.25 367.23M390.6 365.68L392.9 365.68M552.55 365.68L550.25 365.68M390.6 364.3L395.2 364.3M552.55 364.3L547.95 364.3M390.6 355.21L392.9 355.21M552.55 355.21L550.25 355.21" stroke="#000" stroke-width="0.6" fill="none"/>
<path d="M398.06 363.91H402.66" stroke="#000000" stroke-width="0.62" fill="none"/>
<path d="M400.36 359.41L403.76 365.41L396.96 365.41Z" fill="none" stroke="#000000" stroke-width="0.75"/>
<path d="M413.09 368.83H417.69" stroke="#000000" stroke-width="0.62" fill="none"/>
<path d="M415.39 364.33L418.79 370.33L411.99 370.33Z" fill="none" stroke="#000000" stroke-width="0.75"/>
<path d="M424.75 372.13H429.35" stroke="#000000" stroke-width="0.62" fill="none"/>
<path d="M427.05 367.63L430.45 373.63L423.65 373.63Z" fill="none" stroke="#000000" stroke-width="0.75"/>
<path d="M434.28 374.53H438.88" stroke="#000000" stroke-width="0.62" fill="none"/>
<path d="M436.58 370.03L439.98 376.03L433.18 376.03Z" fill="none" stroke="#000000" stroke-width="0.75"/>
<path d="M442.33 376.37H446.93" stroke="#000000" stroke-width="0.62" fill="none"/>
<path d="M444.63 371.87L448.03 377.87L441.23 377.87Z" fill="none" stroke="#000000" stroke-width="0.75"/>
<path d="M449.31 377.85H453.91" stroke="#000000" stroke-width="0.62" fill="none"/>
<path d="M451.61 373.35L455.01 379.35L448.21 379.35Z" fill="none" stroke="#000000" stroke-width="0.75"/>
<path d="M455.46 379.07H460.06" stroke="#000000" stroke-width="0.62" fill="none"/>
<path d="M457.76 374.57L461.16 380.57L454.36 380.57Z" fill="none" stroke="#000000" stroke-width="0.75"/>
<path d="M460.96 380.1H465.56" stroke="#000000" stroke-width="0.62" fill="none"/>
<path d="M463.26 375.6L466.66 381.6L459.86 381.6Z" fill="none" stroke="#000000" stroke-width="0.75"/>
<path d="M465.94 380.99H470.54" stroke="#000000" stroke-width="0.62" fill="none"/>
<path d="M468.24 376.48L471.64 382.48L464.84 382.48Z" fill="none" stroke="#000000" stroke-width="0.75"/>
<path d="M470.49 381.76H475.09" stroke="#000000" stroke-width="0.62" fill="none"/>
<path d="M472.79 377.26L476.19 383.26L469.39 383.26Z" fill="none" stroke="#000000" stroke-width="0.75"/>
<path d="M474.67 382.45H479.27" stroke="#000000" stroke-width="0.62" fill="none"/>
<path d="M476.97 377.95L480.37 383.95L473.57 383.95Z" fill="none" stroke="#000000" stroke-width="0.75"/>
<path d="M478.54 383.07H483.14" stroke="#000000" stroke-width="0.62" fill="none"/>
<path d="M480.84 378.57L484.24 384.57L477.44 384.57Z" fill="none" stroke="#000000" stroke-width="0.75"/>
<path d="M482.15 383.64H486.75" stroke="#000000" stroke-width="0.62" fill="none"/>
<path d="M484.45 379.13L487.85 385.13L481.05 385.13Z" fill="none" stroke="#000000" stroke-width="0.75"/>
<path d="M485.52 384.15H490.12" stroke="#000000" stroke-width="0.62" fill="none"/>
<path d="M487.82 379.65L491.22 385.65L484.42 385.65Z" fill="none" stroke="#000000" stroke-width="0.75"/>
<path d="M488.69 384.63H493.29" stroke="#000000" stroke-width="0.62" fill="none"/>
<path d="M490.99 380.13L494.39 386.13L487.59 386.13Z" fill="none" stroke="#000000" stroke-width="0.75"/>
<path d="M491.67 385.07H496.27" stroke="#000000" stroke-width="0.62" fill="none"/>
<path d="M493.97 380.57L497.37 386.57L490.57 386.57Z" fill="none" stroke="#000000" stroke-width="0.75"/>
<path d="M494.5 385.48H499.1" stroke="#000000" stroke-width="0.62" fill="none"/>
<path d="M496.8 380.98L500.2 386.98L493.4 386.98Z" fill="none" stroke="#000000" stroke-width="0.75"/>
<path d="M497.18 385.87H501.78" stroke="#000000" stroke-width="0.62" fill="none"/>
<path d="M499.48 381.37L502.88 387.37L496.08 387.37Z" fill="none" stroke="#000000" stroke-width="0.75"/>
<path d="M499.73 386.23H504.33" stroke="#000000" stroke-width="0.62" fill="none"/>
<path d="M502.03 381.73L505.43 387.73L498.63 387.73Z" fill="none" stroke="#000000" stroke-width="0.75"/>
<path d="M502.16 386.58H506.76" stroke="#000000" stroke-width="0.62" fill="none"/>
<path d="M504.46 382.08L507.86 388.08L501.06 388.08Z" fill="none" stroke="#000000" stroke-width="0.75"/>
<path d="M504.48 386.91H509.08" stroke="#000000" stroke-width="0.62" fill="none"/>
<path d="M506.78 382.41L510.18 388.41L503.38 388.41Z" fill="none" stroke="#000000" stroke-width="0.75"/>
<path d="M506.7 387.22H511.3" stroke="#000000" stroke-width="0.62" fill="none"/>
<path d="M509 382.72L512.4 388.72L505.6 388.72Z" fill="none" stroke="#000000" stroke-width="0.75"/>
<path d="M508.84 387.52H513.44" stroke="#000000" stroke-width="0.62" fill="none"/>
<path d="M511.14 383.02L514.54 389.02L507.74 389.02Z" fill="none" stroke="#000000" stroke-width="0.75"/>
<path d="M510.89 387.81H515.49" stroke="#000000" stroke-width="0.62" fill="none"/>
<path d="M513.19 383.31L516.59 389.31L509.79 389.31Z" fill="none" stroke="#000000" stroke-width="0.75"/>
<path d="M512.86 388.09H517.46" stroke="#000000" stroke-width="0.62" fill="none"/>
<path d="M515.16 383.59L518.56 389.59L511.76 389.59Z" fill="none" stroke="#000000" stroke-width="0.75"/>
<path d="M514.76 388.36H519.36" stroke="#000000" stroke-width="0.62" fill="none"/>
<path d="M517.06 383.86L520.46 389.86L513.66 389.86Z" fill="none" stroke="#000000" stroke-width="0.75"/>
<path d="M516.59 388.62H521.19" stroke="#000000" stroke-width="0.62" fill="none"/>
<path d="M518.89 384.11L522.29 390.11L515.49 390.11Z" fill="none" stroke="#000000" stroke-width="0.75"/>
<path d="M518.36 388.87H522.96" stroke="#000000" stroke-width="0.62" fill="none"/>
<path d="M520.66 384.37L524.06 390.37L517.26 390.37Z" fill="none" stroke="#000000" stroke-width="0.75"/>
<path d="M520.07 389.11H524.67" stroke="#000000" stroke-width="0.62" fill="none"/>
<path d="M522.37 384.61L525.77 390.61L518.97 390.61Z" fill="none" stroke="#000000" stroke-width="0.75"/>
<path d="M521.73 389.35H526.33" stroke="#000000" stroke-width="0.62" fill="none"/>
<path d="M524.03 384.85L527.43 390.85L520.63 390.85Z" fill="none" stroke="#000000" stroke-width="0.75"/>
<path d="M523.34 389.58H527.94" stroke="#000000" stroke-width="0.62" fill="none"/>
<path d="M525.64 385.08L529.04 391.08L522.24 391.08Z" fill="none" stroke="#000000" stroke-width="0.75"/>
<path d="M524.9 389.8H529.5" stroke="#000000" stroke-width="0.62" fill="none"/>
<path d="M527.2 385.3L530.6 391.3L523.8 391.3Z" fill="none" stroke="#000000" stroke-width="0.75"/>
<path d="M526.42 390.02H531.02" stroke="#000000" stroke-width="0.62" fill="none"/>
<path d="M528.72 385.52L532.12 391.52L525.32 391.52Z" fill="none" stroke="#000000" stroke-width="0.75"/>
<path d="M527.89 390.24H532.49" stroke="#000000" stroke-width="0.62" fill="none"/>
<path d="M530.19 385.73L533.59 391.73L526.79 391.73Z" fill="none" stroke="#000000" stroke-width="0.75"/>
<path d="M529.32 390.45H533.92" stroke="#000000" stroke-width="0.62" fill="none"/>
<path d="M531.62 385.94L535.02 391.94L528.22 391.94Z" fill="none" stroke="#000000" stroke-width="0.75"/>
<path d="M530.71 390.65H535.31" stroke="#000000" stroke-width="0.62" fill="none"/>
<path d="M533.01 386.15L536.41 392.15L529.61 392.15Z" fill="none" stroke="#000000" stroke-width="0.75"/>
<path d="M532.07 390.85H536.67" stroke="#000000" stroke-width="0.62" fill="none"/>
<path d="M534.37 386.35L537.77 392.35L530.97 392.35Z" fill="none" stroke="#000000" stroke-width="0.75"/>
<path d="M533.39 391.05H537.99" stroke="#000000" stroke-width="0.62" fill="none"/>
<path d="M535.69 386.55L539.09 392.55L532.29 392.55Z" fill="none" stroke="#000000" stroke-width="0.75"/>
<path d="M534.68 391.24H539.28" stroke="#000000" stroke-width="0.62" fill="none"/>
<path d="M536.98 386.74L540.38 392.74L533.58 392.74Z" fill="none" stroke="#000000" stroke-width="0.75"/>
<path d="M535.94 391.43H540.54" stroke="#000000" stroke-width="0.62" fill="none"/>
<path d="M538.24 386.93L541.64 392.93L534.84 392.93Z" fill="none" stroke="#000000" stroke-width="0.75"/>
<path d="M537.17 391.62H541.77" stroke="#000000" stroke-width="0.62" fill="none"/>
<path d="M539.47 387.12L542.87 393.12L536.07 393.12Z" fill="none" stroke="#000000" stroke-width="0.75"/>
<path d="M538.37 391.81H542.97" stroke="#000000" stroke-width="0.62" fill="none"/>
<path d="M540.67 387.3L544.07 393.3L537.27 393.3Z" fill="none" stroke="#000000" stroke-width="0.75"/>
<path d="M539.55 391.99H544.15" stroke="#000000" stroke-width="0.62" fill="none"/>
<path d="M541.85 387.49L545.25 393.49L538.45 393.49Z" fill="none" stroke="#000000" stroke-width="0.75"/>
<path d="M540.69 392.17H545.29" stroke="#000000" stroke-width="0.62" fill="none"/>
<path d="M542.99 387.66L546.39 393.66L539.59 393.66Z" fill="none" stroke="#000000" stroke-width="0.75"/>
<path d="M541.82 392.34H546.42" stroke="#000000" stroke-width="0.62" fill="none"/>
<path d="M544.12 387.84L547.52 393.84L540.72 393.84Z" fill="none" stroke="#000000" stroke-width="0.75"/>
<path d="M542.92 392.52H547.52" stroke="#000000" stroke-width="0.62" fill="none"/>
<path d="M545.22 388.01L548.62 394.01L541.82 394.01Z" fill="none" stroke="#000000" stroke-width="0.75"/>
<path d="M543.99 392.69H548.59" stroke="#000000" stroke-width="0.62" fill="none"/>
<path d="M546.29 388.19L549.69 394.19L542.89 394.19Z" fill="none" stroke="#000000" stroke-width="0.75"/>
<path d="M545.05 392.86H549.65" stroke="#000000" stroke-width="0.62" fill="none"/>
<path d="M547.35 388.36L550.75 394.36L543.95 394.36Z" fill="none" stroke="#000000" stroke-width="0.75"/>
<path d="M398.06 402.55H402.66" stroke="#0000ff" stroke-width="0.62" fill="none"/>
<path d="M400.36 407.05L403.76 401.05L396.96 401.05Z" fill="none" stroke="#0000ff" stroke-width="0.75"/>
<path d="M413.09 397.7H417.69" stroke="#0000ff" stroke-width="0.62" fill="none"/>
<path d="M415.39 402.2L418.79 396.2L411.99 396.2Z" fill="none" stroke="#0000ff" stroke-width="0.75"/>
<path d="M424.75 394.51H429.35" stroke="#0000ff" stroke-width="0.62" fill="none"/>
<path d="M427.05 399.02L430.45 393.02L423.65 393.02Z" fill="none" stroke="#0000ff" stroke-width="0.75"/>
<path d="M434.28 392.12H438.88" stroke="#0000ff" stroke-width="0.62" fill="none"/>
<path d="M436.58 396.62L439.98 390.62L433.18 390.62Z" fill="none" stroke="#0000ff" stroke-width="0.75"/>
<path d="M442.33 390.1H446.93" stroke="#0000ff" stroke-width="0.62" fill="none"/>
<path d="M444.63 394.6L448.03 388.6L441.23 388.6Z" fill="none" stroke="#0000ff" stroke-width="0.75"/>
<path d="M449.31 388.35H453.91" stroke="#0000ff" stroke-width="0.62" fill="none"/>
<path d="M451.61 392.85L455.01 386.85L448.21 386.85Z" fill="none" stroke="#0000ff" stroke-width="0.75"/>
<path d="M455.46 386.81H460.06" stroke="#0000ff" stroke-width="0.62" fill="none"/>
<path d="M457.76 391.31L461.16 385.31L454.36 385.31Z" fill="none" stroke="#0000ff" stroke-width="0.75"/>
<path d="M460.96 385.55H465.56" stroke="#0000ff" stroke-width="0.62" fill="none"/>
<path d="M463.26 390.05L466.66 384.05L459.86 384.05Z" fill="none" stroke="#0000ff" stroke-width="0.75"/>
<path d="M465.94 384.51H470.54" stroke="#0000ff" stroke-width="0.62" fill="none"/>
<path d="M468.24 389.01L471.64 383.01L464.84 383.01Z" fill="none" stroke="#0000ff" stroke-width="0.75"/>
<path d="M470.49 383.61H475.09" stroke="#0000ff" stroke-width="0.62" fill="none"/>
<path d="M472.79 388.11L476.19 382.11L469.39 382.11Z" fill="none" stroke="#0000ff" stroke-width="0.75"/>
<path d="M474.67 382.83H479.27" stroke="#0000ff" stroke-width="0.62" fill="none"/>
<path d="M476.97 387.33L480.37 381.33L473.57 381.33Z" fill="none" stroke="#0000ff" stroke-width="0.75"/>
<path d="M478.54 382.13H483.14" stroke="#0000ff" stroke-width="0.62" fill="none"/>
<path d="M480.84 386.64L484.24 380.64L477.44 380.64Z" fill="none" stroke="#0000ff" stroke-width="0.75"/>
<path d="M482.15 381.51H486.75" stroke="#0000ff" stroke-width="0.62" fill="none"/>
<path d="M484.45 386.02L487.85 380.02L481.05 380.02Z" fill="none" stroke="#0000ff" stroke-width="0.75"/>
<path d="M485.52 380.96H490.12" stroke="#0000ff" stroke-width="0.62" fill="none"/>
<path d="M487.82 385.46L491.22 379.46L484.42 379.46Z" fill="none" stroke="#0000ff" stroke-width="0.75"/>
<path d="M488.69 380.45H493.29" stroke="#0000ff" stroke-width="0.62" fill="none"/>
<path d="M490.99 384.95L494.39 378.95L487.59 378.95Z" fill="none" stroke="#0000ff" stroke-width="0.75"/>
<path d="M491.67 379.99H496.27" stroke="#0000ff" stroke-width="0.62" fill="none"/>
<path d="M493.97 384.49L497.37 378.49L490.57 378.49Z" fill="none" stroke="#0000ff" stroke-width="0.75"/>
<path d="M494.5 379.56H499.1" stroke="#0000ff" stroke-width="0.62" fill="none"/>
<path d="M496.8 384.07L500.2 378.07L493.4 378.07Z" fill="none" stroke="#0000ff" stroke-width="0.75"/>
<path d="M497.18 379.17H501.78" stroke="#0000ff" stroke-width="0.62" fill="none"/>
<path d="M499.48 383.67L502.88 377.67L496.08 377.67Z" fill="none" stroke="#0000ff" stroke-width="0.75"/>
<path d="M499.73 378.81H504.33" stroke="#0000ff" stroke-width="0.62" fill="none"/>
<path d="M502.03 383.31L505.43 377.31L498.63 377.31Z" fill="none" stroke="#0000ff" stroke-width="0.75"/>
<path d="M502.16 378.48H506.76" stroke="#0000ff" stroke-width="0.62" fill="none"/>
<path d="M504.46 382.98L507.86 376.98L501.06 376.98Z" fill="none" stroke="#0000ff" stroke-width="0.75"/>
<path d="M504.48 378.16H509.08" stroke="#0000ff" stroke-width="0.62" fill="none"/>
<path d="M506.78 382.67L510.18 376.67L503.38 376.67Z" fill="none" stroke="#0000ff" stroke-width="0.75"/>
<path d="M506.7 377.87H511.3" stroke="#0000ff" stroke-width="0.62" fill="none"/>
<path d="M509 382.37L512.4 376.37L505.6 376.37Z" fill="none" stroke="#0000ff" stroke-width="0.75"/>
<path d="M508.84 377.6H513.44" stroke="#0000ff" stroke-width="0.62" fill="none"/>
<path d="M511.14 382.1L514.54 376.1L507.74 376.1Z" fill="none" stroke="#0000ff" stroke-width="0.75"/>
<path d="M510.89 377.34H515.49" stroke="#0000ff" stroke-width="0.62" fill="none"/>
<path d="M513.19 381.84L516.59 375.84L509.79 375.84Z" fill="none" stroke="#0000ff" stroke-width="0.75"/>
<path d="M512.86 377.1H517.46" stroke="#0000ff" stroke-width="0.62" fill="none"/>
<path d="M515.16 381.6L518.56 375.6L511.76 375.6Z" fill="none" stroke="#0000ff" stroke-width="0.75"/>
<path d="M514.76 376.87H519.36" stroke="#0000ff" stroke-width="0.62" fill="none"/>
<path d="M517.06 381.37L520.46 375.37L513.66 375.37Z" fill="none" stroke="#0000ff" stroke-width="0.75"/>
<path d="M516.59 376.65H521.19" stroke="#0000ff" stroke-width="0.62" fill="none"/>
<path d="M518.89 381.16L522.29 375.16L515.49 375.16Z" fill="none" stroke="#0000ff" stroke-width="0.75"/>
<path d="M518.36 376.45H522.96" stroke="#0000ff" stroke-width="0.62" fill="none"/>
<path d="M520.66 380.95L524.06 374.95L517.26 374.95Z" fill="none" stroke="#0000ff" stroke-width="0.75"/>
<path d="M520.07 376.26H524.67" stroke="#0000ff" stroke-width="0.62" fill="none"/>
<path d="M522.37 380.76L525.77 374.76L518.97 374.76Z" fill="none" stroke="#0000ff" stroke-width="0.75"/>
<path d="M521.73 376.07H526.33" stroke="#0000ff" stroke-width="0.62" fill="none"/>
<path d="M524.03 380.58L527.43 374.58L520.63 374.58Z" fill="none" stroke="#0000ff" stroke-width="0.75"/>
<path d="M523.34 375.9H527.94" stroke="#0000ff" stroke-width="0.62" fill="none"/>
<path d="M525.64 380.4L529.04 374.4L522.24 374.4Z" fill="none" stroke="#0000ff" stroke-width="0.75"/>
<path d="M524.9 375.73H529.5" stroke="#0000ff" stroke-width="0.62" fill="none"/>
<path d="M527.2 380.23L530.6 374.23L523.8 374.23Z" fill="none" stroke="#0000ff" stroke-width="0.75"/>
<path d="M526.42 375.57H531.02" stroke="#0000ff" stroke-width="0.62" fill="none"/>
<path d="M528.72 380.07L532.12 374.07L525.32 374.07Z" fill="none" stroke="#0000ff" stroke-width="0.75"/>
<path d="M527.89 375.42H532.49" stroke="#0000ff" stroke-width="0.62" fill="none"/>
<path d="M530.19 379.92L533.59 373.92L526.79 373.92Z" fill="none" stroke="#0000ff" stroke-width="0.75"/>
<path d="M529.32 375.28H533.92" stroke="#0000ff" stroke-width="0.62" fill="none"/>
<path d="M531.62 379.78L535.02 373.78L528.22 373.78Z" fill="none" stroke="#0000ff" stroke-width="0.75"/>
<path d="M530.71 375.14H535.31" stroke="#0000ff" stroke-width="0.62" fill="none"/>
<path d="M533.01 379.64L536.41 373.64L529.61 373.64Z" fill="none" stroke="#0000ff" stroke-width="0.75"/>
<path d="M532.07 375H536.67" stroke="#0000ff" stroke-width="0.62" fill="none"/>
<path d="M534.37 379.51L537.77 373.51L530.97 373.51Z" fill="none" stroke="#0000ff" stroke-width="0.75"/>
<path d="M533.39 374.88H537.99" stroke="#0000ff" stroke-width="0.62" fill="none"/>
<path d="M535.69 379.38L539.09 373.38L532.29 373.38Z" fill="none" stroke="#0000ff" stroke-width="0.75"/>
<path d="M534.68 374.76H539.28" stroke="#0000ff" stroke-width="0.62" fill="none"/>
<path d="M536.98 379.26L540.38 373.26L533.58 373.26Z" fill="none" stroke="#0000ff" stroke-width="0.75"/>
<path d="M535.94 374.64H540.54" stroke="#0000ff" stroke-width="0.62" fill="none"/>
<path d="M538.24 379.14L541.64 373.14L534.84 373.14Z" fill="none" stroke="#0000ff" stroke-width="0.75"/>
<path d="M537.17 374.52H541.77" stroke="#0000ff" stroke-width="0.62" fill="none"/>
<path d="M539.47 379.03L542.87 373.03L536.07 373.03Z" fill="none" stroke="#0000ff" stroke-width="0.75"/>
<path d="M538.37 374.42H542.97" stroke="#0000ff" stroke-width="0.62" fill="none"/>
<path d="M540.67 378.92L544.07 372.92L537.27 372.92Z" fill="none" stroke="#0000ff" stroke-width="0.75"/>
<path d="M539.55 374.31H544.15" stroke="#0000ff" stroke-width="0.62" fill="none"/>
<path d="M541.85 378.81L545.25 372.81L538.45 372.81Z" fill="none" stroke="#0000ff" stroke-width="0.75"/>
<path d="M540.69 374.21H545.29" stroke="#0000ff" stroke-width="0.62" fill="none"/>
<path d="M542.99 378.71L546.39 372.71L539.59 372.71Z" fill="none" stroke="#0000ff" stroke-width="0.75"/>
<path d="M541.82 374.11H546.42" stroke="#0000ff" stroke-width="0.62" fill="none"/>
<path d="M544.12 378.62L547.52 372.62L540.72 372.62Z" fill="none" stroke="#0000ff" stroke-width="0.75"/>
<path d="M542.92 374.02H547.52" stroke="#0000ff" stroke-width="0.62" fill="none"/>
<path d="M545.22 378.52L548.62 372.52L541.82 372.52Z" fill="none" stroke="#0000ff" stroke-width="0.75"/>
<path d="M543.99 373.93H548.59" stroke="#0000ff" stroke-width="0.62" fill="none"/>
<path d="M546.29 378.43L549.69 372.43L542.89 372.43Z" fill="none" stroke="#0000ff" stroke-width="0.75"/>
<path d="M545.05 373.84H549.65" stroke="#0000ff" stroke-width="0.62" fill="none"/>
<path d="M547.35 378.35L550.75 372.35L543.95 372.35Z" fill="none" stroke="#0000ff" stroke-width="0.75"/>
<path d="M390.6 404.16L552.55 363.51" stroke="#ff0000" stroke-width="1.45" stroke-dasharray="3.5 2.2" fill="none"/>
<rect x="390.6" y="352.4" width="161.95" height="55.8" fill="none" stroke="#000" stroke-width="0.78"/>
<path d="M119.6 355.83L123.05 361.63L116.15 361.63Z" fill="none" stroke="#000000" stroke-width="0.62"/>
<path d="M119.6 373.67L123.05 367.87L116.15 367.87Z" fill="none" stroke="#0000ff" stroke-width="0.62"/>
<g style="filter:grayscale(1)">
<text x="53.8" y="156.6" font-size="10.4" text-anchor="middle">5.5</text>
<text x="75.65" y="156.6" font-size="10.4" text-anchor="middle">6</text>
<text x="97.5" y="156.6" font-size="10.4" text-anchor="middle">6.5</text>
<text x="119.35" y="156.6" font-size="10.4" text-anchor="middle">7</text>
<text x="141.2" y="156.6" font-size="10.4" text-anchor="middle">7.5</text>
<text x="163.05" y="156.6" font-size="10.4" text-anchor="middle">8</text>
<text x="184.9" y="156.6" font-size="10.4" text-anchor="middle">8.5</text>
<text x="206.75" y="156.6" font-size="10.4" text-anchor="middle">9</text>
<text y="170" font-size="15.6"><tspan x="116.47" textLength="10.6" lengthAdjust="spacingAndGlyphs">ln</tspan><tspan x="132.38" font-size="16" font-style="italic">N</tspan></text>
<text x="224.8" y="156.6" font-size="10.4" text-anchor="middle">5.5</text>
<text x="246.65" y="156.6" font-size="10.4" text-anchor="middle">6</text>
<text x="268.5" y="156.6" font-size="10.4" text-anchor="middle">6.5</text>
<text x="290.35" y="156.6" font-size="10.4" text-anchor="middle">7</text>
<text x="312.2" y="156.6" font-size="10.4" text-anchor="middle">7.5</text>
<text x="334.05" y="156.6" font-size="10.4" text-anchor="middle">8</text>
<text x="355.9" y="156.6" font-size="10.4" text-anchor="middle">8.5</text>
<text x="377.75" y="156.6" font-size="10.4" text-anchor="middle">9</text>
<text y="170" font-size="15.6"><tspan x="287.45" textLength="10.6" lengthAdjust="spacingAndGlyphs">ln</tspan><tspan x="303.35" font-size="16" font-style="italic">N</tspan></text>
<text x="395.3" y="156.6" font-size="10.4" text-anchor="middle">5.5</text>
<text x="417.15" y="156.6" font-size="10.4" text-anchor="middle">6</text>
<text x="439" y="156.6" font-size="10.4" text-anchor="middle">6.5</text>
<text x="460.85" y="156.6" font-size="10.4" text-anchor="middle">7</text>
<text x="482.7" y="156.6" font-size="10.4" text-anchor="middle">7.5</text>
<text x="504.55" y="156.6" font-size="10.4" text-anchor="middle">8</text>
<text x="526.4" y="156.6" font-size="10.4" text-anchor="middle">8.5</text>
<text x="548.25" y="156.6" font-size="10.4" text-anchor="middle">9</text>
<text y="170" font-size="15.6"><tspan x="457.77" textLength="10.6" lengthAdjust="spacingAndGlyphs">ln</tspan><tspan x="473.67" font-size="16" font-style="italic">N</tspan></text>
<text x="43.3" y="145.8" font-size="10.4" text-anchor="end">−25</text>
<text x="43.3" y="128.49" font-size="10.4" text-anchor="end">−20</text>
<text x="43.3" y="111.17" font-size="10.4" text-anchor="end">−15</text>
<text x="43.3" y="93.86" font-size="10.4" text-anchor="end">−10</text>
<text x="43.3" y="76.55" font-size="10.4" text-anchor="end">−5</text>
<text x="43.3" y="59.24" font-size="10.4" text-anchor="end">0</text>
<text x="43.3" y="41.92" font-size="10.4" text-anchor="end">5</text>
<text x="43.3" y="24.61" font-size="10.4" text-anchor="end">10</text>
<text x="43.3" y="7.3" font-size="10.4" text-anchor="end">15</text>
<text x="62.9" y="122.7" font-size="16" textLength="19.5" lengthAdjust="spacing" font-weight="bold">(a)</text>
<text x="230.8" y="122.7" font-size="16" textLength="20.5" lengthAdjust="spacing" font-weight="bold">(b)</text>
<text x="402.8" y="122.7" font-size="16" textLength="18.2" lengthAdjust="spacing" font-weight="bold">(c)</text>
<text y="19.7" font-size="10.3"><tspan x="70.9" font-style="italic">q</tspan><tspan x="79.2" textLength="7.4" lengthAdjust="spacingAndGlyphs">=</tspan><tspan x="90.9">0.6</tspan></text>
<text y="30.4" font-size="10.3"><tspan x="70.9" font-style="italic">q</tspan><tspan x="79.2" textLength="7.4" lengthAdjust="spacingAndGlyphs">=</tspan><tspan x="90.9">1</tspan></text>
<text y="19.7" font-size="10.3"><tspan x="134.6" font-style="italic">q</tspan><tspan x="142.9" textLength="7.4" lengthAdjust="spacingAndGlyphs">=</tspan><tspan x="154.6">2</tspan></text>
<text y="30.4" font-size="10.3"><tspan x="134.6" font-style="italic">q</tspan><tspan x="142.9" textLength="7.4" lengthAdjust="spacingAndGlyphs">=</tspan><tspan x="154.6">5</tspan></text>
<text x="57" y="324.6" font-size="10.4" text-anchor="middle">0.001</text>
<text x="86.54" y="324.6" font-size="10.4" text-anchor="middle">0.01</text>
<text x="116.08" y="324.6" font-size="10.4" text-anchor="middle">0.1</text>
<text x="145.62" y="324.6" font-size="10.4" text-anchor="middle">1</text>
<text x="175.16" y="324.6" font-size="10.4" text-anchor="middle">10</text>
<text x="204.7" y="324.6" font-size="10.4" text-anchor="middle">100</text>
<text x="129.65" y="346" font-size="21.5" text-anchor="middle" font-style="italic">b</text>
<text x="229" y="324.6" font-size="10.4" text-anchor="middle">0.001</text>
<text x="258.54" y="324.6" font-size="10.4" text-anchor="middle">0.01</text>
<text x="288.08" y="324.6" font-size="10.4" text-anchor="middle">0.1</text>
<text x="317.62" y="324.6" font-size="10.4" text-anchor="middle">1</text>
<text x="347.16" y="324.6" font-size="10.4" text-anchor="middle">10</text>
<text x="376.7" y="324.6" font-size="10.4" text-anchor="middle">100</text>
<text x="301.35" y="346" font-size="21.5" text-anchor="middle" font-style="italic">b</text>
<text x="399.95" y="324.6" font-size="10.4" text-anchor="middle">0.001</text>
<text x="429.49" y="324.6" font-size="10.4" text-anchor="middle">0.01</text>
<text x="459.03" y="324.6" font-size="10.4" text-anchor="middle">0.1</text>
<text x="488.57" y="324.6" font-size="10.4" text-anchor="middle">1</text>
<text x="518.11" y="324.6" font-size="10.4" text-anchor="middle">10</text>
<text x="547.65" y="324.6" font-size="10.4" text-anchor="middle">100</text>
<text x="472.7" y="346" font-size="21.5" text-anchor="middle" font-style="italic">b</text>
<text x="42.9" y="308.15" font-size="10.4" text-anchor="end">0</text>
<text x="42.9" y="283.89" font-size="10.4" text-anchor="end">0.2</text>
<text x="42.9" y="259.63" font-size="10.4" text-anchor="end">0.4</text>
<text x="42.9" y="235.37" font-size="10.4" text-anchor="end">0.6</text>
<text x="42.9" y="211.11" font-size="10.4" text-anchor="end">0.8</text>
<text x="42.9" y="186.85" font-size="10.4" text-anchor="end">1</text>
<text x="61.8" y="206.9" font-size="16" textLength="20.9" lengthAdjust="spacing" font-weight="bold">(d)</text>
<text x="242.9" y="206.9" font-size="16" textLength="18.6" lengthAdjust="spacing" font-weight="bold">(e)</text>
<text x="415.1" y="206.9" font-size="16" textLength="16.4" lengthAdjust="spacing" font-weight="bold">(f)</text>
<text y="258.4" font-size="10.3"><tspan x="169.7" font-style="italic">q</tspan><tspan x="178" textLength="7.4" lengthAdjust="spacingAndGlyphs">=</tspan><tspan x="189.7">0.6</tspan></text>
<text y="271.3" font-size="10.3"><tspan x="169.7" font-style="italic">q</tspan><tspan x="178" textLength="7.4" lengthAdjust="spacingAndGlyphs">=</tspan><tspan x="189.7">1</tspan></text>
<text y="284.2" font-size="10.3"><tspan x="169.7" font-style="italic">q</tspan><tspan x="178" textLength="7.4" lengthAdjust="spacingAndGlyphs">=</tspan><tspan x="189.7">2</tspan></text>
<text y="297.1" font-size="10.3"><tspan x="169.7" font-style="italic">q</tspan><tspan x="178" textLength="7.4" lengthAdjust="spacingAndGlyphs">=</tspan><tspan x="189.7">5</tspan></text>
<text x="83" y="418.6" font-size="10.4" text-anchor="middle">1</text>
<text x="203" y="418.6" font-size="10.4" text-anchor="middle">10</text>
<text x="122" y="424.4" font-size="22" text-anchor="middle" font-style="italic">q</text>
<text x="256.3" y="418.6" font-size="10.4" text-anchor="middle">1</text>
<text x="376.3" y="418.6" font-size="10.4" text-anchor="middle">10</text>
<text x="297.7" y="424.4" font-size="22" text-anchor="middle" font-style="italic">q</text>
<text x="427.05" y="418.6" font-size="10.4" text-anchor="middle">1</text>
<text x="547.05" y="418.6" font-size="10.4" text-anchor="middle">10</text>
<text x="468.7" y="424.4" font-size="22" text-anchor="middle" font-style="italic">q</text>
<text x="40.5" y="367.6" font-size="10.4" text-anchor="end">10</text>
<text x="40.5" y="397.8" font-size="10.4" text-anchor="end">1</text>
<text x="86.3" y="367.7" font-size="16" textLength="19.2" lengthAdjust="spacing" font-weight="bold">(g)</text>
<text x="283.6" y="367.7" font-size="16" textLength="20.2" lengthAdjust="spacing" font-weight="bold">(h)</text>
<text x="456.4" y="367.7" font-size="16" textLength="15.6" lengthAdjust="spacing" font-weight="bold">(i)</text>
<text x="127.6" y="362.4" font-size="10.5" font-style="italic">α<tspan font-size="7.5" dy="2">q</tspan></text>
<text x="129" y="372.5" font-size="10.5" font-style="italic">γ<tspan font-size="7.5" dy="2">q</tspan></text>
<g transform="translate(18.3 257) rotate(-90)"><text x="0" y="0" font-size="22.5" font-style="italic">D<tspan font-size="15.5" dy="5.5" dx="-0.5">q</tspan></text></g>
<g transform="translate(22 408.6) rotate(-90)"><text x="0" y="0" font-size="22" font-style="italic">α<tspan font-size="15" dy="5" dx="-0.5">q</tspan><tspan dy="-5" font-style="normal">;</tspan><tspan dx="8.5">γ</tspan><tspan font-size="15" dy="5" dx="-0.5">q</tspan></text></g>
<g transform="translate(17.4 124.4) rotate(-90)"><text x="0" y="0" font-size="21" textLength="15.2" lengthAdjust="spacingAndGlyphs">ln</text><path d="M27.1 -15.3L18.4 -4L27.1 7.3" fill="none" stroke="#000" stroke-width="0.9"/><text x="31.7" y="0" font-size="12" textLength="10.5" lengthAdjust="spacingAndGlyphs">Σ</text><path d="M47.2 -15.3V7.3" fill="none" stroke="#000" stroke-width="0.9"/><text x="50.4" y="0" font-size="20" textLength="14.8" lengthAdjust="spacingAndGlyphs">Ψ</text><text x="66.3" y="4" font-size="13.5" font-style="italic">i</text><path d="M75.1 -15.3V7.3" fill="none" stroke="#000" stroke-width="0.9"/><text x="79.4" y="-7" font-size="14" textLength="11.8" lengthAdjust="spacingAndGlyphs">2<tspan font-style="italic">q</tspan></text><path d="M94.1 -15.3L102.7 -4L94.1 7.3" fill="none" stroke="#000" stroke-width="0.9"/></g>
</g>
</svg>
</body></html>
